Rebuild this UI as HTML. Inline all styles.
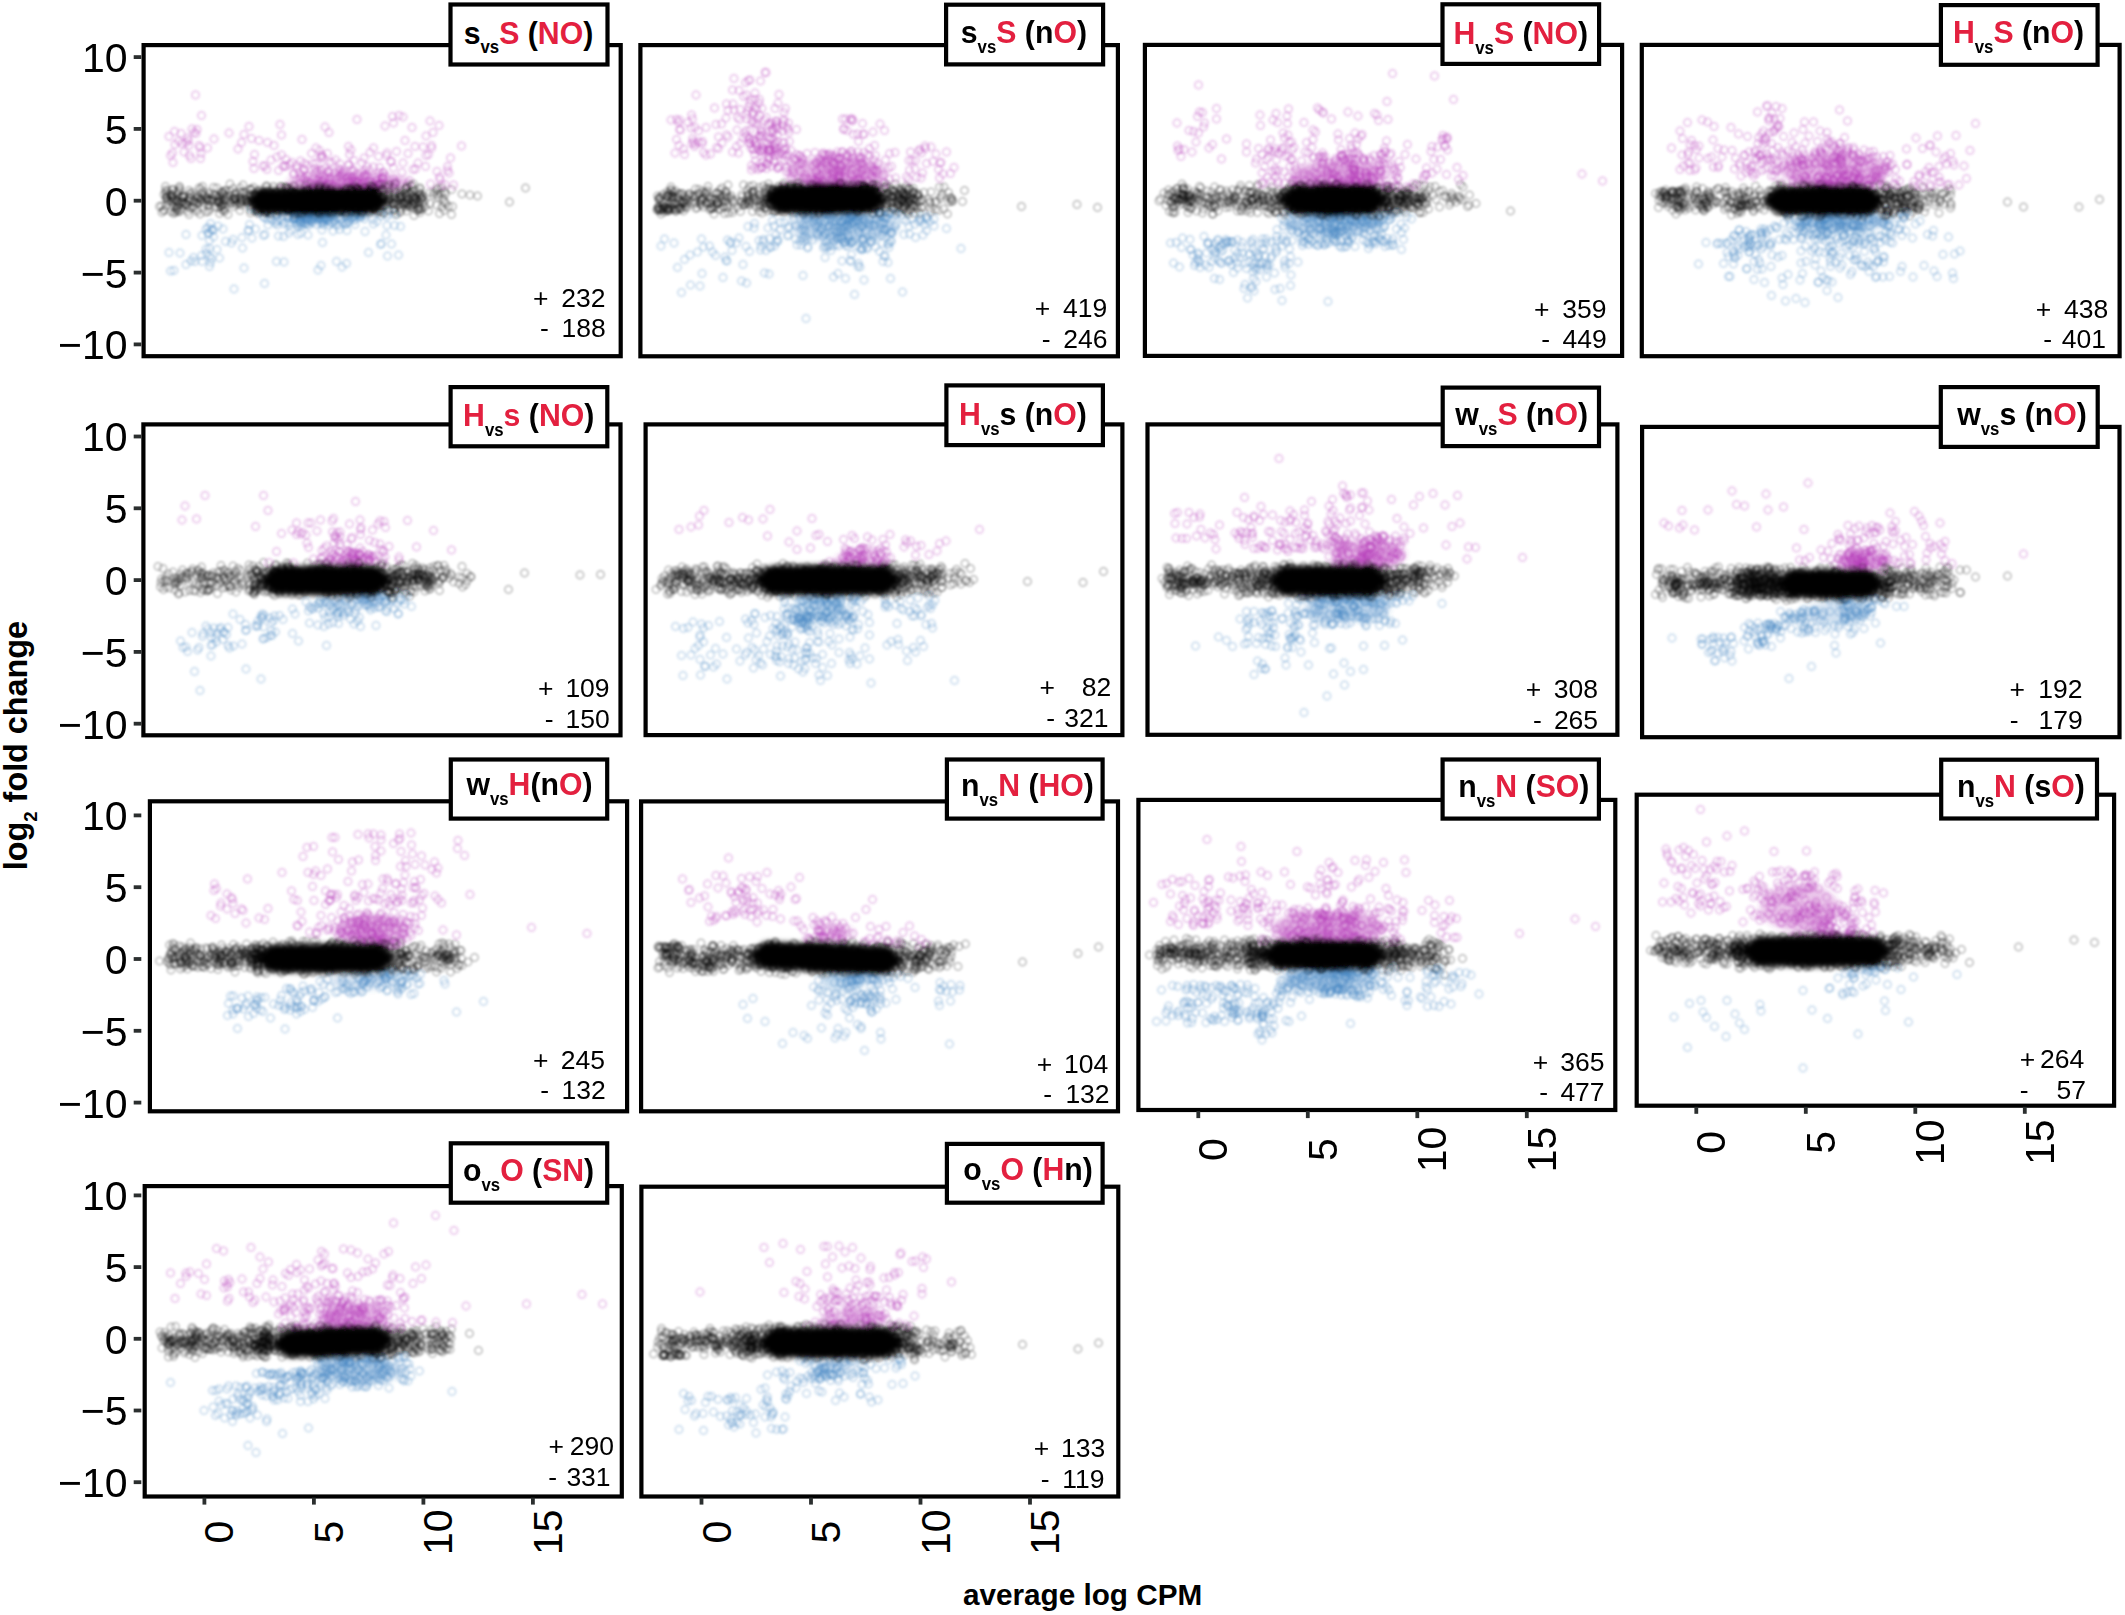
<!DOCTYPE html>
<html><head><meta charset="utf-8"><title>MA plots</title>
<style>
html,body{margin:0;padding:0;background:#fff;}
svg{display:block;}
text{font-family:"Liberation Sans",Arial,Helvetica,sans-serif;}
</style></head><body>
<svg width="2125" height="1615" viewBox="0 0 2125 1615">
<rect width="2125" height="1615" fill="#fff"/>
<defs>
<clipPath id="c13"><rect x="642.3" y="1187.6" width="475.10000000000014" height="308.0"/></clipPath>
<clipPath id="c12"><rect x="145.6" y="1187" width="475.29999999999995" height="308.5999999999999"/></clipPath>
<clipPath id="c11"><rect x="1637.6" y="795.6" width="475.5999999999999" height="309.19999999999993"/></clipPath>
<clipPath id="c10"><rect x="1139.3" y="800.8" width="475.10000000000014" height="308.29999999999995"/></clipPath>
<clipPath id="c9"><rect x="642" y="802.3" width="475.0999999999999" height="308.10000000000014"/></clipPath>
<clipPath id="c8"><rect x="150.8" y="802.2" width="475.40000000000003" height="308.20000000000005"/></clipPath>
<clipPath id="c7"><rect x="1643" y="427.8" width="475.5999999999999" height="308.49999999999994"/></clipPath>
<clipPath id="c6"><rect x="1148.4" y="425.3" width="468.0999999999999" height="308.59999999999997"/></clipPath>
<clipPath id="c5"><rect x="646.5" y="425.3" width="475.0" height="308.90000000000003"/></clipPath>
<clipPath id="c4"><rect x="144.3" y="425.3" width="475.3" height="309.09999999999997"/></clipPath>
<clipPath id="c3"><rect x="1642.7" y="45.8" width="475.9999999999998" height="309.5"/></clipPath>
<clipPath id="c2"><rect x="1145.8" y="45.8" width="475.4000000000001" height="309.2"/></clipPath>
<clipPath id="c1"><rect x="641.3" y="46" width="475.70000000000005" height="309.4"/></clipPath>
<clipPath id="c0"><rect x="144.5" y="46" width="475.29999999999995" height="309.3"/></clipPath>
<marker id="pk" markerUnits="userSpaceOnUse" markerWidth="11.4" markerHeight="11.4" refX="5.7" refY="5.7" overflow="visible"><circle cx="5.7" cy="5.7" r="3.7" fill="none" stroke="#000" stroke-opacity="0.2" stroke-width="2.0"/></marker>
<marker id="pm" markerUnits="userSpaceOnUse" markerWidth="11.4" markerHeight="11.4" refX="5.7" refY="5.7" overflow="visible"><circle cx="5.7" cy="5.7" r="3.7" fill="none" stroke="#b53cb8" stroke-opacity="0.23" stroke-width="2.0"/></marker>
<marker id="pb" markerUnits="userSpaceOnUse" markerWidth="11.4" markerHeight="11.4" refX="5.7" refY="5.7" overflow="visible"><circle cx="5.7" cy="5.7" r="3.7" fill="none" stroke="#4585c4" stroke-opacity="0.23" stroke-width="2.0"/></marker>
<filter id="bl" x="-30%" y="-80%" width="160%" height="260%"><feGaussianBlur stdDeviation="2.6"/></filter>
<filter id="soft" filterUnits="userSpaceOnUse" x="0" y="0" width="2125" height="1615"><feGaussianBlur stdDeviation="0.9"/></filter>
</defs>
<g filter="url(#soft)"><g clip-path="url(#c0)">
<ellipse cx="348.4" cy="181.9" rx="61.2" ry="9.6" fill="#b53cb8" fill-opacity="0.38" filter="url(#bl)"/>
<ellipse cx="314.4" cy="216.5" rx="27.2" ry="6.8" fill="#4585c4" fill-opacity="0.38" filter="url(#bl)"/>
<path d="M169 136.5l1.5 19 2 -2.5 .5 9.5 1.5 -31 .5 13 3.5 -3.5 2.5 -7.5 1 10 2 8.5 2 -9.5 1.5 -4.5 1 2.5 .5 5 .5 10 1.5 3 1 -29.5 2 3.5 1.5 -37.5 .5 38.5 1 -4 2 16 1 2 .5 11 .5 -5 .5 -38 6 32.5 6.5 -9 15 -6 9 16 3.5 -6.5 2.5 -8 5 -8 2.5 12 1.5 23 1 7 .5 -14 4.5 -14 4 25.5 2 0 2 3.5 .5 -27 3.5 17.5 3 -14.5 3 11.5 1.5 13.5 1.5 -46 1 64.5 .5 -34 0 -20 1.5 31.5 1.5 -1 1.5 1 0 -7 2 31 1.5 -26 1.5 24 1 -26 1 23.5 .5 -11.5 .5 -1.5 2.5 -7.5 .5 3 2.5 4.5 0 16 .5 -5.5 .5 -5 0 -17.5 1.5 -21.5 0 36.5 2 -7 0 1 .5 9 0 -15.5 1 24 1 -11.5 .5 -10.5 .5 16 0 9 1 -15 .5 9 .5 4 1 -5 1 4 0 -34 .5 30.5 1 5 0 -25.5 .5 26 1.5 -21 0 15.5 0 -11 1 -9.5 0 -15.5 1 24.5 0 -1.5 .5 9.5 .5 3.5 0 3.5 1.5 -13 0 6 0 -30 .5 34.5 0 -14.5 0 13 .5 -26 0 25 1 -27.5 0 25.5 .5 -24.5 0 14 1 11 0 -23 1.5 20.5 0 10.5 .5 -.5 0 -20.5 0 -41 .5 59 0 2.5 1 1 1 -18 0 21 0 -39 0 31.5 .5 -.5 .5 -1.5 0 -11.5 0 9 0 10 .5 -13 0 -45 .5 39.5 0 -9.5 1.5 21.5 0 -4 0 8 1 -25.5 1 24 .5 6 1.5 -6.5 0 -13.5 .5 -12.5 1 22.5 .5 -3.5 0 9 .5 0 1 -19 .5 15 0 -11.5 1 4.5 0 -13 .5 11 0 -5.5 .5 11.5 1.5 9.5 0 -17 .5 -.5 .5 -1.5 0 5 0 16.5 0 -6 .5 .5 .5 2 2.5 -11 0 4 1 -.5 0 -4.5 .5 -31 0 18 .5 17 0 -16.5 .5 -10.5 .5 25.5 1 -30 0 37.5 .5 -10.5 0 -7.5 0 12.5 0 -2.5 .5 7 .5 3.5 0 -18 .5 19.5 0 -2 .5 -8 0 -4.5 0 10.5 .5 -17 0 -10 .5 22.5 .5 -3 .5 1.5 1.5 1 0 -63 0 54.5 1 8 .5 .5 1 5.5 1 -3 .5 -1.5 .5 -11 0 21 .5 -6.5 0 -24 .5 23 0 -2.5 0 0 .5 6 0 -1 .5 -11 .5 3.5 0 -23 .5 17 0 .5 .5 -5 1 17 .5 -11 .5 -10 0 25 0 -17 1 11 0 6 .5 -9.5 .5 5.5 .5 2.5 0 -.5 0 -19.5 .5 -17.5 .5 30 1.5 0 .5 6.5 0 -3.5 1 -37.5 0 19 .5 20.5 1 -2 .5 2.5 0 .5 .5 -11.5 0 11.5 .5 -7.5 .5 0 .5 4 0 -.5 1 -28 .5 16 0 17 .5 -22 .5 16 .5 0 .5 .5 0 -.5 1.5 -6 0 -.5 0 2 .5 -6 .5 -.5 .5 11 0 8 1 -15.5 0 -50 1.5 29.5 .5 -2.5 1 36 .5 -4 2.5 -23.5 0 0 1.5 -45 1 51.5 0 -45 0 64 .5 -8 0 5.5 .5 -2 1.5 -.5 .5 7 0 -37.5 2.5 -36 3 57 1 -55.5 0 46 2 -22.5 3 43 0 -30 1.5 27 2.5 -53 1 42 2 -23 .5 22.5 2.5 -6 5 -16 2.5 19.5 .5 -30.5 0 19.5 2.5 -1 1.5 -33.5 .5 63 1 -36 0 -2.5 1.5 -13 4 39 2 -46 .5 51.5 .5 2.5 1.5 5.5 3.5 -.5 2.5 -18 0 4 1.5 2.5 1.5 -15 3 27 8 -39" fill="none" stroke="none" marker-start="url(#pm)" marker-mid="url(#pm)" marker-end="url(#pm)"/>
<path d="M169 252.5l1.5 18.5 3.5 -.5 6 -17.5 6 -18.5 0 30 5 -3.5 2.5 -3.5 1.5 4 6.5 -6 .5 -20 0 26 4 -32.5 0 20 .5 4.5 1.5 -20 0 -6 1 5.5 .5 7.5 0 16 0 -8 0 18 1 -43 0 39 .5 -33 .5 29 1 -28 1 6.5 0 -7.5 3.5 20 1 -23.5 1.5 32 3.5 -29 2.5 12.5 6 1.5 1.5 -3.5 1 49.5 8 -51.5 .5 10.5 1.5 20 4 -37.5 1 0 .5 -6 1.5 -16.5 1 30 3.5 -9 1 -18.5 2.5 2 4 -3 .5 7.5 0 18.5 1 -18 0 66 .5 -49 2 -23.5 .5 8.5 .5 5.5 2 -12 0 4 2 3 3.5 3.5 1 -9.5 0 2 0 5.5 0 40 1 -41 0 4.5 1 11 2.5 -23.5 0 8 0 -11 .5 .5 1 1.5 .5 4.5 .5 20.5 .5 25.5 0 -38 1.5 -1.5 2.5 -5 .5 -7.5 0 7 .5 8.5 0 7.5 0 -10.5 0 -11.5 2 19 1.5 -18 1 6 .5 .5 0 .5 0 -.5 .5 -5.5 .5 3.5 .5 1 .5 -6 0 -3 .5 1.5 0 12.5 0 -10.5 .5 -2 0 8.5 .5 6.5 0 -10.5 .5 -5.5 0 25.5 .5 -8 .5 -3 .5 -2.5 0 -2 .5 -5 .5 7 0 -9 .5 4.5 0 6.5 0 0 0 -9 0 19 .5 -17 0 -1.5 0 11.5 1 -9 1 -3 0 9 .5 -4.5 .5 -4.5 .5 2 0 8 1 -.5 0 -8.5 .5 5 0 -1.5 .5 -6 0 -1 .5 3 .5 6.5 0 14 0 -23.5 0 12.5 0 -11.5 .5 13 0 -6 .5 -9 .5 0 0 1 .5 2 .5 6.5 0 -3.5 0 -3 1 -1.5 0 9.5 .5 -9 .5 6.5 0 3.5 .5 -5 1 1 .5 -8.5 0 5.5 0 1 0 -5 0 4 .5 -1 .5 4.5 0 -8.5 .5 2.5 .5 11.5 0 -16 0 7 1 -3.5 .5 58 .5 -56 .5 4.5 .5 -1 1.5 48 0 -47 .5 5 0 -13 .5 3.5 0 -1 0 17 0 -8.5 0 -1.5 .5 22.5 0 -32 0 0 0 4.5 0 -2 1 0 0 1.5 0 10.5 0 -14 0 7 .5 1 0 3 .5 -10 0 8.5 0 -3 .5 0 1 -7.5 0 8.5 .5 -6 1 .5 0 0 0 7.5 1.5 -8 0 8.5 0 4 1.5 -11 0 -5 .5 8 .5 5.5 .5 -10 0 2 0 -2 0 -2 .5 12.5 .5 -14.5 0 4.5 0 18 0 -14.5 .5 -5.5 1 9 0 1.5 2 3.5 0 36.5 .5 -48.5 1 4 1.5 12.5 0 -4 1 -6 1 -7.5 .5 55 .5 -56 0 12 0 -12.5 1.5 11.5 1.5 2.5 .5 -1 0 -7.5 .5 47.5 0 -49 .5 16 0 -11 .5 -3.5 .5 6.5 0 -10 1 9 .5 -9.5 .5 0 0 3.5 1.5 2.5 0 0 1.5 -9.5 1 12 0 -4 1 -8.5 0 8 0 0 0 -3.5 0 12 .5 -9.5 0 4 1 -5 0 -1 2 -3 1 5 .5 1.5 0 -3 .5 4 .5 -1.5 .5 -2.5 .5 -6 2 6.5 .5 2 0 3 .5 12.5 3.5 21 .5 -41.5 4 8.5 .5 4.5 3.5 -2.5 3.5 -12 0 35 .5 -28.5 .5 27.5 4.5 -8.5 1 -9.5 0 -9 .5 39.5 .5 -42 .5 -3.5 3 33.5 3 -18.5 .5 -11 3.5 40.5 2 -28.5" fill="none" stroke="none" marker-start="url(#pb)" marker-mid="url(#pb)" marker-end="url(#pb)"/>
<path d="M159.5 206.5l2 -.5 .5 6.5 1.5 -2 .5 -16 .5 15.5 1 -23.5 0 4 .5 8 0 7 0 -12.5 .5 4.5 .5 -2 0 1.5 .5 -6.5 0 9.5 .5 1.5 2 -7 .5 6.5 .5 10.5 0 -14.5 .5 -2 0 3.5 1 -8.5 0 12 0 -7 .5 -5.5 0 8 .5 16 .5 -6.5 0 -7.5 .5 3.5 0 9 .5 -12.5 1 -7.5 .5 17 0 3 .5 -11.5 0 .5 0 6.5 0 2 .5 -8 0 -6.5 0 11 1 -14.5 0 19.5 .5 -7 .5 -17.5 0 3.5 0 -2 .5 23.5 0 -13.5 1 11 0 -7.5 1 -5 .5 5.5 0 -5 .5 4.5 0 -4 .5 -2 .5 8.5 .5 -7 1 7.5 0 -1.5 1 1.5 0 1 1.5 6 0 -10.5 .5 5 .5 -4.5 0 -11 0 24 1 -16.5 0 10 0 -14.5 0 4.5 .5 -3 1.5 -2.5 1 14.5 1 -5.5 0 -.5 0 6 .5 -11 2 7 .5 6.5 0 2 0 -13.5 1 4.5 0 -5.5 0 2 .5 4.5 .5 -15.5 .5 10.5 .5 15.5 .5 -13 0 -12 1 5 0 6 .5 -1 .5 -12.5 .5 5 .5 11.5 1 -8 0 1.5 1.5 15.5 1 -14.5 0 1 0 2 .5 -.5 1 5.5 0 6 0 -11.5 .5 -5.5 0 10.5 0 -12.5 .5 16.5 .5 -8 2 -1 0 -2 0 3 1.5 -13.5 0 7 1 12.5 .5 -11.5 1.5 .5 .5 -8 0 10.5 1 2.5 0 6.5 0 -5 0 -.5 .5 -5 1 16.5 .5 -17.5 0 6.5 0 0 0 -2 1 -2 0 8.5 .5 -1.5 0 -13.5 0 13.5 .5 -12 0 16.5 .5 -6 0 -12 .5 8.5 .5 -5 .5 9 0 -10.5 .5 16 0 -10 0 7.5 0 4 .5 -20.5 .5 -.5 1 5.5 .5 3.5 1 15 1.5 -14 .5 -16.5 0 7 .5 5 0 6.5 1 1 1 -3.5 0 -1 .5 -10.5 .5 18 .5 -4 .5 -8.5 0 4.5 0 0 .5 -3.5 .5 3.5 0 .5 .5 -6.5 .5 12 0 -3 3 -4 .5 13 0 -18.5 0 11.5 0 -15.5 .5 13.5 0 1.5 .5 2.5 0 -5.5 .5 -1.5 .5 2.5 0 -8 .5 8 .5 -16 .5 7.5 1.5 9 0 -2.5 0 -3 1 -3.5 .5 7 1 2.5 .5 0 1 -7.5 .5 -5 0 16 1 -4.5 0 12 0 -3 0 -13.5 .5 -7 0 0 0 5.5 1.5 7.5 0 -4 1 -11 1 23.5 0 -17 .5 3 0 -2 0 -.5 1 7.5 0 -6 0 9 .5 6 0 -7 .5 6 .5 -18.5 0 9 0 8 .5 -12 0 17 0 -18.5 .5 9 .5 -13.5 0 17.5 0 -3 0 6 1 -17.5 0 11.5 0 -5.5 .5 -.5 0 9.5 0 -11.5 .5 7 0 -.5 .5 -4.5 0 -3.5 0 8 .5 -6 .5 -2.5 0 .5 0 3.5 0 -1.5 .5 4.5 .5 -9.5 0 16 .5 -13 0 -2.5 .5 2 0 8 .5 -3.5 0 14 0 -15 0 2 0 1 .5 9.5 .5 -1.5 .5 3 0 -7.5 0 -19 0 .5 0 5.5 0 18.5 .5 -14.5 0 10 .5 -7.5 0 -4.5 0 11.5 .5 -5.5 0 12 0 -14.5 .5 -6 .5 12 1 -5.5 0 11.5 1 -12 0 1.5 0 15 0 -4.5 0 -16 .5 12.5 .5 -5.5 0 -7 0 4.5 0 -4.5 .5 8.5 1 -.5 0 -15 0 18.5 .5 -10.5 0 8 .5 -3.5 0 2 0 -6 .5 8.5 1 -7.5 0 -3.5 0 14 0 -14 .5 7.5 .5 2.5 .5 6 .5 2.5 0 -.5 0 -4 1 -7.5 1 1 0 -5 .5 -8.5 0 8.5 .5 -1.5 .5 -6.5 .5 13.5 0 7.5 0 -15 1 12.5 0 -2 0 -1.5 1.5 -8 0 14 .5 -20.5 0 13 0 4 .5 -3.5 .5 -14.5 .5 1.5 0 6 0 7 .5 8 0 -9.5 0 -2.5 .5 12 0 1 0 -7 .5 -4.5 0 0 0 -10.5 0 20.5 .5 -3 0 -3.5 0 2.5 .5 -4.5 .5 -1.5 0 12 0 -1.5 .5 -5.5 0 -15 0 8 0 10.5 .5 -4 0 -10 0 3 0 1 .5 0 0 7.5 .5 -12 0 -1.5 0 13.5 0 4 .5 -4.5 0 -4.5 .5 1 0 5.5 0 -6.5 0 8.5 0 -10.5 0 1 1 3 .5 -6 0 -9.5 0 13 .5 -5.5 0 21 0 -7.5 0 -13.5 .5 15.5 0 -16 0 11 0 0 0 0 0 .5 .5 -4.5 .5 -6.5 0 4 1 -3.5 1 1.5 0 2 0 16 .5 -7.5 .5 -6 .5 -2 1 1 .5 -3 0 10 0 -9 0 5.5 .5 -5 .5 16 0 -20 .5 7 0 -3.5 0 10 0 -9 0 1.5 0 -5 .5 2 0 12 0 -6 0 1.5 .5 -12 0 12 0 -2.5 .5 4 0 -10 .5 9 0 6 .5 0 0 -1.5 .5 -8 .5 -16 0 10 .5 .5 0 0 .5 10 0 -15 .5 9 0 5 0 -2 0 -5.5 0 -7.5 .5 9.5 0 2 0 1.5 1 -8 0 5 0 -3.5 0 -.5 .5 14 0 -9 0 .5 0 -6.5 0 8.5 .5 -7.5 0 7.5 0 -.5 .5 -9 0 2.5 0 10 0 -10.5 .5 7.5 0 -6.5 0 3 .5 .5 .5 -3 0 2 .5 2 0 -4 .5 3.5 .5 1.5 0 7.5 0 -22.5 0 7 3.5 2 0 -2 0 5.5 0 3 0 -4 0 1.5 0 8.5 .5 -9 .5 13 .5 -23 .5 10.5 0 11.5 0 -23.5 0 12 .5 14 0 -22 0 -6.5 .5 8.5 .5 -6 0 8 .5 0 0 -1 0 7.5 0 -8 .5 -.5 0 9.5 0 2 0 5 0 -9 0 4 .5 -2.5 0 -8 .5 2.5 0 7 .5 2.5 0 -3 0 -13.5 0 11.5 .5 -6 0 3.5 0 5 .5 .5 0 -4 0 -4.5 .5 5 0 -6.5 .5 1 0 -7 0 8.5 .5 -2 0 2.5 0 -3 0 -8 1 12 0 3 .5 .5 0 -4.5 .5 -3.5 1.5 6 0 0 0 12 0 -11 0 9 0 -11 0 2.5 .5 -6 .5 12 0 -15 0 1.5 .5 7 0 .5 0 -13 .5 16 .5 .5 0 7.5 .5 -13.5 0 -7.5 0 2 .5 0 0 11.5 .5 -9.5 1 4.5 0 -4.5 2 8.5 0 .5 0 -3.5 .5 -5 .5 5 1 -6.5 0 8 0 -6.5 .5 8.5 .5 7 1 -6 0 -5.5 .5 8.5 0 -15 0 3 0 14 .5 -7.5 .5 -5.5 .5 13 0 -10.5 .5 -2 0 2.5 0 -2.5 .5 6 0 -6.5 .5 -6 0 2.5 .5 6 0 -.5 .5 -4.5 0 5 0 -7 0 6 1 .5 0 13 0 -23 .5 8.5 0 14 0 -14.5 .5 -2.5 0 -1 0 -5.5 0 9 .5 7.5 0 2.5 0 -7.5 .5 4 0 -2.5 .5 -3.5 0 -3 0 -8 0 14.5 0 -6.5 .5 7 0 -5.5 .5 5.5 0 -5 1 9 0 -5.5 0 -4 .5 1 0 -3.5 0 -5 .5 15.5 0 -3.5 0 -13 .5 1 0 8 0 8 .5 6.5 0 -20.5 0 12 0 -6.5 .5 -2 0 3.5 0 8 .5 -1.5 0 -14.5 0 8.5 .5 -1 .5 5.5 .5 -2 .5 7 0 -22.5 0 13.5 .5 1 0 8 .5 -20.5 0 9.5 .5 7.5 0 -12 0 -4 .5 4 0 8.5 0 -1 0 11.5 0 -3 .5 -8 0 -12.5 0 11.5 1 -11 .5 1.5 0 13.5 0 -11 0 7 .5 .5 0 5.5 0 -10.5 0 3.5 0 -2 .5 10.5 0 3 .5 -14.5 .5 8 0 -14 .5 22.5 0 -9 0 -3 0 -2 1 13.5 0 -8.5 .5 -3.5 .5 -5.5 .5 -1.5 0 6.5 0 7.5 0 -8.5 0 -11 .5 20.5 0 -5 .5 3.5 0 -2 .5 -9.5 0 4.5 .5 1.5 0 -6 .5 4.5 0 1.5 0 -1.5 .5 4 0 -1.5 0 -1.5 .5 -1.5 0 0 .5 -7.5 0 11 0 -.5 .5 3 1 -12 0 13 0 6 .5 -17 0 5 0 -11 0 1 .5 -4.5 0 6 0 13.5 0 -4 0 -5 .5 5 0 7.5 .5 -13.5 0 -4.5 0 -4.5 .5 17 0 2 0 -12.5 .5 7 0 -7 0 -4.5 0 20 .5 -.5 0 -5 0 -15.5 .5 12 0 -2.5 0 -2.5 0 0 0 5 .5 7 0 2.5 0 -13 .5 3.5 0 7.5 0 -10 0 3.5 .5 -2 0 11.5 0 -5.5 0 -4 1 7.5 .5 -14.5 0 6 .5 3 0 4 0 -10 0 6.5 0 -7.5 0 -1 .5 9 0 9 0 -18.5 0 7.5 0 4.5 .5 -3.5 0 -1 .5 -9.5 0 11 .5 -9.5 .5 -7.5 0 27 .5 -6 0 -9.5 0 13.5 .5 -21.5 0 2.5 .5 10.5 .5 -2.5 0 4 .5 -14.5 .5 24 0 -14.5 .5 7.5 .5 -16 .5 8.5 0 -2.5 0 9.5 .5 7.5 .5 -12 0 -15 1 18 1 -8 0 2.5 .5 2.5 0 4 .5 -17.5 .5 22.5 0 -14.5 0 6 0 -6 .5 -10.5 0 8 0 6.5 0 -1.5 1 1 1.5 -3 1.5 7.5 0 6 .5 -22 0 12 0 3.5 0 1 .5 1 .5 -9 0 -3.5 0 16.5 .5 2.5 .5 -8 0 -19.5 .5 14 0 3 .5 -9 0 22.5 .5 -13.5 .5 4 .5 -.5 .5 -8 .5 3.5 .5 -7 .5 19.5 0 -18.5 .5 4.5 0 12.5 0 -14.5 .5 -.5 0 12 .5 -11.5 0 3 0 4 .5 -13 1 13 0 -6.5 .5 5.5 .5 2.5 1 -12 0 11 .5 -16.5 0 12.5 0 2.5 0 -9 .5 13.5 0 -17.5 0 12.5 .5 -13.5 0 7.5 0 1.5 0 13.5 1 -7 0 -17.5 .5 17 0 2 .5 -13 .5 6.5 .5 -5 .5 13 0 -.5 .5 -12.5 .5 10 0 -19 .5 1.5 0 5 1 9.5 0 3.5 0 -7.5 .5 2 0 -3 .5 -12 0 23.5 .5 -12.5 0 20.5 0 -11 0 -14 0 10.5 .5 1.5 0 -5 0 6 1 -4 0 -1.5 .5 1.5 1 11 0 -12.5 1 11.5 0 -3 .5 -5 0 -9.5 .5 17.5 0 -2 0 -12 0 13.5 1 3.5 0 -23.5 0 5.5 0 -6.5 1 10.5 0 -4.5 0 15.5 0 -12 .5 1.5 0 9.5 .5 -9 .5 -2.5 .5 -.5 0 7 1.5 -2.5 .5 6 3.5 4 1.5 -7.5 0 -11 3.5 2.5 .5 -3 2.5 13 .5 -15 .5 -2 0 6.5 .5 3 1.5 16 1.5 -20 .5 -5.5 .5 19 1 -8.5 1 3 0 9 .5 -18.5 1 2 0 9 3 3.5 3 -17 0 25 1 -8 9.5 -12.5 8 1 7.5 1 32 6 16 -14" fill="none" stroke="none" marker-start="url(#pk)" marker-mid="url(#pk)" marker-end="url(#pk)"/>
<g filter="url(#bl)"><g><ellipse cx="317.2" cy="200.9" rx="70.9" ry="13.4"/><rect x="251.3" y="188.4" width="131.8" height="25.0" rx="12.5"/></g></g>
</g>
<g clip-path="url(#c1)">
<ellipse cx="836.5" cy="172.9" rx="51.0" ry="16.4" fill="#b53cb8" fill-opacity="0.38" filter="url(#bl)"/>
<ellipse cx="845.5" cy="227.9" rx="53.3" ry="14.7" fill="#4585c4" fill-opacity="0.34" filter="url(#bl)"/>
<path d="M671 120l4 33 1.5 -33.5 0 20 2 -17 .5 23 .5 -16 0 -9.5 1 10 3 19 1 5.5 3.5 -32 3 5.5 .5 -13 .5 28.5 .5 -5 0 -19.5 1 22.5 1 5 .5 -19 0 16.5 1 -49 2.5 47 0 -11 3.5 12.5 .5 -2 1 11 2.5 -25 0 27.5 4.5 -1 4 -46 1.5 16.5 .5 23 2 1 0 -11.5 3 -13 .5 19 4 -25 .5 -14 0 31 1.5 -24.5 0 26.5 4.5 -47 0 62 .5 -48 1 6 0 -31.5 2.5 68 .5 -16.5 .5 -12.5 1 35.5 .5 -62.5 .5 29 .5 -10 .5 34 2.5 -5.5 .5 -41.5 1.5 36.5 .5 -50.5 1 12.5 0 41 0 -5.5 0 -16 .5 4.5 1 -8 .5 -4 0 -26.5 1 63 0 -4.5 0 0 .5 -8.5 0 -27 0 39.5 0 -63 1 20 0 48 .5 22 0 -4.5 .5 -44.5 1 19.5 0 -27 0 36 0 -27 0 -10.5 1 37.5 0 -10 .5 28.5 0 -13.5 .5 -61.5 0 15 0 -8.5 .5 61 0 -37.5 0 21 .5 -2.5 .5 4.5 .5 -36.5 .5 9.5 0 5.5 0 25 .5 20 1 -66.5 0 33.5 .5 -37 0 16 .5 19.5 0 15.5 .5 -21.5 0 34 0 5 0 -16.5 0 -70.5 0 56 1 -5.5 0 1 .5 35 0 -59 0 44 0 14.5 .5 -31.5 0 11 0 3 .5 -1 .5 13 0 -11 1.5 -30 0 23 0 -71 1 0 .5 45 0 51 .5 -4.5 0 0 .5 -20.5 1 6.5 0 -24.5 0 11.5 0 22 0 -8.5 0 -27 0 33 .5 -6.5 .5 -10.5 0 19.5 0 -5.5 0 -6.5 .5 3 0 -18.5 1 7 0 12.5 0 15.5 .5 -43.5 .5 26.5 .5 -16.5 0 -4 1 1.5 0 8.5 .5 21 0 -15.5 .5 7 0 -4.5 0 15.5 0 -14 .5 7 0 -47 .5 35 .5 -22.5 .5 4.5 0 -4 0 27 0 -21 0 -3.5 .5 27.5 .5 -16.5 0 6.5 0 27 .5 -65.5 0 26 0 38.5 0 -12.5 .5 12.5 .5 -73 0 59 1 12 1 -13.5 1.5 -21 0 12 .5 -18 0 29 .5 32.5 0 -67 0 31 .5 -38 0 9 .5 26.5 0 12.5 0 29 0 -47 1 -34 .5 48 0 -6.5 .5 21.5 0 -4 .5 -40 .5 27 .5 -25 .5 -6.5 0 37 .5 -27.5 .5 9 1.5 21.5 0 -12.5 .5 27.5 1 -9 1 3.5 .5 -14 .5 1.5 2 -5.5 0 -25 .5 29.5 2 -3 0 31.5 .5 -24 .5 -8 .5 16 .5 -8.5 1 -5 .5 2 .5 3.5 .5 15 1 5.5 .5 -9 .5 3 1.5 -24.5 .5 25.5 2.5 10 0 -5.5 1 1.5 .5 .5 0 -7 1.5 -12.5 1 14.5 .5 6 0 -6.5 0 8.5 .5 -36 .5 31.5 .5 -13.5 .5 11.5 0 -19 0 9.5 0 -10 .5 19 0 -1 .5 7.5 .5 -9.5 0 -1.5 .5 8 0 3 0 -6 0 -7.5 .5 -15.5 1 26.5 .5 -25 0 2 0 22.5 0 -9 .5 5 0 2.5 0 5.5 0 -2.5 .5 -19 .5 -13.5 0 10.5 1 21 0 -11.5 .5 -21 .5 29.5 0 -27 .5 7.5 0 25 1 -33 .5 7.5 .5 12.5 .5 -9 .5 -11 0 21.5 .5 8.5 .5 1.5 0 -27.5 .5 -3.5 .5 -2 .5 26 .5 8.5 0 -21 .5 7.5 0 -4.5 .5 -12 0 29.5 .5 -7 .5 -18.5 0 -6.5 .5 19 0 4 0 -10.5 0 15 .5 -11.5 0 .5 0 -9 1 1 .5 23 0 -15 .5 10.5 0 -24.5 0 26 .5 -28.5 0 26 1 5 0 3.5 .5 -15 0 -23 .5 7 0 12 .5 9 0 3.5 0 -1 .5 -12.5 0 -11 0 16.5 .5 3.5 0 -1 .5 -13.5 0 -6.5 0 26.5 0 -1.5 .5 -8 .5 -9.5 0 6 0 14 .5 -19 0 2 .5 21 0 -.5 0 -1.5 0 -35.5 .5 0 0 -33 .5 64.5 .5 -54 0 42 .5 16.5 0 -3.5 0 -56 .5 58.5 0 -10.5 .5 -14.5 .5 -43 0 51.5 0 2.5 .5 -17 1 -25.5 0 23.5 1 2 1 7.5 0 16.5 1.5 -6.5 0 -54 0 32.5 .5 30 .5 -18 0 -13 0 -32.5 .5 51.5 0 -15.5 0 31 0 -64.5 .5 55.5 0 -18 .5 -38.5 0 42.5 .5 5.5 0 -33.5 .5 46.5 .5 -.5 .5 2 .5 5 .5 2 0 2.5 .5 -19.5 .5 17.5 .5 -4 0 -52 .5 45.5 0 -27.5 0 26 .5 -36.5 0 38.5 .5 -23.5 .5 17.5 .5 -14 0 -2 1 4.5 .5 12 0 -3 0 -7 0 14.5 0 -21 .5 12 0 13 .5 -20 0 -39.5 .5 64.5 0 -53.5 .5 52 0 -20.5 0 3 .5 -35 0 18.5 1 23 2.5 -21 0 26.5 2 -32.5 0 7.5 1 32 0 -13.5 .5 -8.5 .5 11.5 .5 9 .5 -17.5 .5 -37 0 39.5 .5 -1.5 .5 -10 0 18.5 .5 -33 1 10 0 35.5 0 -3 .5 -17.5 .5 1 .5 9 0 7 1 -24 2 -39.5 3.5 51 .5 8.5 0 5 .5 -58 0 52 1 -22.5 3 8 1 11 0 -25.5 2 13 3.5 -14 .5 25.5 11 -1 2 2.5 .5 -19 .5 9.5 1 -18 1.5 8.5 3 8.5 .5 -8.5 1 17 2 -26.5 1.5 -1.5 1 28.5 .5 -25 1 20 2.5 -27 .5 2.5 1 15 4.5 -16.5 2 14.5 3 -7.5 2.5 15.5 1 8.5 .5 -15 1 -.5 2 11.5 3.5 -22 4 21.5 3.5 -6" fill="none" stroke="none" marker-start="url(#pm)" marker-mid="url(#pm)" marker-end="url(#pm)"/>
<path d="M661 246l3.5 -7 9.5 4 3.5 24.5 4 25 3 -33 5.5 -4.5 .5 30 7 -33 2.5 34 1.5 -47 .5 34.5 1.5 -26.5 6 -1 3 6 3 3.5 7.5 22 2 -20.5 1 3.5 1 .5 .5 -21 3 2 0 1 1.5 7.5 4.5 -7.5 2.5 -5 2.5 43 1.5 -16.5 3 -18 .5 36.5 1.5 -56.5 1.5 25 4.5 -23.5 .5 -4.5 4.5 17 1.5 9.5 .5 -3.5 2 -5 .5 -2 1 33.5 1.5 -22.5 2 -22.5 1 46 .5 -35.5 .5 8.5 .5 .5 2 -27 1.5 5.5 .5 20 1.5 -11.5 .5 7.5 1 -2.5 .5 1.5 2 -11 .5 -7.5 4 0 3 13.5 1 -1 0 -7 .5 -1.5 4 -10.5 1 3.5 1.5 19.5 0 -13.5 .5 -13 1 32.5 3 -27.5 0 23.5 1 4 0 -30 1 23 0 -8.5 .5 -17 .5 12.5 0 50.5 .5 -60 .5 25.5 0 -26 .5 12.5 0 10.5 .5 -7.5 0 5.5 1 82.5 0 -93.5 .5 -6.5 .5 -3 .5 23.5 0 9 .5 -1 1 -32 .5 -1 0 3.5 3 22.5 1 -18 .5 -9 0 4.5 0 -1.5 1 8.5 .5 2.5 0 -7 1.5 13 .5 -16.5 .5 6.5 0 3.5 0 8.5 1.5 -22.5 1 18.5 0 -10 1 7.5 1.5 -4 0 12 .5 11.5 1 -27 0 -7.5 0 32.5 .5 -23.5 0 35 0 -24.5 0 1 0 -21 1 29 .5 6 0 -34 .5 .5 .5 31.5 1 -33 .5 19.5 0 -18.5 0 12.5 0 -11.5 .5 10.5 0 20.5 0 -29.5 1 20 .5 -22.5 0 36.5 1.5 -29 .5 -5 0 29.5 0 -21.5 .5 -11 0 15 0 48.5 0 -40.5 .5 4.5 .5 -16 1.5 -4 0 .5 .5 23 0 -12 .5 5.5 1 35.5 0 -35 0 -7 0 -4 .5 -15 0 33.5 0 -10 0 -19 2 15.5 .5 3.5 0 -14.5 0 1 .5 -13 0 21 0 -2 .5 9.5 0 23 0 -49 0 27 0 -18 1.5 5.5 .5 -6 0 6.5 .5 3.5 0 12 .5 -24.5 0 -8 0 32.5 0 -25 .5 61 0 -33 0 -3.5 .5 -22 .5 6 1 4 0 16.5 .5 -35.5 0 14 0 2 0 -15 .5 28.5 0 -23 0 17.5 0 -14 .5 17 0 -19.5 .5 -4.5 .5 46.5 0 -17.5 0 -23.5 .5 9 0 -10 0 -8 .5 14 0 37 0 -45.5 0 -2 .5 40.5 0 -39 .5 7 0 20 0 0 1 -27 0 8 .5 -6 0 3.5 0 20 0 -25.5 1 79 0 -73.5 1 -8 .5 7 0 26 1.5 -26 .5 -4 0 12.5 0 38 .5 -34 0 -16 0 6.5 0 40.5 .5 -32.5 1 36 0 -18.5 .5 -33.5 .5 12 0 -1 .5 24 .5 -37 0 9.5 .5 -4 0 30.5 0 -9.5 0 .5 0 8.5 .5 -33.5 0 11 0 13.5 .5 -.5 .5 41 .5 -35 .5 -25.5 0 3 1.5 8 .5 18.5 0 -1.5 1 -24.5 1.5 3.5 0 -7 .5 4.5 .5 18.5 .5 -2 1 -6.5 0 7.5 .5 -28 .5 12 0 12 .5 -24.5 .5 11 1 2 .5 21 .5 -28 1.5 -3.5 2 8.5 0 27.5 .5 -36.5 0 .5 0 -2.5 .5 -.5 .5 -.5 0 16 1 7.5 0 7.5 .5 -19.5 0 -7.5 .5 45.5 0 -29 1 23 0 -26.5 0 -6.5 .5 7.5 0 -12 .5 38.5 .5 -39.5 .5 2 .5 -3 0 13.5 1 -11 .5 44 0 -18 .5 -1.5 .5 4.5 0 -34 1 -.5 .5 65.5 0 -46 .5 8 0 1.5 .5 -9 .5 0 0 -20 2.5 2.5 .5 -1.5 0 12.5 1 -2.5 .5 -10 5 1 1 77 .5 -73 1 15.5 2 -13.5 3 5.5 .5 7.5 2.5 -15.5 2.5 6 1 13 3 -16 1.5 -2 .5 -1.5 1 3.5 1.5 13.5 1.5 -10 2 5.5 0 -13.5 .5 .5 0 2 3 2 4 4.5 0 -7 12.5 9.5 14.5 20" fill="none" stroke="none" marker-start="url(#pb)" marker-mid="url(#pb)" marker-end="url(#pb)"/>
<path d="M657 210l.5 -2 0 -12 .5 14 .5 -10.5 0 7.5 0 2 .5 -2.5 .5 -9 0 1.5 0 10 0 -10.5 .5 11 0 1.5 1 3 0 -17 0 4 0 8.5 2 -3.5 0 2.5 0 -14 0 7.5 0 7 .5 .5 .5 2.5 1 -5 0 -.5 2 -14.5 0 18.5 0 -14.5 0 12.5 .5 -.5 0 -11.5 0 12 0 2.5 .5 -15 0 8.5 .5 -11 0 2 0 13 .5 1.5 0 .5 0 -2 1 -11 .5 -3.5 .5 12.5 0 -19.5 0 3.5 0 -.5 0 14 .5 -8 0 13 .5 -10 0 1.5 .5 -4 .5 0 .5 12.5 0 -16.5 .5 11 .5 -5.5 .5 10.5 .5 -5 0 -12.5 0 20 .5 0 .5 -1.5 .5 -11.5 .5 -1.5 0 9 .5 3 1 0 0 -15 0 1 .5 12.5 .5 -6 .5 8.5 .5 -1 0 -5 .5 -10 1 9 .5 -8.5 .5 9 0 8 0 -9 .5 -1.5 0 -4 .5 10 .5 -4 .5 1 1 4.5 0 -1.5 0 -6.5 0 -1.5 1 5 1 -7.5 .5 -2 .5 0 3 2 .5 4.5 .5 -4 1 7.5 1 -8 0 6.5 0 -4 0 -9.5 .5 19.5 1 -1 1.5 -13.5 .5 -.5 0 -4 1.5 14.5 .5 -1.5 0 -2 .5 4.5 0 -4.5 .5 -2 .5 -7 0 8 .5 7.5 .5 -9.5 1 -4.5 1 1 0 8.5 1 .5 .5 -10.5 .5 3 0 -5 .5 -4 1.5 11 0 12 1 -10 0 4 0 0 .5 4 0 1.5 .5 -1 .5 -8.5 1 9 1 -3 0 8.5 .5 -6.5 .5 -7.5 .5 -1 1 -6 0 .5 1 8.5 0 .5 0 1.5 .5 -10.5 0 10 .5 5.5 0 -10 1.5 -9 0 4.5 .5 3.5 0 11.5 1.5 -8.5 0 -13 1.5 8.5 0 10 0 .5 .5 -5 .5 11.5 1 -22 0 9.5 .5 -9 0 5 .5 -2.5 .5 9.5 .5 3 .5 -22 .5 12.5 0 15.5 2.5 -17.5 .5 2.5 .5 2.5 .5 12 .5 -3 1 -6.5 0 -2.5 3.5 7 3 4 .5 -9.5 .5 -7 .5 6.5 .5 -4.5 0 8 1 -20 1 19.5 .5 .5 .5 -1.5 .5 -1.5 1 -2 .5 -10 0 6 .5 7.5 0 -9.5 1 1.5 0 9 .5 -3.5 0 1 0 -15.5 .5 13 1.5 -7.5 1 19.5 .5 -26 0 17 0 -6.5 0 -2.5 0 -1.5 .5 5.5 .5 -6.5 1 8.5 1 7.5 .5 -6.5 2 -9.5 .5 9.5 0 -5.5 0 9 0 7.5 0 -24 1 20 .5 -9 0 7 1 -4 .5 -6 0 17.5 1 -8.5 .5 -5.5 0 -13 1 16.5 .5 -9.5 0 10.5 0 4 0 .5 0 -11.5 1 -7.5 .5 10 0 0 0 9 .5 -15 0 11 .5 7 0 -23 .5 9 .5 -13 .5 6 .5 12 0 1.5 0 -15.5 .5 16.5 0 -7 .5 -1.5 0 -6 0 14 1 -6.5 0 -2.5 0 15.5 0 -17.5 .5 7 0 -8 0 14.5 .5 -14 0 -2.5 .5 -.5 0 7 0 1 0 -1 .5 6 0 -12.5 0 8 .5 3 0 4 0 7 .5 -15 .5 .5 0 9.5 0 4 0 -18 0 18 .5 -19 0 5.5 .5 1 0 -1 0 0 .5 -7 .5 6.5 0 -3.5 0 14 0 -12 0 5 1 9.5 0 -5.5 0 -12.5 0 14 .5 -15.5 0 -4 0 8 .5 -4.5 0 10.5 .5 -6.5 0 .5 .5 2 0 .5 0 3 0 -3.5 .5 10 .5 -10.5 0 -6 .5 20.5 1 -20.5 0 18 0 -9 0 4.5 .5 -13 0 14 0 4.5 .5 -23 0 26.5 0 -8.5 0 3.5 .5 -.5 0 -24 0 15 0 -1.5 0 -1.5 .5 5 .5 .5 0 4 0 -10 .5 13.5 0 -12 0 -7.5 .5 3.5 0 13 .5 3.5 0 -13 0 -3.5 .5 7.5 .5 8.5 0 -10.5 1 -3 0 6 0 2.5 .5 2 0 -4.5 .5 -14.5 0 12.5 0 -7.5 .5 -2 0 -1.5 .5 14 0 -4 .5 -2 0 3 .5 7.5 0 -7 0 -5.5 0 7.5 0 -16.5 0 26 .5 -23 0 21 0 -7 .5 -9.5 0 6.5 .5 -10 0 7.5 0 17 1 -11 0 -3 0 -7 0 3.5 .5 3 0 -4 1.5 -7.5 .5 7 0 1.5 0 -4 0 11 .5 -19 0 10 0 12.5 0 -7 0 -11.5 0 21.5 .5 -10.5 .5 -11.5 0 7 .5 8.5 0 -6.5 .5 -9 0 -4 0 9 1.5 -2.5 0 1 0 20.5 0 -5 .5 -11.5 .5 -1.5 0 4 1 1 0 14 .5 -2.5 .5 -5.5 0 10 0 -5 0 -11.5 0 1 .5 -7.5 0 12.5 .5 -11.5 0 2 .5 -2.5 0 1 1 10.5 .5 -11.5 0 20.5 .5 -14 0 -1 0 12.5 .5 -9 .5 -4 1 2 0 8.5 1 0 .5 -15 0 13 .5 -13 0 4.5 0 1.5 0 7 1 -12 0 4.5 0 -.5 .5 -8.5 0 20 0 -24 0 21.5 .5 8 0 -10 0 -12 0 11 0 -6 .5 13.5 .5 -10.5 0 -2.5 0 -6 .5 13.5 .5 -8.5 0 5 0 -9.5 .5 4.5 0 -3.5 0 4.5 0 -5 .5 5.5 0 -5 0 .5 0 6 .5 -2 0 7 .5 -9.5 0 -8 .5 3 0 17 0 -11.5 0 7 1 -.5 0 12 0 -4 0 -8 0 -6 .5 10 0 6.5 .5 -12.5 .5 -3.5 0 8.5 .5 -16 .5 2.5 .5 4.5 0 0 0 1.5 0 4.5 .5 7 0 -7 .5 5 .5 -7.5 0 6 0 -3.5 .5 2 0 -5 .5 -3 0 8 .5 -8 0 1.5 0 6.5 0 -1 .5 -9 0 -2 0 18.5 .5 -16 0 13.5 .5 -2.5 0 -9.5 .5 7 0 2.5 0 0 .5 -2 .5 -6 1 -5.5 0 3 0 15.5 0 -12 0 -5 0 14.5 .5 -10 .5 -6 0 10 .5 5 0 -18 .5 8 0 6 .5 -4.5 .5 -6 0 3.5 0 12 0 -11.5 .5 7.5 .5 -3.5 0 7.5 0 -16 0 -2.5 .5 3 0 8 0 -6.5 0 0 .5 0 .5 -6.5 0 17 .5 1 .5 -3 .5 3 0 -7 0 -8 .5 1.5 0 12.5 0 -15 .5 22 0 -12.5 1 4.5 .5 -6 .5 -7.5 0 11.5 .5 -12 0 5 0 6.5 0 -6 .5 -3.5 .5 1.5 .5 1.5 0 -11.5 0 1 0 17.5 1 4 0 -4 .5 5 0 .5 0 -6.5 0 3.5 .5 -.5 .5 -6.5 .5 6 0 -5.5 .5 -3.5 0 10.5 .5 -7.5 .5 14 0 -15 .5 0 0 -4 1.5 -.5 0 -1.5 .5 14 0 -10 0 .5 0 1.5 .5 6 0 -3 0 -6.5 .5 -7.5 0 16.5 0 -.5 .5 -2 0 -2 0 13 .5 -12.5 0 -1.5 0 7.5 0 -9.5 .5 3.5 0 0 0 4 .5 -8.5 1 11 1 -19 0 9 .5 -2.5 0 12.5 0 .5 0 -6 .5 -8 0 11.5 0 -2 .5 -3.5 0 -1.5 0 11.5 .5 -4.5 0 -5.5 .5 2.5 0 6.5 .5 1.5 0 -10.5 0 -4 .5 8.5 0 -6.5 1 17.5 0 -16 0 -1 .5 14 0 -17 .5 -7.5 0 18 0 7.5 .5 -13.5 0 1.5 0 14 .5 -6.5 0 -10 0 6 .5 -2.5 .5 2.5 0 -4.5 0 1 0 10 .5 -23 0 16.5 0 2 .5 -3 0 -7.5 0 10.5 .5 2 0 -11 0 -4.5 .5 5.5 0 -5.5 .5 -4.5 0 11 0 8 0 -5.5 .5 6 .5 1.5 .5 -20.5 0 .5 0 -1.5 .5 4 0 -2 0 15.5 0 -12.5 .5 8 0 -9.5 .5 0 .5 5 0 15 0 -2 0 -11 .5 1.5 0 -3 1 7.5 0 -13 0 1.5 .5 10.5 0 -4 0 5 .5 -3 0 -3.5 0 9 0 -1.5 .5 1.5 .5 -11 .5 8 .5 -10 .5 7 .5 2.5 .5 8.5 0 -20.5 .5 13.5 0 -8 0 14 .5 -23.5 0 29 0 -29 .5 14.5 0 1 .5 -7.5 0 -2.5 .5 7.5 0 -5.5 0 14.5 .5 .5 0 -19 0 21.5 0 -21 .5 4.5 .5 1 0 5.5 0 -14.5 .5 8 0 8 0 3.5 0 -12.5 .5 .5 0 10.5 0 3 0 -21 1 9 .5 8.5 0 0 0 3 .5 7.5 0 -6 .5 5.5 1 -14 0 2 0 -2 0 5.5 0 1.5 .5 -7.5 0 -6 1.5 10.5 0 -4.5 .5 6 .5 -7.5 0 2.5 .5 -.5 0 -3.5 .5 -8 0 8 .5 12.5 0 -1 .5 5.5 .5 -24 0 -1 0 16.5 .5 4.5 0 -14 0 -9.5 .5 19.5 0 0 1 -10.5 0 3.5 .5 2.5 .5 -12 0 6 1.5 -3 .5 13 0 -7.5 .5 -.5 .5 5.5 0 -4 0 4 1 1.5 0 -6.5 0 -5.5 0 7.5 .5 8.5 0 -14.5 0 16.5 0 -12 0 -5 .5 17.5 1 2 0 -8.5 0 -10.5 .5 -8 1.5 20.5 0 -4 .5 -12.5 0 15 0 -1.5 0 -7.5 0 13.5 .5 -12.5 .5 4 0 13 0 -7 .5 -7 .5 -3 0 -5 1 2 0 11.5 .5 -4 0 -9 0 9 .5 -7 0 -3.5 .5 12 0 -1.5 0 7.5 .5 -12 .5 -2 0 15.5 0 -8 0 8.5 .5 -15.5 0 3.5 .5 -2 0 7 0 -9 0 12.5 .5 1.5 0 -3.5 0 6 .5 -8.5 .5 -4.5 0 9 0 -8 .5 -11.5 0 2.5 .5 22.5 0 -16 .5 4.5 0 3 0 9.5 1 -14.5 .5 16.5 .5 -25.5 0 13 0 -7.5 0 -4 0 12 .5 -3 0 2 0 -12.5 .5 9.5 0 12 1 -.5 0 -8.5 .5 3 0 -7 1 8 .5 1 0 -7 0 -5.5 0 -5.5 0 3.5 .5 1 .5 6 0 7 0 -4 0 -8.5 0 20.5 0 -6.5 2.5 -6.5 .5 -6 0 11.5 .5 3 0 -13 .5 -2.5 .5 4.5 0 -2.5 1 6 .5 11.5 1 -12.5 .5 7 0 0 .5 -8 2 -7 4.5 7 1.5 3.5 0 5.5 0 -6.5 .5 10 .5 -20 4 9.5 0 8.5 1.5 -8 2 8.5 1 -23.5 1 11.5 .5 -2.5 1.5 -1.5 1 14.5 .5 -22 3.5 27 1 -21.5 .5 9.5 1.5 -4 .5 0 .5 3 1 .5 0 -2 10 2 2 -11 57 16 55.5 -2 20.5 3" fill="none" stroke="none" marker-start="url(#pk)" marker-mid="url(#pk)" marker-end="url(#pk)"/>
<g filter="url(#bl)"><g><ellipse cx="825.1" cy="199.1" rx="60.1" ry="15.0"/><rect x="769.2" y="185.0" width="111.8" height="28.1" rx="14.0"/></g></g>
</g>
<g clip-path="url(#c2)">
<ellipse cx="1339.2" cy="175.1" rx="48.8" ry="14.2" fill="#b53cb8" fill-opacity="0.42" filter="url(#bl)"/>
<ellipse cx="1332.4" cy="223.9" rx="48.8" ry="11.9" fill="#4585c4" fill-opacity="0.38" filter="url(#bl)"/>
<path d="M1177 123l.5 23 .5 4.5 1.5 -1.5 1.5 7.5 3 -7 5 -19 3 21.5 1.5 -20.5 2.5 10.5 1.5 -25.5 1 -31.5 0 48 1 -21 3 .5 1 14.5 1 -4 4.5 25 3.5 -3.5 4 -25.5 0 -10.5 5 50.5 5 -20 20 5 0 8 9 11 1 -4 2 -10.5 1.5 -33.5 .5 10.5 1 58 .5 -29 0 18.5 1 9.5 1.5 -16 2 -7 1 18 1 -27.5 0 7 0 -8.5 2 33 0 -41.5 1 11.5 .5 20 1 -51.5 2 48.5 0 -20 0 3 .5 19.5 0 6 .5 -63.5 .5 46.5 1 -37.5 .5 58 .5 -10 0 12.5 0 -29.5 3 -2 .5 -3 1 -15.5 .5 15 .5 24 .5 11 0 -45 1 18.5 1.5 -40.5 .5 7.5 .5 11.5 .5 21 0 21 0 -68 .5 33 1 24.5 1 -7 .5 -17.5 .5 17 0 -9 .5 31.5 .5 -1.5 1 -32.5 .5 18.5 0 19 .5 -4 1 -11.5 1 10 .5 2 .5 4 3.5 -24.5 1.5 25 1 -13 0 -50.5 0 53 1 -23.5 0 34 .5 -5 1 4 0 -42.5 .5 45.5 1 -35 .5 22.5 2 8 1.5 -36 0 30 .5 4 .5 -24 0 -27.5 0 9.5 .5 33.5 .5 -16 1.5 25.5 0 -50.5 .5 56 0 -3.5 0 1.5 .5 -19.5 0 8 1 -66.5 1.5 49.5 0 23.5 .5 -71 .5 69 0 -23 .5 32 .5 -9 .5 8.5 0 -18.5 .5 -5.5 .5 -10.5 0 5 0 -46 .5 67 0 6 0 2 0 -30.5 0 7 .5 -50.5 0 47.5 1.5 -4 1 29.5 .5 -15 .5 15 0 -1.5 .5 -9 .5 -2 0 -2 1 -8.5 0 23.5 2 2 0 -14.5 0 15 .5 -21.5 0 -48.5 0 69.5 .5 -8 0 -8.5 .5 7.5 .5 0 1 -5 .5 -12.5 .5 23.5 0 -10.5 .5 -16.5 .5 13 0 -11 1 24.5 .5 -8.5 .5 -42.5 0 49.5 0 -6.5 .5 -37 0 41.5 0 -2.5 .5 -17 0 22 0 4.5 .5 -3.5 0 3 .5 -4.5 .5 -26.5 0 18 .5 -20 0 -5.5 .5 37.5 .5 -32 0 26.5 0 -26 0 31.5 .5 -3 0 -27.5 1 3 .5 26 .5 3 0 -29 .5 29 0 -34 0 13 .5 -3 1 19.5 .5 -3 1 -19.5 0 -49.5 .5 51.5 0 -5 .5 20.5 0 -25 0 20 .5 -35.5 .5 44.5 0 -1.5 .5 -23 0 26.5 0 -11.5 0 4.5 .5 -15.5 0 23.5 0 -40.5 0 40.5 .5 -10 0 11 0 -38.5 .5 11 1 -6 0 15 .5 9 0 -8 0 -4.5 .5 9.5 0 -4 .5 -1.5 0 5 0 -10 .5 7.5 0 9 0 -47.5 0 20 0 26 .5 8.5 0 -8 0 -9.5 .5 12 0 -22.5 0 21.5 .5 -36.5 .5 37 .5 2.5 0 -31.5 0 28.5 .5 -65 0 70.5 0 -47.5 .5 15.5 0 21.5 1 9.5 0 -29 0 14.5 .5 .5 0 11 1 -46.5 .5 51.5 0 -5.5 0 3 .5 1.5 0 -52 1 24.5 .5 31.5 0 -32 .5 2 .5 1 0 20 .5 -10 .5 2 .5 -.5 0 4 0 -1 .5 17 0 -15 1 10 0 -3 0 -7.5 1 10 0 -2 .5 -2 0 -23 1 25 0 -27.5 .5 32 0 -14 .5 -6 0 -9 .5 26 0 -10 .5 8.5 1 -7 .5 0 0 -6 .5 -2 0 -15 .5 26 0 -68 2.5 1.5 1.5 5.5 0 44 .5 16.5 .5 .5 0 -17.5 .5 -3.5 0 27.5 0 -33.5 0 17.5 .5 -6 0 5.5 0 -1 1 -16 .5 .5 1 8 0 -4.5 1 5.5 .5 -16 0 3.5 1 23 0 11.5 0 -34 .5 36 .5 -47 .5 -39.5 .5 85 0 0 .5 -67 0 45 0 22 2 -31.5 1 -1.5 .5 10.5 .5 3.5 .5 -94 1 107.5 .5 -10 1 -2 0 16 .5 -10 0 11.5 2 -14.5 0 14.5 0 -7.5 .5 -1.5 1 -16 1.5 6 4.5 -13 1.5 32.5 1 -42.5 1.5 43.5 4 -4 2.5 1.5 .5 -26.5 7.5 20 0 -3 2.5 -1.5 0 .5 .5 -7 4.5 -16.5 1 -5 0 26.5 2 -13.5 .5 -83.5 2.5 93 .5 -22 3 12.5 1.5 -20 1 -4 0 3.5 2 7 0 0 1 -7 .5 35.5 .5 -37.5 .5 13 0 -11.5 6 -39 3.5 68 1.5 12 4.5 -4 119 -1.5 20.5 7" fill="none" stroke="none" marker-start="url(#pm)" marker-mid="url(#pm)" marker-end="url(#pm)"/>
<path d="M1170.5 243l3 20 2.5 -20.5 3.5 24.5 2 -19.5 1 -9.5 7.5 1.5 .5 10 .5 0 2 5.5 1.5 10.5 1 -3 2 -4 .5 -5.5 .5 1.5 0 6 1 2 .5 5 4 -31 1.5 28.5 1 -12 1 -9 .5 -1.5 .5 1 .5 24 3 -6 0 -12 2.5 8.5 0 -9.5 0 30 .5 -26.5 0 -8.5 .5 9.5 2 -12.5 .5 -1 .5 21 .5 -12 .5 31 1 -17 .5 -11 0 -5 .5 17 1.5 -20.5 0 7 2 -6 1 -4.5 .5 2 1 20 0 -19.5 0 .5 2 17.5 0 1 .5 -19 1.5 22.5 .5 -23 .5 .5 1 30.5 1 -22.5 .5 8 2 5 .5 -23 0 13.5 0 14.5 2 -10.5 2.5 -10.5 0 -4.5 .5 10.5 1.5 35.5 1 -4 .5 -21 1 5 1 29.5 1.5 -36.5 0 -6.5 .5 -1.5 1.5 -12 0 46.5 1 -1 0 -43.5 1 5 0 23.5 0 -32.5 .5 39 0 -14.5 .5 27 .5 -23 1 -5.5 .5 -10 0 29 .5 -11.5 .5 -2.5 .5 -10 1 -1 0 -2 .5 9.5 1 6 2 -26.5 .5 19.5 0 -24 0 9.5 1.5 .5 1.5 7.5 .5 -17.5 0 3.5 0 20.5 .5 14 .5 -8.5 0 -2.5 0 -1 2.5 0 1.5 -7 .5 -16 0 14 3 17 .5 16.5 .5 -42 .5 5 .5 -16 0 13.5 0 -9.5 .5 -11 3 59 2 12 0 -82 0 21.5 0 6 1.5 -9.5 0 -10.5 1 -4.5 0 39.5 .5 6.5 0 -3 1 -22 .5 -2 1.5 -29 1 52 .5 -14.5 1 36.5 0 -29 0 -44 .5 9.5 0 53 0 -45 .5 -4 .5 14.5 .5 -9.5 .5 -17.5 1 1 0 10 4 37.5 0 -29.5 1 0 2 4.5 1 5 0 -26.5 .5 30 .5 -17 .5 -7.5 0 20 .5 -5 1 7 0 -8 1 -17 1 0 1 -8.5 .5 29.5 0 5.5 .5 -6 0 -20 .5 4.5 0 6 1 -15.5 .5 15 0 -9.5 0 12 .5 10 .5 -29 .5 29 .5 -25.5 0 7 0 11 1.5 10.5 2.5 -29.5 .5 -3.5 0 34 .5 -23 0 -9.5 0 33 0 -26 .5 -6 .5 7 .5 7.5 .5 -11 0 6 0 5.5 .5 7.5 0 -6.5 .5 4 .5 -21 0 30.5 1 -28.5 1 2.5 .5 -3 0 31 0 -19.5 .5 9 .5 -2.5 0 12.5 .5 -22 .5 20 .5 -2.5 0 -15 0 -4 .5 7.5 .5 3.5 .5 69.5 .5 -58.5 .5 -9.5 .5 -15 0 -1 0 -.5 1 6 .5 -10 .5 .5 .5 15.5 0 -10 .5 -2.5 0 13.5 0 -17 .5 21.5 .5 -21.5 0 26 0 -14 .5 -9.5 0 0 0 23 0 -6 0 1.5 0 7.5 .5 -14 0 4 .5 -6.5 0 7.5 0 -8 1 11 0 6 0 -18.5 .5 -11 0 5 .5 16 0 8.5 0 -10.5 .5 -17.5 .5 -2 1 4 0 17.5 .5 13 0 -27.5 0 .5 .5 -7.5 0 7 0 13.5 .5 -5 0 -7 .5 -6.5 0 27.5 .5 6.5 0 -32 0 15.5 1 -4.5 .5 4.5 0 -18 1 0 .5 34 0 -24 .5 -3 .5 7.5 0 -12 .5 -1 0 10.5 .5 11 0 10.5 .5 -35 .5 30.5 0 -12 0 9.5 .5 -14 0 -8.5 .5 23.5 .5 2 0 -16.5 1 8 0 -21.5 .5 6.5 .5 2 .5 17.5 1 -17 0 15.5 0 -22 0 4 .5 -7.5 .5 14.5 .5 -11 .5 7.5 .5 24 .5 -26.5 0 1.5 1 1.5 0 -10 1 18.5 2 0 0 -8 1.5 -4 .5 1 .5 1.5 0 -5.5 1 23.5 .5 -17 0 10 0 -11.5 .5 -8.5 .5 2 .5 19 0 -11 0 5 1 -15 0 .5 0 2 0 -1 .5 27.5 0 -22.5 1 4.5 1 19 0 5.5 0 -27.5 .5 -7 1 16.5 0 14.5 1 -23 1 3 .5 -1.5 .5 -3.5 0 20.5 0 2 .5 -29.5 .5 23.5 0 -14.5 .5 13.5 1 6 0 2.5 .5 -16 .5 -15.5 1 8.5 .5 -2.5 0 18 1 -19.5 .5 2 0 19.5 0 -22 0 12.5 0 -9 2 20 0 -6 .5 -14.5 .5 9 0 -9 1 22 1 -15.5 0 16 0 -15 .5 19.5 0 -30.5 2 22.5 .5 -27.5 1.5 34.5 0 -30 0 4.5 1 -.5 .5 -4 1 2.5 .5 23.5 .5 3.5 .5 -6.5 .5 6.5 2.5 -32.5 .5 16.5 2 -16 2.5 11 .5 8.5 0 17 2 -10 1 -11.5 2.5 -11 4.5 2" fill="none" stroke="none" marker-start="url(#pb)" marker-mid="url(#pb)" marker-end="url(#pb)"/>
<path d="M1159 201l1.5 -2 3.5 -6 2 12.5 2 -5 .5 -5.5 0 -.5 0 -4.5 1 21.5 1 -9 .5 -1 .5 -8.5 .5 9.5 1 -5 0 14 0 1.5 0 -5.5 .5 -16 0 6.5 .5 8.5 .5 -6 .5 12 1 -14.5 0 5.5 0 -5 .5 -.5 0 -9 .5 5 .5 -5.5 .5 13.5 0 -9.5 .5 6.5 .5 .5 .5 5.5 0 -5 1.5 -5.5 .5 5.5 .5 -16 0 14 0 1 .5 -4.5 0 0 .5 -5.5 0 0 0 14.5 .5 -8.5 0 -8 0 8.5 0 -6.5 .5 10.5 0 -4 1 2 1 -6.5 0 5 .5 2.5 .5 3 .5 -12.5 0 7.5 0 9 0 1 .5 -11.5 0 17.5 1 -12.5 0 -4 0 6 0 -5 .5 11.5 0 -10.5 0 -3 .5 7 .5 6 .5 -8.5 .5 -.5 0 2 .5 7 1.5 -7 .5 2 1 -11.5 .5 6.5 1 13 .5 -18 0 3.5 0 -3 1 .5 .5 7 .5 -1.5 .5 -13 .5 9.5 .5 -2 .5 -6 1 16 .5 9 .5 -11 .5 7 2 -6 .5 -6.5 1 -5.5 0 7 .5 7 1 -2.5 .5 -4 .5 7 2 2 0 -15.5 .5 14.5 0 -7.5 .5 15 .5 -18.5 0 18.5 1 -9 0 -6 .5 -12 0 17.5 .5 3 .5 -11.5 0 10.5 .5 -9 .5 1.5 1.5 12 1.5 -14.5 0 -6.5 1 12 .5 -12 1 8 1 5 0 -3 0 -5 2.5 8.5 .5 4 .5 -16.5 1.5 10.5 0 -8 1.5 13.5 0 -11.5 0 6 .5 2 .5 -4.5 1.5 0 .5 -9 .5 10 .5 -3 0 5.5 1 -3 .5 -3.5 0 1.5 1 2 .5 -2 1 -7 0 20.5 .5 -4.5 .5 -15.5 .5 10.5 1 -13 .5 -3 .5 24.5 .5 1 .5 -3.5 .5 -1.5 2 -14.5 0 11 1 -1.5 1 -10 0 20 0 -8.5 0 -6 .5 5 0 .5 1 3 .5 -6.5 0 6 .5 -12 .5 -7 0 7 .5 16.5 .5 -8 0 11.5 0 -20 1 7.5 .5 -8 .5 8 0 0 .5 -7.5 0 12.5 1 -6.5 .5 5.5 2 -9.5 0 1 0 2 .5 7.5 .5 -18.5 0 26 0 -9 .5 -19 0 8 0 6.5 .5 -4 0 7.5 1 3.5 .5 -4.5 1 -7 1 1.5 .5 4.5 0 -4.5 .5 1.5 .5 2 .5 5.5 .5 1 .5 -5 2 11 0 -21.5 0 6 .5 4 .5 5 0 1.5 .5 -9 .5 15.5 .5 -13 0 3 .5 -12.5 .5 3.5 .5 14.5 .5 -22 0 21.5 .5 -5.5 .5 -10.5 1.5 8 .5 -4 0 12 .5 -9 .5 12 0 .5 .5 1 0 -14.5 .5 8 .5 5 .5 -19 0 8 .5 2.5 0 -2.5 1 -10.5 0 15.5 0 -11.5 .5 6 0 -3 .5 -.5 .5 .5 .5 .5 0 2.5 .5 5 .5 -1.5 0 -1.5 .5 -7 0 -1 .5 3 0 -4.5 0 12.5 .5 7 .5 -11 0 10 .5 1.5 0 2.5 0 -23.5 .5 5.5 0 4.5 0 -9.5 0 1 .5 4.5 0 -4.5 0 8.5 0 0 .5 3 .5 -6 .5 3.5 0 -12.5 0 7 .5 -5.5 .5 2.5 0 16.5 .5 -4 0 -14.5 0 9.5 .5 -13 .5 12.5 .5 6.5 0 -7 0 3.5 0 -9.5 0 12 1 -4.5 0 -2 0 -4.5 0 9 .5 3 0 -12 0 1 0 -11.5 0 5 .5 15 .5 -6.5 0 -1 .5 13 .5 -12 0 -9 1 20.5 0 .5 0 -3 0 -.5 0 4 .5 -16 0 14 0 -12.5 .5 -7.5 0 -.5 .5 3.5 .5 8 0 -2.5 0 4 0 -12 0 0 1 11 0 -6.5 .5 7 0 4.5 0 8.5 0 -10.5 .5 1 .5 -18 0 4.5 .5 5 0 10 .5 -12.5 .5 -8.5 .5 9 .5 7 0 0 0 -10 0 -5 0 23 0 5.5 .5 -7.5 0 -1 0 -7.5 .5 0 0 -10 .5 12.5 0 -11 0 20 .5 -3.5 0 -8 .5 1 .5 5.5 0 8.5 0 -26 .5 10.5 .5 3 0 -9 .5 14 .5 -9 .5 -.5 0 -4.5 .5 2.5 0 2 0 5 .5 -1.5 0 13 .5 -5.5 0 -11 0 10.5 0 -1 0 2.5 .5 .5 0 -8 .5 5 .5 -21.5 .5 10.5 0 2.5 1 3 0 -1 .5 -1.5 .5 8.5 0 -9.5 .5 .5 0 10.5 .5 -15 0 16.5 .5 -12 0 -6 0 12.5 .5 -6 .5 -3.5 .5 -3.5 0 -1 0 10.5 .5 13 0 -5 .5 -4.5 0 -3.5 0 -4.5 .5 4 0 -8 0 16 0 -5.5 0 -8.5 0 7.5 .5 2.5 0 2.5 .5 3 0 -2 0 -14.5 0 -8.5 .5 14 0 10 0 -2.5 0 -7 .5 1 0 1 .5 -8 0 9.5 0 -5 0 10 .5 -11.5 0 7.5 .5 11.5 0 -28.5 0 19.5 0 -14 0 6.5 0 6 .5 -16 .5 17 .5 -14 0 8.5 0 2.5 0 13.5 1 -16 0 8 0 -6.5 .5 4.5 0 -13 .5 21.5 0 -14.5 0 -13.5 0 19 .5 -1 0 -20 .5 21 0 2 .5 -9 0 -10 1 7.5 0 15 0 -1.5 .5 -2.5 0 9.5 0 -3.5 1 -25 .5 16 0 -3 .5 10 0 -12 0 -7 0 2 .5 -2.5 0 14.5 0 -.5 .5 -4 0 -2 .5 -6 0 3 0 -4 0 4.5 .5 -6.5 0 3 .5 1 0 9.5 .5 -9 0 4.5 0 11 0 -13.5 0 9 0 -11 0 7 .5 -6 0 5.5 0 -2 .5 -3.5 .5 6 0 -11.5 0 11.5 .5 4.5 0 -1 0 3 0 -14 .5 2 .5 15 .5 -20 .5 9.5 0 -16 .5 -.5 .5 19.5 0 4 0 -6 0 -5 .5 12 0 -12.5 0 -2 0 -1 0 13.5 1 -10.5 0 -7 .5 8 0 11.5 0 -12.5 .5 9 0 -3.5 0 1.5 .5 -1 0 3 0 11 0 -23.5 .5 16 0 -3 0 -9 .5 -2.5 0 -2 .5 6 0 -10.5 0 14 .5 -7.5 0 2.5 0 5.5 .5 -1 0 -7.5 0 8 .5 -1 .5 0 0 5.5 .5 1 0 -6 0 3.5 .5 2 0 -4 0 -4 1 .5 1 11.5 0 -17.5 0 -5.5 .5 4.5 0 19.5 0 -13.5 .5 5.5 0 -5.5 .5 -5 0 3.5 0 .5 0 8 .5 -4 0 -9 0 13.5 0 -4.5 0 -7.5 .5 1 0 8.5 0 5 0 -5.5 1 -3 0 1.5 .5 -10 .5 5.5 .5 .5 0 -6.5 .5 17.5 0 4 .5 -16.5 0 8 0 -13.5 .5 -.5 0 18 0 -15.5 0 11 .5 -3.5 .5 -8 0 -.5 .5 -4 .5 22 .5 -11.5 .5 -10 .5 2 0 26 0 -18.5 0 18 0 -12.5 0 10.5 .5 -20.5 0 0 .5 2 0 12 0 -19.5 .5 22 0 -18 0 8 0 7.5 .5 -10.5 0 11 0 -5.5 0 3 0 -14.5 .5 20.5 0 -19 0 11.5 .5 -8.5 2 -4 1 3 0 4.5 0 -4 0 2.5 .5 -5.5 0 2 0 .5 0 1 .5 7.5 .5 7 0 -11.5 .5 -7 0 8.5 0 7.5 0 -4 0 2 .5 -15 .5 2.5 0 17.5 .5 -8.5 0 7 0 -4.5 0 -3.5 .5 6 0 -22 1 2.5 0 8 1 13.5 0 -.5 .5 -13 0 6.5 0 3.5 0 -6.5 0 8.5 1 -10 0 3.5 0 3.5 0 -13 0 0 0 5 .5 19.5 .5 -18 0 4 .5 1.5 0 3 0 -3.5 0 -12.5 0 6.5 0 13.5 .5 -18 0 10 .5 -7 0 9.5 0 -7.5 .5 0 0 19 .5 -12.5 0 3.5 .5 -15.5 0 -2.5 .5 13 0 -3.5 0 -.5 0 5 .5 -11 0 13 0 -6.5 1 -3.5 0 3.5 0 15 .5 -24.5 0 2.5 0 7 0 2 .5 -12 0 17.5 0 -9 .5 -9.5 0 11 0 11 .5 -13 .5 10 0 9.5 .5 -9 .5 -5.5 .5 15 .5 -19.5 0 .5 0 -1 .5 3 .5 -5.5 0 6.5 .5 9 .5 -15 0 8 .5 -4 .5 8 0 -17.5 0 19 0 -15 0 11 .5 4 0 -14 .5 9 0 10.5 .5 -13 .5 4 0 4.5 0 -7 0 -1 .5 -6.5 0 4.5 0 3.5 .5 -5 0 3 .5 -10 .5 2.5 0 5 0 5 0 6.5 0 -7 0 -16 .5 21.5 0 3 0 -20.5 0 -1 0 17.5 1 -6 0 5.5 0 -8.5 0 10 0 -17.5 0 17 .5 -.5 0 3.5 .5 -14.5 .5 -4 1 6 0 -10 0 8 .5 -1 .5 8.5 0 7 .5 3 0 -13 .5 -1 .5 5.5 .5 -3.5 .5 9 0 -9.5 .5 -7.5 .5 18.5 .5 -7.5 .5 -1.5 0 -11 .5 18.5 0 -10 .5 -8 .5 7.5 0 1.5 0 4.5 0 -4 .5 -1 0 -13.5 0 10 0 -2 .5 7 0 -7 .5 .5 .5 2.5 0 -2 0 3.5 .5 9.5 .5 -14 0 5.5 0 -5 .5 7 .5 4 1 3.5 0 -6 1 -12.5 0 5 0 -1.5 0 7.5 0 2 0 3 .5 -8.5 .5 3.5 0 10 .5 -19.5 .5 7 0 -9.5 0 3.5 .5 .5 0 4 .5 -4 0 9.5 0 -2 0 1.5 .5 -10.5 0 5.5 .5 3.5 .5 -2 0 -10.5 .5 4.5 0 11 1 2 0 -10.5 1 11 .5 -10.5 1 -9.5 .5 21 0 -2 .5 -11.5 0 5.5 1 -4 0 2 .5 4 .5 2 .5 -6.5 0 -14 .5 14 .5 5.5 .5 -.5 0 -4 .5 7 0 -2 0 -1 .5 -5 .5 -3 0 17.5 .5 -16 0 16 0 -27 0 14 .5 -6 1.5 8.5 .5 -4.5 0 0 0 1.5 .5 13.5 .5 -9.5 1 -17.5 .5 9.5 .5 -1 .5 9.5 0 .5 .5 -3.5 .5 -3 1.5 -7 0 18.5 1.5 -22 3 8.5 2 -9 1 13 3.5 7.5 0 -15.5 3 -1 2 5.5 2 1.5 3 7.5 .5 -7.5 .5 4.5 1 -8.5 .5 2.5 1.5 3 2.5 3 2 -5.5 1.5 2.5 .5 -2 .5 -12.5 1.5 15.5 1 -13 4.5 19.5 1.5 -1.5 .5 -10 6.5 8.5 34.5 7.5" fill="none" stroke="none" marker-start="url(#pk)" marker-mid="url(#pk)" marker-end="url(#pk)"/>
<g filter="url(#bl)"><g><ellipse cx="1333.5" cy="200.0" rx="52.2" ry="15.0"/><rect x="1285.0" y="185.9" width="97.0" height="28.1" rx="14.0"/></g></g>
</g>
<g clip-path="url(#c3)">
<ellipse cx="1835.1" cy="170.6" rx="54.4" ry="18.7" fill="#b53cb8" fill-opacity="0.38" filter="url(#bl)"/>
<ellipse cx="1844.1" cy="221.6" rx="45.4" ry="9.6" fill="#4585c4" fill-opacity="0.38" filter="url(#bl)"/>
<path d="M1671.5 148l8.5 -17 0 38.5 2 -14.5 .5 -16.5 1 27.5 4 -43.5 .5 32 0 8.5 .5 -11 1.5 -7.5 0 26 0 -7.5 1.5 -22.5 3 29.5 0 -24.5 1.5 22.5 .5 -18.5 2.5 8.5 0 -12 3 -26 5.5 2 .5 36.5 3.5 -1.5 1.5 -17 .5 27 .5 -40.5 4 41 0 -19 .5 17 3.5 -8.5 2 -7 7 -22.5 1 23 2.5 18.5 1 -11 3 -24 1 29.5 .5 2.5 1 10 3 -21 1 .5 1 17 1.5 -4 0 -32 0 26.5 1.5 -11 1 18.5 1 -4.5 1 .5 .5 6.5 1 3 1 -23.5 1 -2 0 7.5 .5 15.5 1 -14 .5 -47.5 .5 31.5 .5 -6 0 17 1 1.5 1 -.5 .5 7.5 .5 7.5 0 -36.5 1 26 0 -6 .5 -14 0 4.5 .5 -13.5 1.5 38 .5 -29.5 0 -2 .5 5 .5 -36 0 47.5 .5 6 .5 -54.5 .5 62 0 -10 .5 -39 .5 2.5 .5 12 .5 -15 0 41.5 1 1 .5 -17 0 32.5 .5 -63 .5 56.5 0 -19 1 8.5 0 -27 .5 -1.5 .5 45 0 -56.5 1 41 0 11.5 .5 -65 0 22 .5 40.5 1 -7 0 8.5 0 -44 .5 -1.5 0 22.5 1 -20.5 1 -8.5 1 64.5 0 -15 .5 -16 .5 -43.5 0 46.5 1 11 .5 -11 0 -18.5 1 28 3.5 -13.5 2 14 0 -3.5 .5 -1.5 .5 13.5 .5 13.5 .5 -44.5 0 10 .5 15.5 0 19.5 .5 -6.5 0 -24.5 1 -23.5 1.5 13.5 0 30.5 .5 -17 0 14 1.5 -7.5 0 12.5 .5 -16.5 0 20.5 .5 -28 .5 13 1 -10 1.5 2 0 -1 .5 27.5 0 -21.5 .5 -.5 0 -14.5 .5 -20.5 .5 36 0 -5 0 -6.5 .5 27.5 .5 -59.5 0 54 .5 -33 0 42 0 -9 .5 1 .5 1.5 0 2 2.5 -.5 0 -9.5 0 -6.5 .5 -28 2 32 1.5 -10 1 -36 .5 61.5 .5 4 .5 -34 0 -2 0 11.5 0 22.5 .5 -30.5 0 8.5 2 -22 .5 36 0 -.5 0 .5 .5 7 .5 .5 .5 -9.5 .5 -44.5 0 54 0 -34.5 .5 1.5 .5 29 0 -18.5 0 -9.5 .5 31.5 0 -36 .5 30.5 .5 5.5 .5 -15.5 0 -15 .5 32 .5 -23 0 18 0 7 .5 -4.5 .5 -36 .5 16 0 23.5 .5 -37 0 15.5 0 21 0 -8.5 .5 8.5 0 -26.5 0 17.5 0 0 .5 10.5 0 -55.5 0 6.5 .5 47.5 0 -9.5 0 -6.5 .5 -7 0 2.5 .5 -24 0 37.5 0 6.5 1 -42.5 .5 29.5 0 -4.5 0 16.5 .5 -7.5 1 -36 .5 47.5 .5 -31 0 27 .5 -5 0 -35 .5 41.5 0 0 0 -6 .5 -23.5 0 5.5 0 7.5 .5 13 0 3.5 0 -39.5 0 17.5 0 15 0 0 .5 5 0 -28.5 1 -6 .5 25.5 0 -17.5 .5 5 0 -9.5 .5 22 .5 11 0 -26.5 0 15.5 0 -25.5 1 1.5 0 37 0 .5 0 -5.5 .5 -13 0 -60.5 0 33.5 .5 17.5 0 26 0 -39.5 .5 -4 0 16 0 12.5 0 -13.5 .5 -1.5 .5 11 0 13 0 -17 0 15.5 0 -17 .5 -2 .5 -6 .5 16.5 0 9 .5 -4.5 .5 -7.5 0 10.5 0 -2.5 0 -6 .5 -32.5 0 44.5 .5 3.5 0 2.5 0 -6.5 .5 -26 .5 21.5 .5 -26 0 30.5 .5 -5.5 0 -23.5 .5 -31.5 0 28 .5 31.5 0 -6 .5 -27 .5 22.5 1 21 0 -3 1 -2 .5 3.5 0 -5.5 1.5 -19.5 0 -10 0 22.5 .5 -7 0 -13.5 0 -9 0 8 0 23 .5 -28.5 .5 28 0 9 .5 -13.5 .5 0 1 10 0 -12.5 .5 5 0 3.5 0 -12 .5 19 0 -27.5 .5 21.5 .5 -1 0 -11 .5 9.5 0 -24 .5 27 0 -3.5 .5 -15.5 .5 16.5 0 -17 0 23.5 1 -25 1 15 1 13 0 -26.5 .5 -11.5 2 23.5 .5 12.5 .5 -26.5 1 26 .5 -6 0 5.5 0 1.5 .5 -28 .5 -6.5 .5 32.5 0 -4.5 .5 -14.5 .5 14 .5 10.5 .5 -13.5 1 -20 .5 -5 .5 29.5 .5 -13 .5 4 .5 -.5 0 6.5 1 6.5 .5 -7.5 0 -20 0 13 0 5 .5 6 1 -.5 .5 -10 .5 8.5 1.5 -1.5 2.5 -21 0 30 .5 -17 .5 -3.5 1 3.5 0 15.5 .5 -23 .5 4.5 1.5 -4.5 .5 10 1.5 -16.5 .5 10 2 -1.5 1.5 19.5 1.5 1.5 0 -15.5 .5 9 3.5 2.5 7 -32 .5 15.5 0 0 7 17 0 4.5 2 -48 3 38.5 0 -1.5 .5 9.5 3 1.5 0 -37.5 3.5 23 .5 4.5 2.5 -8.5 .5 -22 .5 39 .5 2 0 -41.5 1 27.5 2.5 0 2 -20.5 1.5 -16 1 46 .5 -5 0 -10.5 1.5 15.5 3 -23 2 -2.5 1 7.5 1 21 1.5 -.5 1.5 -31 2.5 8 1 3.5 2 -29.5 3 49.5 5 -19 2.5 12.5 3.5 -28 5.5 -27" fill="none" stroke="none" marker-start="url(#pm)" marker-mid="url(#pm)" marker-end="url(#pm)"/>
<path d="M1698.5 264l7.5 -21.5 11 1.5 1 -1 3.5 .5 2 20 3 -20.5 .5 9.5 .5 -9 1 33 0 -20 1.5 20 .5 -36 3 11 0 12.5 .5 -28.5 0 19 0 -18.5 .5 21 .5 1 1.5 -11 .5 -10 1 18.5 .5 -10 .5 -15.5 .5 19 0 -19 2.5 5 2.5 4.5 0 7.5 1.5 -15.5 .5 37.5 .5 -.5 0 -24 1.5 -2.5 0 5 .5 0 0 5 0 -14 0 -2 .5 16 0 -12 1 4 0 0 .5 -9 .5 -.5 2 11 .5 16 0 18 .5 -44.5 1 19.5 2 -9 0 24 1 -10 0 -14.5 1.5 18 1 -34 0 4.5 0 -1.5 .5 6.5 0 10.5 .5 -16 0 10 0 26 0 -33 1 10.5 1.5 36 0 -53.5 1.5 2.5 .5 2 3 10.5 .5 -14.5 .5 14.5 0 2 .5 20.5 .5 -24.5 0 53.5 .5 -40.5 2.5 -29 1.5 1.5 1 .5 1 29 1.5 -17.5 2.5 38.5 0 -22.5 1 29 1 -61.5 .5 16 .5 -26 .5 88 1 -61 0 -7 1.5 41.5 .5 -58.5 0 3.5 0 16 1 -22 0 .5 1 10.5 3 15 1.5 -23 0 9.5 .5 7 .5 65.5 .5 -77 1.5 -11.5 0 18 1 3 .5 -7.5 0 -2 .5 58.5 .5 -52.5 .5 11 0 -13 0 37.5 0 -12 1 -28.5 0 15.5 0 -3 .5 38.5 0 -47 1 -10 0 14.5 .5 -8.5 .5 -8.5 .5 18 0 -19 0 10.5 0 79 .5 -81.5 0 4.5 0 20.5 0 -32.5 .5 48 1 -33 0 -13.5 0 5.5 1 1.5 0 13 .5 -22 .5 4 .5 -2.5 .5 18.5 1 -20.5 .5 38.5 1 -27.5 0 12 .5 -13.5 1 7 0 5.5 .5 -21 0 34 0 -8.5 0 10 .5 -29.5 0 45.5 .5 -6 .5 -26 .5 -19.5 .5 20.5 1 48 0 -42.5 0 -14 .5 57 0 -59 1 28 .5 -25 0 -6 0 7 .5 8.5 0 -12 0 0 .5 47 .5 -54.5 0 9 .5 10 0 3.5 .5 -8.5 0 -14.5 0 -.5 0 -1.5 .5 63.5 .5 -64 0 12.5 .5 -1.5 0 11 0 17 0 -19.5 0 -13.5 1 -3 0 9 0 -6 1 -1.5 0 62 0 -38.5 0 -27.5 0 -1 .5 21.5 0 -10 .5 66 0 -58 .5 1 .5 -9.5 0 56.5 0 -63 0 3 0 11.5 .5 -7 .5 25 .5 -36 0 32.5 .5 11.5 0 -17 .5 -25.5 0 51 0 -4.5 .5 -48 .5 40 .5 -19 0 47 0 -53.5 .5 23 0 -22 0 16 0 -30 0 37 .5 -36 .5 1.5 0 -3.5 1.5 -1 .5 48.5 0 -46 0 10.5 .5 9.5 0 -17.5 0 -7 .5 9 .5 6.5 0 12 1 58.5 .5 -77 0 -9.5 .5 -1 0 33.5 0 -20 .5 34 0 -34.5 .5 6.5 0 38.5 0 -41.5 0 -2 0 2.5 .5 -12 .5 38.5 .5 -39 .5 17 0 -17 0 26.5 0 24 .5 -40.5 .5 -3.5 .5 0 0 5.5 0 9.5 0 0 1 -1 0 -24 1.5 3 0 26 0 -16.5 0 -11.5 .5 8 0 26.5 .5 -19 1 -5 1 11 0 11 .5 11 .5 -24.5 0 14 .5 29.5 .5 -59 0 16 1 -7.5 0 47.5 1 -24.5 0 -22.5 0 1.5 0 -12.5 .5 -2 0 14 0 16 .5 -30.5 0 30 0 19 0 -43.5 .5 9.5 .5 11.5 .5 22.5 0 -4.5 1 -38.5 .5 8 0 7 0 -18 0 24 .5 21 0 -33.5 1 15 0 -11.5 .5 14.5 0 -29 0 12 .5 5.5 1 -19.5 .5 19.5 0 -4 0 -8.5 0 21 .5 -17.5 0 -10 0 52 .5 -44 0 45 .5 -46.5 0 6.5 1 18 1 7.5 .5 -10.5 .5 2.5 0 23 0 -54 2.5 49.5 0 -29 0 -15 1 53.5 .5 -6.5 0 -45 .5 19 0 -13 0 -15.5 .5 22.5 .5 4 .5 -25.5 .5 27.5 1 -20 0 0 0 4.5 .5 -9 0 52 .5 -24.5 0 7 .5 -.5 1 29 0 -56 0 30.5 1 24.5 .5 -14 1 -1.5 .5 0 .5 -24.5 1 6 1 -20 0 13.5 2 41 .5 -20.5 0 5.5 0 -38.5 0 -1.5 .5 16 0 19.5 0 -39 1 6.5 .5 15.5 .5 -9 1 -14.5 0 -7 1 17 .5 -1.5 1 -.5 0 51.5 .5 -34.5 0 -8.5 .5 -1.5 1.5 3 .5 8 1.5 -21 2.5 -3.5 2.5 10.5 0 .5 1.5 42 .5 -46.5 1 10.5 0 -23 0 54 1.5 -50 0 1.5 .5 -3 .5 2.5 1.5 -5 0 18.5 1 -18.5 5.5 25.5 .5 39 2.5 -53 4.5 -3 4 44.5 3.5 -31 5 1.5 1 -5.5 .5 40.5 3 5.5 6 -22 5.5 -17.5 4 36 1 5.5 1 -24.5 5.5 -3" fill="none" stroke="none" marker-start="url(#pb)" marker-mid="url(#pb)" marker-end="url(#pb)"/>
<path d="M1655.5 193.5l3 14 .5 -7 0 -5 .5 -3 1.5 5 .5 -6 0 3.5 .5 8 1 -7 .5 -4 .5 .5 .5 .5 0 .5 .5 9.5 .5 -4 0 -9 .5 5.5 0 2.5 .5 -2 .5 0 0 .5 0 4 0 2.5 1 3.5 2 -14 0 11 .5 -4.5 1 -2 1 -4.5 0 17.5 0 -18.5 0 7.5 0 -8 0 3.5 1 -2.5 0 .5 .5 12.5 .5 -4.5 .5 -.5 .5 -3.5 .5 17.5 .5 -20 .5 12 0 1 0 -4 .5 -11.5 0 7.5 0 9 0 -15.5 1 8.5 0 5.5 .5 -15.5 0 9 .5 10.5 0 -8 0 3.5 .5 2.5 0 -15.5 .5 -2 0 2 .5 0 0 5.5 .5 -7 0 11 .5 -7 .5 12 .5 -3.5 0 -14.5 1 3 0 11.5 .5 -2 0 5 .5 3 .5 -22 .5 2.5 .5 15 1.5 -8 .5 10.5 .5 -13.5 2.5 3.5 2 8 .5 -11.5 .5 2 0 2.5 1 11 .5 -10 .5 -7.5 0 -1 0 12 0 -12.5 0 -4 .5 15.5 2 -3 0 -.5 1 6 2 1 0 2 .5 -19.5 .5 10.5 0 -2 0 12 .5 -5 .5 7 0 -12 0 11 0 -3.5 .5 -7.5 1 7.5 0 -4 .5 -7 0 7.5 .5 -4 0 4 1 -8.5 0 11 0 2 .5 0 0 -16 .5 5 1 1 0 -4.5 .5 4.5 0 -3 3 5 .5 4.5 0 -2.5 1.5 -10.5 .5 10 1 1 1 .5 0 -13.5 1 -.5 4 14.5 1.5 -11 .5 17.5 1 -2.5 0 -7 0 -12.5 0 3.5 .5 2 .5 4.5 1.5 1 .5 9.5 0 -15.5 0 14 2 -5 .5 1 0 -1.5 .5 14 0 -23.5 1.5 4 .5 8 .5 5.5 1 -.5 1.5 -6 .5 11 0 -9.5 .5 -11 0 17.5 .5 -4.5 0 -9.5 .5 9 .5 -11 0 1.5 0 15.5 0 -4 1.5 -7.5 0 5 0 2 0 -14 .5 19.5 0 -2.5 .5 -4.5 .5 -5 0 4 0 -8.5 .5 8.5 .5 2.5 .5 -19 1 13.5 0 -10 .5 6.5 .5 7 0 -1 0 -3.5 1 -2 .5 7 0 -1.5 1 2.5 .5 -14.5 .5 -.5 .5 4 0 8.5 .5 .5 1.5 2.5 .5 -5 .5 3 1 6.5 0 -1.5 .5 -13.5 1 -1.5 .5 6 0 -15 .5 21.5 0 -5 .5 -1.5 2.5 4.5 .5 -9.5 0 -5.5 .5 17.5 1.5 -14 .5 2.5 1 5 1 8.5 .5 -9 1.5 4 1.5 -4 .5 -2.5 .5 3.5 .5 -10.5 .5 14 0 -15 .5 9 0 3 1 -4 0 4 .5 -11.5 .5 5.5 0 2 0 -2 0 10 0 -14 .5 5 0 -6 .5 12.5 .5 -9 0 2.5 .5 .5 .5 6 .5 -9.5 0 5 0 3.5 .5 7.5 0 -10.5 .5 -1 0 -14 0 19 0 -2 .5 -.5 0 -4.5 .5 1 0 5.5 1 -13.5 0 22 .5 -13 0 6 .5 -20 0 10.5 0 5 1 3 0 -15 0 12 0 -2.5 .5 -11.5 0 24.5 0 -10 .5 -11 0 4 0 -.5 .5 9 .5 -5.5 0 -12 0 21 0 -3.5 .5 -9.5 0 8 0 -8.5 0 1 0 1.5 .5 8.5 0 4 .5 3 0 -11.5 0 -4.5 .5 13 1 4.5 .5 1.5 0 -7 0 -.5 .5 -10 .5 10 .5 0 .5 10 .5 -16.5 0 -11.5 0 3 0 1 0 18 .5 -11 0 11 0 3.5 0 -9.5 .5 .5 0 -3 0 -.5 .5 -1 0 3 0 -4.5 .5 1.5 0 -9 .5 12 0 1 0 3 0 -4 .5 2.5 .5 1 .5 -5.5 .5 -3.5 0 2 .5 -8 0 15 .5 4 0 -16.5 .5 1 0 6 0 2.5 0 6.5 0 .5 .5 -2.5 .5 -11 .5 -3 .5 4 .5 7.5 0 -19 0 4.5 0 0 .5 17 0 -1 0 -14 0 4 .5 13 0 -4 0 -.5 .5 4 .5 -1.5 0 -11.5 0 4 .5 -7.5 0 10 0 -5.5 0 14 .5 -5.5 0 -3.5 .5 2.5 0 -1 0 -4 .5 -8 0 12.5 .5 -10.5 0 -2 0 12 .5 12.5 0 -22 .5 1.5 0 -11.5 0 21.5 1 -.5 0 -3 1 -2 .5 -2.5 0 -12.5 0 15 0 4 0 11.5 0 -17.5 .5 -12.5 .5 8.5 0 11.5 1 -9.5 0 2.5 .5 6 0 -5 0 -2 0 8 .5 -18 0 2 0 18 0 1.5 .5 -7 1 -9 .5 20.5 0 -13 0 4 0 -.5 .5 -13 0 13.5 0 -16.5 0 11 .5 -4.5 .5 5.5 .5 5 0 -20 0 9.5 0 -6.5 .5 16.5 .5 1.5 0 -7 0 1 .5 -3 0 4.5 1 -5 0 10.5 0 -7 0 -5 0 5.5 0 -1.5 .5 -2 0 -7 .5 14 1 -4.5 0 16 0 -26.5 .5 .5 .5 19.5 0 -7.5 0 7.5 0 -7 .5 -1 0 -5.5 0 13.5 .5 -12 .5 2 0 -5 .5 7 0 -11.5 0 7 .5 -4.5 0 24.5 .5 -13.5 .5 -4 0 -8.5 0 6 .5 18.5 0 -31 .5 11 0 8.5 0 -15.5 .5 19 .5 -16 0 22 0 -24 0 14.5 .5 -5 0 12.5 0 -8.5 0 -.5 0 -1 .5 1 0 -9 0 9 0 -14 0 5.5 0 14.5 .5 -9.5 0 -10.5 0 7.5 0 -2 .5 2 0 6 .5 2.5 0 4.5 1 -1.5 .5 -4 .5 -1 0 -1 .5 -7 0 -5 .5 15.5 0 -9 .5 -2.5 .5 9.5 0 -6.5 0 5 0 5 1 -5.5 .5 2 .5 -6.5 .5 -2 0 1 0 1.5 0 8 .5 3.5 1.5 -10 0 -.5 .5 4 0 0 0 -11 0 5.5 .5 8 0 -6 .5 11.5 0 -10.5 0 -4 .5 13 .5 -16 .5 17.5 .5 -8.5 0 -9.5 .5 16 0 -4 .5 -9.5 0 18.5 .5 -19 0 10 0 -2.5 0 -5.5 0 7.5 .5 -8.5 1 4.5 0 -13.5 0 12 0 6 0 -5.5 .5 1.5 0 -6.5 0 13.5 .5 2.5 0 -1 .5 -11.5 0 2.5 .5 1 .5 1.5 0 -14.5 0 20.5 0 -6 1 -9.5 .5 2.5 0 20 0 -5 .5 -4.5 0 -14 .5 16.5 .5 -2 0 -6.5 .5 -4 0 12.5 0 -6 .5 -1 0 -8 .5 18.5 .5 -24 0 4.5 .5 2 .5 15 0 -9 .5 -8 .5 18.5 0 -20 0 8.5 .5 4.5 0 5 0 -13.5 0 3 0 -3 1 20 0 -15.5 .5 9.5 0 -5 0 -15.5 0 20.5 .5 -23.5 0 26.5 .5 0 0 -7 .5 -5 0 1.5 0 -15.5 .5 16 0 4 0 -19.5 .5 2 .5 5.5 0 -7 .5 16.5 0 8.5 0 -2 .5 -20 0 7.5 0 -3 .5 4.5 0 6 0 2 0 -13 .5 -5.5 1 17 0 10.5 .5 -28 0 16 .5 -8 0 5 .5 4 0 -5 0 2.5 0 1.5 .5 -16.5 0 5.5 0 4 0 7.5 .5 5.5 0 -16.5 0 2.5 .5 15 0 -2.5 .5 -5 0 -6.5 0 12 0 -1 0 -13 0 4 .5 -2.5 0 9 .5 -11 0 .5 .5 -7.5 .5 13 0 -7.5 0 13.5 .5 7.5 0 -20.5 0 9 0 8 0 6 1 -14.5 0 -4.5 .5 1.5 0 -6 0 9.5 .5 -5.5 0 5 .5 3.5 0 -4 0 1 .5 -9.5 0 16 0 -8.5 .5 -4.5 0 -2 0 13.5 .5 -13.5 0 17 .5 -11 0 1.5 0 11 .5 -20.5 0 13.5 .5 0 .5 -10.5 0 4 0 -.5 0 7.5 0 1.5 1 -12 0 10 0 1 .5 2 .5 1.5 0 -.5 0 2 1 -8 0 3.5 .5 -20.5 .5 17.5 1 -.5 0 -9.5 0 8 0 -5 .5 2 0 10 0 -13.5 0 -.5 .5 4.5 0 2 0 -7.5 .5 15 0 -15 1 8.5 .5 1.5 .5 .5 0 -9.5 .5 6 .5 4.5 0 -8 .5 -5.5 0 1 .5 15.5 0 -9 .5 12 0 -27 0 22.5 .5 2.5 1 -10 .5 15.5 0 -15 0 9 0 -15.5 .5 6 0 0 1.5 5 .5 11.5 0 -10 .5 -11 0 -7 0 7 0 -6.5 .5 17 0 10 .5 -5 0 -3.5 0 -21 .5 12.5 0 16 .5 -3 0 -14 .5 -9.5 0 12 0 15 0 -24.5 .5 21.5 0 -19.5 .5 4.5 .5 13 0 -15 0 2 0 -2.5 .5 15 .5 -15 0 1 0 -1 .5 12 0 -6.5 0 1.5 0 1 .5 -3.5 .5 -7.5 1 20 .5 1.5 .5 -21.5 0 6 0 16 .5 -3.5 0 -12 .5 .5 0 4.5 .5 .5 0 6 1 -10 .5 -7 0 -4.5 0 15.5 1 2.5 .5 -2.5 0 -5.5 1 9.5 0 -15.5 .5 5 0 .5 0 -4.5 .5 6 0 -4 0 19.5 .5 -5 0 -15.5 .5 14 .5 -5 0 -4 0 -2 0 3.5 .5 7 0 -16 .5 -.5 0 17 .5 -2.5 1 0 0 3 .5 -3.5 0 -3.5 .5 -7.5 0 -4.5 0 17.5 0 2 0 -12 1 5 .5 -5.5 .5 -.5 .5 .5 .5 -7.5 0 2.5 0 13.5 1.5 -17 0 28 0 -20.5 .5 8.5 .5 -1 .5 -9.5 0 12.5 0 1 0 -6 .5 11 .5 -21.5 1 17.5 .5 -6.5 0 .5 .5 -9.5 0 5 0 -3.5 1 13 0 .5 0 -13.5 0 4.5 1.5 -3.5 .5 15 .5 -2 .5 -9.5 0 10 0 -2 .5 3 0 -5.5 .5 1 2 -10.5 1.5 -7 0 12 1 3 .5 9.5 1 -18 .5 13 .5 -5 3 -4.5 .5 -4.5 1.5 .5 2 .5 .5 3.5 1 7.5 .5 -3 0 -10 3.5 21 .5 -10.5 .5 -3 .5 1.5 1.5 -7 1 0 .5 10 2 -12 2 6 1.5 -9.5 1.5 14.5 0 -8 0 13 .5 -3 0 -14.5 56.5 11.5 16 5 55.5 0 20.5 -7.5" fill="none" stroke="none" marker-start="url(#pk)" marker-mid="url(#pk)" marker-end="url(#pk)"/>
<g filter="url(#bl)"><g><ellipse cx="1823.7" cy="200.6" rx="59.0" ry="14.6"/><rect x="1768.9" y="187.0" width="109.7" height="27.3" rx="13.7"/></g></g>
</g>
<g clip-path="url(#c4)">
<ellipse cx="354.2" cy="558.1" rx="15.9" ry="7.9" fill="#b53cb8" fill-opacity="0.29" filter="url(#bl)"/>
<ellipse cx="356.5" cy="600.6" rx="34.0" ry="7.4" fill="#4585c4" fill-opacity="0.25" filter="url(#bl)"/>
<path d="M182 520l3 -14 11.5 13 8.5 -23.5 50.5 31 8 -31 4.5 15 1 52 7.5 -11 5 -18 10.5 -3.5 1.5 33 3 -28.5 0 -11.5 1.5 8.5 3 2.5 1.5 -1.5 3.5 2.5 1 8 1 -20 .5 24.5 2.5 -24.5 2.5 36 3.5 -28 3 33 .5 -44 .5 38 0 .5 1 -8 1.5 6.5 1 -8.5 2 -2.5 .5 17 2 0 0 -2.5 1 -3.5 0 2.5 1.5 .5 0 -8.5 .5 3 0 -33.5 .5 43 0 -32 .5 31.5 .5 -45 .5 24.5 0 11 .5 -17.5 1 -1 0 14.5 0 10.5 .5 -22 .5 18 .5 -24 1.5 8 .5 18 0 -7 .5 .5 .5 -20 0 4.5 0 8 .5 18.5 1.5 -2 .5 2.5 1 2 0 -5 1.5 -.5 1 -6 1 -3.5 0 8.5 0 -14.5 0 18.5 2 -11.5 0 1 .5 -28.5 2 40.5 0 -10.5 0 -15 .5 -1.5 0 16 .5 -1.5 0 4 1 2 .5 -5 0 11 .5 -3.5 0 4 0 -3 .5 -2 0 -5 .5 -53 1.5 60 1 -1.5 .5 7.5 0 -14.5 .5 8.5 .5 -7 0 1 .5 -1 0 -34.5 0 28 .5 -18.5 0 5 .5 -7 0 40 1.5 -8 0 -8 3.5 6 2.5 -2.5 0 -.5 0 3.5 .5 2 0 0 .5 -19.5 0 19.5 1 -4 1.5 1.5 .5 -27.5 .5 26 1 3.5 .5 -17 .5 13.5 .5 5.5 2.5 -37.5 2 -3 0 23 .5 5.5 2.5 1 0 9.5 .5 3.5 0 -11.5 .5 -30.5 1 35.5 .5 -29.5 3.5 19 10 10.5 0 3 8.5 -39.5 9 26.5 17 -16.5 18 19.5" fill="none" stroke="none" marker-start="url(#pm)" marker-mid="url(#pm)" marker-end="url(#pm)"/>
<path d="M180.5 641l2.5 6.5 3 -.5 1.5 4.5 4.5 -19 2.5 39 3 -21.5 1.5 -2.5 1 43 2.5 -54 .5 -3 3 -7.5 2 3 3 3.5 0 23.5 0 -10.5 .5 -8 1 7 1.5 -16.5 1.5 10 1 4 .5 -8.5 2.5 -4.5 1.5 -1.5 2 12 .5 -7.5 .5 .5 2.5 2 1.5 11 0 -18 1.5 20.5 3.5 -34 .5 32 6.5 -26.5 2 24.5 3.5 -13.5 0 -6 .5 44.5 .5 -39 8.5 -4 2.5 -1 0 1.5 .5 -5.5 3 58 0 -63 .5 2 1 -4 0 4 .5 21 .5 -12 .5 11.5 0 -23 3 22 3 -19.5 .5 17.5 1 -4.5 0 -8.5 .5 13 1.5 -15 1 -4.5 1 16 4 -16.5 3.5 4 9.5 -10.5 0 24.5 2.5 -19.5 3.5 27 7.5 -39 2.5 9 1 12 0 -16 2 1.5 1.5 .5 2 -3 3 2 0 17 1 -21.5 .5 0 .5 -3 2.5 3.5 1 9.5 .5 13 .5 -24.5 .5 15.5 1.5 -14.5 0 42.5 1.5 -43.5 .5 15 0 7 1 -12 .5 -6.5 3 4.5 0 12.5 0 -14 3.5 -7 0 5 .5 7.5 .5 -2 .5 5 0 -3.5 .5 -9 0 19 2 -19.5 .5 8 2.5 3.5 .5 -2.5 1.5 -12 .5 -2 .5 12.5 1 -17.5 .5 15 1 3 1 -16.5 .5 23.5 1.5 -14.5 2 19.5 1 -10.5 .5 -3.5 2 -3.5 0 -7 0 21.5 .5 -26 1.5 22.5 .5 -20.5 .5 29.5 0 -28.5 .5 0 2.5 2.5 .5 -5.5 1 5 0 -9.5 .5 14.5 0 -10.5 .5 3.5 .5 -3.5 .5 10.5 2 0 0 -11.5 0 7.5 1 -3.5 0 10 .5 -10 0 12.5 3 -9.5 1 7.5 0 -11.5 1 -4.5 .5 33.5 1 -33.5 0 4.5 0 6.5 1.5 -4.5 .5 8.5 0 0 1 -11.5 2 -.5 0 -3.5 1.5 3.5 1.5 2.5 .5 4.5 0 9 0 -9 1.5 -1.5 0 11 .5 -3.5 4.5 -8 .5 -.5 1.5 9 3 -4.5 0 -12 1 22 .5 -.5 1.5 -13 1 -1 3.5 4.5 0 -4 2 -4.5 5 11" fill="none" stroke="none" marker-start="url(#pb)" marker-mid="url(#pb)" marker-end="url(#pb)"/>
<path d="M158 566.5l2.5 20.5 .5 -4.5 .5 -3.5 1.5 -10.5 .5 21 .5 -8 1.5 -1.5 .5 -3 0 10 1 -6 1.5 -7 1 14 3.5 -16 1.5 9.5 0 -3.5 .5 12 0 -5.5 .5 -3.5 0 2.5 1.5 -5.5 .5 4 .5 .5 0 -3 .5 14.5 .5 -1 1 -7.5 .5 -7 .5 -4.5 1.5 3 0 -7 2.5 6.5 0 15.5 1 -18.5 .5 4 0 1.5 1 -5.5 1.5 9.5 .5 -9 0 16.5 2 -19 1 .5 0 -3 .5 13 .5 8.5 2 .5 .5 -7 .5 -9.5 1 -3.5 1 -1 .5 15.5 1 -3 .5 10 .5 -19 0 3.5 0 -3 .5 -7 .5 11 .5 -5.5 0 5.5 0 11.5 1 -6 .5 6.5 0 -8.5 0 -6.5 2 1 1 14.5 .5 .5 .5 -15 .5 13.5 .5 .5 0 -15 .5 8 .5 6 1 -12 0 6.5 1 -8 0 6.5 0 4.5 .5 -10 .5 -3.5 3.5 4.5 0 8 1 8 .5 -15 0 -6.5 1.5 7 .5 4.5 .5 -2.5 0 -9.5 .5 -6 2 9.5 0 13 .5 -18 0 8.5 1 -.5 .5 -7 .5 16 .5 -6.5 1.5 -7 0 11.5 .5 -12.5 1.5 13.5 0 -9.5 .5 10 0 0 0 -9.5 1 13 1.5 -14.5 .5 -9.5 1.5 10 0 5 .5 -2 .5 -8 .5 21 .5 -19 1.5 -4.5 0 15.5 .5 -6 .5 9.5 1.5 -17 1 13.5 1 -2 0 3 4.5 -11 .5 3.5 .5 -1.5 .5 15 .5 -26 .5 20.5 0 -16.5 .5 20 0 1 .5 -15.5 .5 9.5 .5 -8.5 1 -1.5 .5 19 0 -27 1 27 0 -1.5 0 -12.5 0 7 .5 8.5 0 -3 0 -6 .5 -1 0 5 0 -12 0 10 .5 -17.5 0 20 0 -6.5 0 -2.5 .5 -11.5 0 14.5 .5 -12.5 0 1.5 0 -2 .5 20 .5 -19.5 .5 7 0 8.5 0 -11.5 .5 13 0 -17.5 .5 -4.5 .5 18 .5 .5 0 -8 .5 10.5 0 -11.5 .5 7 0 -5.5 0 8 .5 -5.5 0 -1.5 .5 12 1 -18 0 8 0 4 0 2 .5 -2 0 -1.5 0 -20.5 0 11.5 1 5.5 .5 3 0 9.5 .5 -18 .5 -2.5 .5 1 .5 17.5 .5 -4.5 .5 -14 0 20 .5 -8 .5 2 0 -2.5 0 4.5 0 -8 0 8.5 0 -1.5 0 -16 1.5 16.5 0 -18 1 17.5 1 7 0 -15 .5 10.5 .5 -18 0 5 .5 13 0 -17 .5 .5 0 10 0 13 0 -16 0 9 0 -16 .5 11 .5 -3.5 0 -.5 0 -6 0 -9 .5 24 0 -23 .5 7 0 5 0 -6.5 .5 2 0 11.5 0 -7 1 13 .5 -13 0 12 1 4 0 -2.5 .5 -9.5 .5 -6 0 4.5 1.5 -13 0 2 .5 5.5 0 9 0 -14 0 6.5 .5 -4.5 0 2.5 0 16 .5 -8 .5 1 0 1 0 -13 .5 6 1 .5 0 16 .5 -20.5 0 10.5 .5 -20.5 0 12 0 14 .5 -4.5 0 -12.5 .5 -4.5 .5 -1 .5 0 0 18 0 -21 .5 14 .5 -9 .5 1.5 0 4.5 .5 10 1 -6 .5 -4.5 0 20.5 .5 -9.5 0 0 0 7 0 -18 0 13.5 0 -17.5 .5 15.5 0 -12 .5 16.5 0 -12.5 0 -5 .5 1 0 1.5 0 4.5 1 -1.5 .5 5 0 2 0 -15 .5 15.5 0 4.5 .5 -18.5 .5 3.5 .5 -3 0 9 .5 -.5 .5 4 0 3 0 7.5 1 -4.5 0 -16.5 0 1 0 11.5 0 1 0 -9.5 0 4 .5 -1 0 -5.5 0 9.5 0 4 .5 -12 .5 18 0 -13 .5 3.5 0 -6.5 0 3 0 2.5 .5 -7 0 3.5 0 -3 .5 -4 0 -2.5 1 13 0 -1.5 0 -8 0 1.5 1 3 0 -1.5 .5 14.5 0 -17 0 15 1 -5 .5 3.5 .5 -15 0 2 .5 -.5 0 -1 0 -11.5 1 9.5 0 13.5 .5 -3.5 .5 -1 1 -3 1 -7 0 13 .5 -15.5 0 17 .5 1 .5 -16 0 5.5 0 -4.5 1 5.5 0 -.5 .5 -2.5 1 9 0 -8.5 .5 4 1 -3 0 -11.5 .5 15.5 .5 2.5 0 1.5 0 -4.5 0 -2.5 .5 -6.5 0 2 .5 6.5 .5 -11.5 0 17.5 .5 -21 .5 23 1 -18.5 0 18 .5 -15.5 .5 3 0 1 0 -.5 .5 -7.5 .5 9 .5 -2 .5 2.5 1 4.5 .5 -4 0 -8.5 0 9.5 0 3 .5 -4 0 16.5 0 -4.5 0 4.5 0 -15 0 -15 .5 22 0 5.5 0 -6 .5 -1 .5 -14.5 0 10.5 1 -13.5 0 11 0 -8.5 .5 9 .5 13.5 .5 -20.5 0 9 .5 11.5 0 -7 0 -9 0 9 .5 1.5 0 9.5 0 -10 .5 -1 .5 -5 .5 5.5 .5 -6.5 0 -2 0 8.5 .5 -10 .5 6 1 -1 .5 3 .5 -6 0 11.5 .5 -3 .5 3 0 -16.5 0 6 .5 19 0 -16.5 0 -3.5 0 16.5 0 -13 1.5 .5 0 -14 .5 23 0 -12 0 4.5 0 3 .5 4 0 -13.5 1 15.5 0 -7 0 -7.5 1 0 .5 2.5 .5 .5 0 -6.5 .5 13 0 -15 .5 9.5 0 -8.5 0 10.5 0 -2.5 0 -1.5 .5 4 0 -8.5 1 13 0 -9 .5 0 0 -2 .5 15 0 -13 1 0 0 -12.5 .5 4.5 0 5 0 0 .5 -12.5 0 35 0 -20.5 .5 16 0 -6 .5 -18 0 -.5 .5 27 0 -19 0 -10.5 .5 8.5 0 18 .5 -25 0 15 .5 -10.5 .5 13.5 .5 -16.5 0 13.5 0 1.5 1 -6.5 0 5 .5 -10 0 13 .5 -6 0 -3.5 0 1.5 0 1 0 -9.5 .5 4.5 .5 15 .5 -16 .5 22 0 -17 0 13 0 2.5 .5 -26.5 .5 18.5 0 -11 0 -5.5 0 4 .5 -3 0 -6.5 0 18.5 .5 -19 .5 18 0 -4 1 -4.5 .5 5 0 7 .5 4.5 0 -11 .5 7.5 0 -9 1.5 10.5 0 -2.5 0 -13 0 -3 0 15.5 .5 -16.5 0 14 0 -4.5 .5 4.5 0 3.5 0 -1 .5 -17.5 .5 22 .5 -10 1 -3 .5 18.5 .5 -14.5 0 5.5 0 1.5 .5 -7 0 -11.5 .5 5.5 0 9 1 -7 0 -2.5 0 6.5 1 9 0 -14 0 10.5 .5 -8 0 20 0 -5.5 .5 1.5 0 -16.5 0 13.5 0 -13.5 0 -2.5 .5 -3.5 .5 -2 .5 6.5 0 .5 .5 13 .5 2.5 0 -12 .5 1.5 .5 -11 1.5 11.5 0 -14 .5 12 0 -1.5 .5 -.5 .5 5.5 .5 -1 .5 3 0 0 0 1 .5 -13 .5 16.5 0 0 0 -11.5 .5 11 0 -13.5 0 -9 0 6.5 .5 -9 0 15 0 -1 .5 -11.5 0 13 .5 -5.5 .5 7.5 .5 -6.5 0 5.5 0 7.5 .5 -12 0 -2.5 .5 14.5 0 -10 0 5.5 .5 .5 .5 -15 0 17.5 .5 -4 .5 9 0 -7.5 0 -3.5 0 6 0 -19.5 1 26 0 -7 .5 -.5 0 -12.5 0 18.5 0 -12 .5 1 .5 12.5 0 -7 .5 5 0 2 .5 1 0 -16 1 9.5 0 -8 .5 13.5 0 -6.5 0 -8 0 19.5 .5 -13.5 0 -11.5 0 1.5 0 12.5 .5 -10 .5 .5 0 -7.5 0 12 0 16 .5 -22 0 6 0 -1.5 0 13.5 1 -4 0 -11 0 2.5 .5 9 0 -14 .5 -6.5 0 22 .5 -3.5 0 -13 .5 14.5 0 -15.5 .5 -5.5 0 12 .5 -8 .5 1 0 3.5 0 11.5 .5 -7.5 0 3.5 .5 -2.5 0 -15.5 .5 15.5 .5 -9.5 0 -.5 .5 11 .5 -2.5 0 -16 0 22.5 .5 3 .5 -17 0 9.5 0 -10 .5 9 0 -5.5 .5 -1 .5 -9.5 .5 21 0 -9.5 .5 -5.5 .5 15 .5 6.5 0 -2 0 -9.5 1 .5 0 -9.5 .5 5.5 0 4 .5 -1 .5 -9 0 11 .5 -11.5 .5 6.5 .5 0 0 -1 0 19.5 1 -5 .5 -.5 0 -10.5 .5 1 .5 -6 .5 -12 0 11 .5 11.5 0 -12.5 .5 7.5 0 -2 0 3 0 -3 .5 13 0 -22.5 0 -2 .5 9 1 -2.5 .5 -8.5 0 21.5 0 -11.5 1.5 .5 0 2 0 0 .5 -9.5 .5 1.5 0 8.5 0 1.5 0 -5.5 0 0 0 5 0 -6 .5 2.5 .5 4 0 -5.5 .5 10 1 -12.5 0 14.5 1 -11 .5 -1 0 -.5 0 8 0 -11.5 0 -2.5 .5 8.5 1 5.5 .5 -4 .5 -8.5 0 21.5 1 -5 0 -9 0 7.5 0 -5 1 3 0 -7.5 .5 2.5 0 9 .5 -5.5 0 -5 .5 5 0 5.5 .5 3 0 -18 0 12.5 .5 -6 .5 6 0 -3 0 -13 .5 8.5 0 12 1 -9 0 6 0 -9 .5 2 1 -8 .5 9.5 .5 -13.5 1.5 10.5 .5 -2 2 -9 0 -.5 .5 15.5 .5 2.5 .5 7 .5 -9.5 1 -10.5 1.5 7 0 .5 1 -.5 .5 -12 1 6 1 -2 .5 4.5 2.5 4 1.5 -4.5 1 2 2 6.5 5.5 1.5 0 -6.5 3 1 0 -11.5 .5 20.5 3 -2.5 1.5 -11 .5 7 3 -4 .5 .5 37.5 12.5 16 -16.5 55.5 2 20.5 -.5" fill="none" stroke="none" marker-start="url(#pk)" marker-mid="url(#pk)" marker-end="url(#pk)"/>
<g filter="url(#bl)"><g><ellipse cx="325.9" cy="580.3" rx="64.6" ry="15.4"/><rect x="265.7" y="565.9" width="120.2" height="28.9" rx="14.4"/></g></g>
</g>
<g clip-path="url(#c5)">
<ellipse cx="859.5" cy="559.2" rx="25.0" ry="6.8" fill="#b53cb8" fill-opacity="0.25" filter="url(#bl)"/>
<ellipse cx="819.8" cy="609.7" rx="28.4" ry="11.9" fill="#4585c4" fill-opacity="0.29" filter="url(#bl)"/>
<path d="M679 529.5l12 -2.5 7.5 -2 1 -9 4.5 -5.5 25 12 13.5 -5 6 2.5 14.5 -1 4.5 17 2.5 -26.5 19 32.5 8 -11 0 18.5 13.5 -1.5 1.5 -29.5 4 17 3 -1 4 30.5 4.5 -23.5 2 20 5 1.5 8 -6 .5 9 .5 -26.5 0 19 .5 3.5 1 -13.5 0 14 .5 -9.5 1 -3 0 6 1.5 .5 0 4 1 0 0 -9 1 .5 0 4 .5 1.5 1 -6.5 .5 -15.5 1.5 18.5 .5 -1 .5 -14.5 1 27 .5 0 0 -3 1 -2 1 .5 1 -3 0 -8 1 -1 .5 7.5 .5 -6 0 -2 .5 9.5 0 5 .5 -3.5 0 5.5 .5 -5.5 0 -4.5 .5 -7.5 1 9.5 0 -6 0 -2 .5 6.5 1 8 1.5 -15 .5 -11.5 4.5 24.5 0 -21.5 .5 10 1 3 1 2 0 9.5 0 -8 2 4 0 2.5 .5 -4 .5 -8 3 2 0 -4.5 .5 5 0 12.5 .5 -1.5 1 -1 .5 -.5 0 -23.5 .5 11 .5 11 1.5 -1 0 -15.5 1 7 .5 5.5 3 -23 .5 23 13.5 -10.5 1.5 -7 1.5 3 3.5 -2 5 14 1 -8.5 4.5 -1 8 9 8 -3.5 2.5 -7.5 6.5 -2.5 33.5 -11.5" fill="none" stroke="none" marker-start="url(#pm)" marker-mid="url(#pm)" marker-end="url(#pm)"/>
<path d="M675.5 626.5l6 29 1.5 20 .5 -47 4.5 -1 3 27.5 2 -33 2 26.5 3.5 -3 1.5 -10.5 0 2 0 22.5 .5 15.5 1 -51 2 4 0 14 1 24 1 .5 3 -41 2 29.5 3 12 2 -18.5 1 15.5 3 -42.5 3.5 32.5 3.5 -16.5 .5 41.5 9.5 -30 3.5 12 5 -6 .5 -36 1 33.5 1.5 -29.5 .5 15 3 -17.5 .5 27 1.5 20.5 .5 -43.5 .5 25.5 0 -36.5 1 .5 .5 45.5 .5 -26.5 2 23 2 7 2 2 1 -16 1.5 -31.5 2 24 2.5 -5.5 1 18.5 0 -39 2.5 13 2 27.5 1 -32.5 .5 37 0 -3.5 0 -25.5 0 -2 0 21.5 .5 -34.5 0 29.5 1.5 -10 1 26 1 14 0 -48 0 -2 .5 30.5 1.5 -61 0 39.5 0 11 .5 -12.5 1 -10 0 -14.5 .5 -7 0 29.5 .5 -33 1 17 1 3 0 16 0 -20.5 .5 21 0 -2.5 0 -18.5 0 33 .5 -39 .5 55.5 .5 -19.5 0 14.5 3 -39 0 7.5 .5 22.5 .5 -41 .5 11.5 0 45 .5 -47.5 .5 3 0 37.5 .5 -61 0 45 1 -23 0 -9.5 .5 .5 .5 40 .5 -29 .5 -3 .5 51 0 -51 0 4.5 .5 -4.5 0 1 1 -18 0 18.5 .5 -22.5 .5 31 0 -11 0 12.5 .5 31.5 0 -37.5 .5 -16 .5 11.5 0 3.5 .5 -21.5 0 71 0 -70.5 0 19.5 1 -5 0 12 .5 -31.5 0 27 .5 45 0 -8.5 1 -35 0 34 0 -6 .5 -34.5 0 9 0 25 0 -4 .5 -31.5 0 30.5 0 -26.5 0 -15.5 0 10 0 -16 .5 30.5 0 -12.5 0 -2 .5 3 0 7.5 1 -2 .5 7.5 0 -21.5 0 43 0 -10.5 .5 -33.5 0 -13 .5 20.5 0 .5 0 -5 .5 -15 1 29.5 .5 -27.5 .5 59 .5 -52 0 -9 .5 2.5 .5 19 0 -19 .5 14.5 0 -9 .5 58.5 1 -5 .5 -42 .5 -18.5 0 43.5 0 -10.5 0 -25.5 .5 11 0 18 1 40.5 0 -33 .5 -40.5 .5 14 0 -19 .5 9 0 75 .5 -59 1 -.5 .5 46.5 0 -13 .5 -37 0 -8 .5 -9 0 16.5 1 -19.5 0 25.5 1 -23 0 13.5 .5 -14.5 0 13 0 -14 .5 4 .5 15 0 -12.5 0 8.5 .5 -11 0 73.5 0 -63.5 1 -7.5 .5 15 0 22 .5 -23.5 .5 15.5 .5 -11 .5 -6 .5 47 0 -54.5 0 -9 .5 45 0 -46 .5 7 1 15 0 3.5 2 -21 .5 -5 .5 9 0 -6 0 10.5 .5 -9.5 .5 -5 0 23.5 0 -11 1 14.5 .5 28 0 -37 0 23.5 0 -29 0 -3 .5 -8.5 1 3.5 0 -4 .5 2.5 .5 9 .5 13.5 3.5 -8.5 0 1.5 .5 1.5 0 -22 0 30.5 .5 -10.5 2 -2 0 3 0 3.5 .5 40 .5 -7.5 .5 -32 0 16.5 0 26.5 1 -45.5 0 37.5 1 -26 0 29.5 0 -55 .5 -3.5 0 17.5 .5 -19 .5 31 0 -13 0 -19.5 .5 18.5 0 -19.5 1.5 10.5 0 -10.5 0 5 1.5 62.5 .5 -35 1 -4.5 1.5 31.5 .5 -54 2.5 9.5 .5 -13 1.5 49.5 3 -33.5 1.5 8 0 36.5 0 -24 1.5 48 14 -76 0 -8 .5 5 1 .5 .5 40.5 1.5 -38 2.5 34.5 4.5 -36.5 1.5 18.5 1 16 .5 5 1.5 -43 1 7 2.5 1.5 3 41 1 9.5 2 -49 .5 -11.5 2 16 1.5 31.5 1 -31.5 0 -8.5 1 44.5 1.5 -42.5 1 -11.5 2.5 42.5 .5 -24.5 .5 -1.5 2 32 2.5 -22 1.5 -17.5 1.5 -11 .5 9 1 3.5 1 15 1 -19 0 23.5 2.5 -27.5 19.5 80" fill="none" stroke="none" marker-start="url(#pb)" marker-mid="url(#pb)" marker-end="url(#pb)"/>
<path d="M656 589.5l5 -5 0 1.5 1 -7.5 .5 3.5 1.5 -1 .5 -5 1.5 7 1.5 -3 0 14 1 -11.5 0 -12.5 1 21 0 -7 .5 7 0 2.5 0 -14.5 1 -5.5 1 3 1 12 0 -3.5 1 4 0 .5 .5 -18.5 0 4.5 .5 -1 0 11.5 .5 -3.5 0 -5.5 .5 5.5 1 -8.5 0 -3.5 0 9.5 1 -7.5 .5 3.5 0 -.5 1 -.5 1 6.5 1 10 0 -17.5 .5 -7 .5 11 .5 -4 0 -2.5 0 13.5 0 -7.5 .5 6.5 0 -9.5 1.5 .5 .5 -4.5 1 21.5 0 -23 .5 3.5 0 1.5 0 3.5 .5 2.5 .5 1 0 .5 .5 -1.5 .5 2 0 -10 0 7.5 0 -5 1 12.5 0 -10.5 .5 2 0 3 .5 -7 .5 15 .5 -5 0 -3.5 3 -7.5 0 -1.5 0 22.5 0 -13 .5 -12.5 .5 16 0 4.5 .5 -19.5 .5 16 .5 3.5 0 -11 0 3 0 9 1.5 -11.5 .5 5.5 .5 2.5 .5 3.5 1 -1.5 .5 5 .5 -27 .5 12.5 .5 2 1 -14.5 0 20 0 -16 1.5 1.5 1 3 0 9.5 0 -13.5 .5 7.5 .5 3 0 8 .5 -12.5 .5 -4 0 18 .5 -5 1 3 0 -11.5 .5 -1 1 3 .5 1.5 0 3 1 -5 .5 1.5 .5 1 .5 -1.5 0 -1.5 .5 -4 0 1.5 1 2 .5 -12 .5 6.5 0 6 .5 -13 0 9.5 .5 12 0 -6 0 -11.5 0 19 .5 -9 .5 2.5 .5 -2.5 0 3.5 .5 -9.5 0 15.5 0 -15.5 .5 -1.5 0 17.5 1 -2.5 0 1.5 .5 -22 .5 16 .5 -6 0 5.5 0 -1.5 .5 -7 0 8 .5 -15 1 22.5 .5 -4 0 -10.5 .5 -6 .5 14 .5 -2 0 11 1 -2.5 1 -16.5 .5 6.5 0 1 0 14 .5 -1 0 -14.5 .5 .5 0 7 0 -8.5 1 5 .5 9.5 .5 -18 0 5 0 -7 .5 12.5 .5 -4 0 1 1.5 -8 0 8.5 .5 -.5 0 4.5 0 -1 .5 4 .5 -11 .5 -2 .5 2.5 0 10.5 .5 -10.5 .5 11 .5 -1 0 -8 .5 1.5 0 -9.5 0 5 .5 4.5 .5 -9.5 .5 19.5 .5 -8 .5 5.5 .5 -12.5 0 6 1 -1 0 1.5 0 -10 .5 9.5 .5 2.5 0 -5 .5 -3 .5 -4.5 .5 -.5 1 10 0 3 0 5.5 .5 -8.5 .5 -1.5 .5 -1 0 8.5 .5 -8 .5 -8 0 1 .5 5 .5 7 0 -7.5 .5 11 .5 -1 0 -13.5 .5 12 0 0 0 -19.5 0 17 1 3 0 -12 .5 9 0 -5.5 .5 1.5 0 -1.5 .5 10.5 .5 -17.5 .5 -1 1 -1.5 0 1.5 0 -7 .5 27.5 0 -12 0 -1.5 0 1.5 .5 4 0 -8 0 -4 .5 19.5 .5 -3.5 .5 -14.5 .5 9.5 0 -.5 0 -1 .5 -7 .5 -1.5 .5 8.5 0 14 1.5 -13.5 0 1 1 1.5 0 -7 0 14.5 0 -17 .5 -2 0 15.5 0 -20 .5 2 .5 17.5 0 -6 0 7 .5 -16.5 0 -1 1 5.5 0 11.5 .5 -4 0 -3.5 0 16.5 0 -18 .5 5 .5 6 0 -13.5 0 2 .5 15.5 .5 -20 0 8 0 4 2 6 0 -9.5 0 -1.5 .5 -8.5 0 14.5 0 -5.5 0 2.5 .5 1 0 -12.5 1 3.5 0 -6 .5 16 0 -8.5 .5 8 .5 4 0 1.5 0 -14.5 0 -3.5 0 17.5 0 -1 .5 -8 0 -4 0 3.5 0 -2.5 0 -6.5 .5 2.5 0 -.5 0 3.5 .5 13 .5 1 0 -11.5 0 5 0 2 0 -14 0 12.5 1 -18.5 .5 15.5 0 .5 .5 -6 0 7 .5 -6 0 -7 .5 4 0 21.5 .5 -22 0 6 0 -1.5 0 -2.5 .5 15.5 0 -13 .5 8 0 -7 .5 3 .5 -12.5 0 2 .5 17 0 -26 .5 22.5 .5 -9 .5 17.5 0 -7.5 0 -18 .5 9 .5 1.5 0 2 .5 1 0 -10 .5 -6 .5 14.5 0 -1 0 -4 0 14 .5 -3.5 0 -18.5 0 14.5 0 -16.5 0 19 .5 -1 0 0 0 3.5 .5 -6 0 8.5 .5 -8.5 0 -5.5 0 18 0 -12.5 1 7.5 0 -12.5 0 2.5 0 0 .5 11 0 -2.5 .5 2 0 -4 0 7 0 -5.5 .5 -4 0 7 0 -6.5 .5 .5 0 3 .5 -3.5 0 -4 .5 4 0 -17.5 0 16.5 .5 0 0 7 .5 -22 0 27.5 0 -19 .5 -4 0 17 .5 -13.5 1 -1 .5 9.5 0 -8 .5 5 1.5 5 0 -17.5 0 12.5 .5 -7 0 3.5 .5 -1 0 4 0 0 .5 0 0 2 0 -7.5 .5 8.5 0 -8 0 5 0 2.5 .5 -15.5 0 9 .5 4.5 0 12.5 0 -19 0 15 0 -2.5 .5 -5.5 .5 -11.5 .5 20 0 2 1 -8 .5 -1.5 0 1.5 1 4 0 1 0 -17.5 .5 13.5 0 -7 0 -8.5 .5 1 0 10 0 6 .5 -.5 0 -19.5 0 19 0 -14 0 17.5 .5 -10 0 1.5 0 7.5 .5 -5.5 0 -5 .5 -6 0 13 .5 -16 0 17 0 -7 .5 6.5 0 11 .5 -7.5 0 -8.5 0 4 .5 2 0 -6.5 0 -2.5 .5 2.5 .5 7 .5 -1.5 1 5 1 -15 0 7.5 .5 -6.5 0 -7.5 .5 9.5 0 -1 0 12 .5 -10 .5 -1 .5 -3.5 0 5.5 0 -8 0 -3 0 5 0 1 .5 19 0 -16.5 .5 1 0 -8.5 .5 1.5 1 11 0 -2.5 0 11.5 .5 -21.5 0 23.5 1 -24.5 0 18 .5 0 0 -7 0 -7 .5 12.5 0 -12.5 .5 -4.5 0 8 0 -1 .5 16 .5 -2.5 0 -3 .5 -.5 .5 -17 0 6 0 -3.5 0 -4.5 .5 20.5 0 -14 .5 3.5 0 3 0 13.5 .5 -9 0 -1.5 0 -18.5 .5 14 0 16.5 0 -21 .5 22 0 -23 0 15 .5 7 0 -16 0 -12.5 .5 12 0 12 .5 -10.5 0 -6.5 .5 2.5 1.5 5.5 0 -.5 0 10.5 0 3 .5 -15.5 0 2 .5 3.5 .5 4.5 .5 -6 0 -14.5 .5 -.5 .5 20 0 -4 .5 7 0 -18 0 13 .5 3.5 .5 -23.5 .5 19 0 0 0 -6.5 .5 3 .5 13.5 .5 -5 0 -15 0 -7.5 .5 14.5 0 -6.5 .5 11 .5 -11 0 9.5 1.5 -2 0 4.5 1 3.5 .5 -17 .5 -1 0 8.5 1 -4 .5 -5 0 1 0 -7 .5 4.5 .5 13.5 .5 5 0 -6 .5 2.5 0 -9 0 14 0 1.5 .5 -8.5 1 -3 0 -5 .5 7.5 0 -3 0 -13.5 0 12 .5 -8.5 0 10.5 0 -6 0 -6.5 1 15 0 1.5 .5 -14.5 .5 26.5 0 -6 0 -6.5 .5 6.5 0 -16 .5 12 .5 -9.5 .5 3.5 .5 -5.5 .5 -5 0 14.5 0 -20 .5 17 1 2.5 0 -9.5 0 5 1 -3 .5 .5 0 12 0 -11.5 0 -6.5 .5 1.5 .5 -7.5 0 5 .5 -4.5 0 10 .5 2.5 0 -7 0 10 .5 2 0 3 .5 .5 .5 -1 0 4.5 0 -4.5 0 0 0 7.5 .5 -9 0 -8 .5 4 0 -2 0 -2.5 .5 1 .5 .5 0 -7.5 0 18 0 3 .5 -9.5 0 -5.5 0 4.5 0 -5 0 11.5 0 -5 .5 7.5 .5 -17.5 0 9 .5 11.5 0 .5 .5 -15 1 .5 0 -6 0 5 .5 12 0 -21.5 .5 28.5 0 -15.5 .5 -10 0 15.5 0 -5.5 .5 -1 0 5.5 1 -6 .5 11.5 .5 -10 0 -9.5 .5 7 1 13 0 -10.5 0 -5.5 0 1.5 .5 10.5 0 -17 .5 12.5 .5 3 1 -7 0 4.5 .5 4 0 -19 0 20.5 1 -19 0 5 0 0 0 -.5 .5 9 0 -5 .5 16 .5 -9.5 0 1 .5 2 0 -1 .5 -10.5 0 9.5 0 -11.5 0 16 .5 -4 .5 -5.5 0 -6.5 0 5.5 .5 -1.5 0 11.5 0 -2 0 -7 .5 -2.5 0 1.5 .5 -3.5 0 15 0 -20 .5 18.5 0 1.5 1 -13 0 -3.5 .5 10.5 1 -1.5 0 -7.5 0 -2.5 0 -2.5 .5 -3 0 1 .5 7.5 0 -1.5 .5 -7.5 .5 24.5 0 2 .5 -29 0 5 .5 2 .5 4.5 0 13 0 -5 0 -16 .5 18 0 9 .5 -12 .5 -4 0 -9 0 -.5 .5 -1.5 0 23.5 .5 -15.5 1 1 .5 -5.5 .5 16 .5 -8 0 0 0 4 0 -15.5 .5 1 .5 3.5 0 16.5 0 -13.5 0 10 1 2.5 0 -24 .5 20.5 0 -12 0 -6 0 16.5 .5 1 0 -1 1 -9 .5 6.5 0 -.5 0 13 0 -29 0 9.5 0 18.5 0 -14 .5 12 .5 -21 0 13 0 -7.5 0 10 .5 5 0 7 0 -11 0 -7 .5 7 0 -7 0 -2 .5 4 0 -6 .5 13.5 .5 .5 .5 -12 .5 -2.5 .5 14 0 -13.5 1 8.5 0 7 0 4 .5 -25.5 0 9.5 .5 -1 .5 -6.5 0 2 0 18.5 .5 -10 0 1 0 5.5 0 -8.5 1 -12.5 0 7.5 0 5.5 .5 2 0 -8.5 .5 4 0 -7.5 0 8 .5 -6.5 0 9 .5 -6.5 0 14 .5 -3 .5 8 0 -13 0 2 .5 -7 1 4.5 .5 4.5 0 .5 0 -6.5 .5 -2 0 11.5 1.5 4 0 -2 1 -20 0 6.5 0 5.5 0 -16.5 1 24.5 .5 -11.5 .5 -5 .5 .5 0 -8.5 .5 17.5 .5 -12 .5 13.5 1 -13 .5 0 0 6.5 0 -11 0 23.5 0 -15.5 .5 -1.5 .5 2.5 .5 7 1 -18.5 .5 10 0 6 0 5 .5 -9 0 .5 0 .5 .5 6 0 7.5 .5 -13.5 0 -8 1.5 9.5 .5 -.5 .5 9 0 3 .5 2.5 1 -19.5 .5 6.5 .5 0 .5 1.5 0 2 0 2 0 -4.5 .5 -11 .5 10 0 13.5 .5 -19.5 1 9 1 -5.5 0 .5 0 -.5 .5 -8 0 21 .5 -20.5 0 1.5 .5 1.5 .5 9.5 0 -6 .5 4.5 0 12.5 0 -18.5 0 7 0 -6 1 -2.5 0 6.5 0 5.5 2.5 7.5 0 -18.5 0 -1 .5 5 .5 -4.5 .5 -4 1.5 .5 1 6 0 -9.5 .5 21 0 -5.5 0 -8.5 .5 14 0 -19 0 12.5 .5 -2 5.5 -1 2 -4.5 .5 11.5 3 -1.5 1 -11 0 5.5 2 -8.5 1.5 11.5 1.5 -8.5 1.5 11.5 .5 -10 3.5 -10.5 1 17.5 0 -.5 3.5 2 1 -14 3 11 54 2 55.5 1 20.5 -11" fill="none" stroke="none" marker-start="url(#pk)" marker-mid="url(#pk)" marker-end="url(#pk)"/>
<g filter="url(#bl)"><g><ellipse cx="827.7" cy="580.1" rx="72.6" ry="15.4"/><rect x="760.2" y="565.7" width="135.0" height="28.9" rx="14.4"/></g></g>
</g>
<g clip-path="url(#c6)">
<ellipse cx="1368.4" cy="554.1" rx="37.4" ry="14.2" fill="#b53cb8" fill-opacity="0.38" filter="url(#bl)"/>
<ellipse cx="1346.9" cy="609.1" rx="43.1" ry="12.5" fill="#4585c4" fill-opacity="0.34" filter="url(#bl)"/>
<path d="M1174.5 513.5l.5 10 1 14.5 1.5 -25.5 4.5 26 4.5 0 .5 -14.5 2 -11.5 5 5 2.5 18.5 3 -19 .5 -3 1 15.5 4 8.5 5.5 -5 3 1.5 1.5 5 1 9.5 3.5 -24 15.5 8 2 -20.5 1 22.5 1 3.5 1.5 -7 2 1.5 1 -15.5 1 23 0 -43 .5 47 1.5 -12 2 -13 2.5 8 .5 6.5 1 3.5 0 -4.5 1.5 -15.5 0 -1.5 0 32.5 4 0 1.5 -28 1 25 .5 -39 2 39.5 .5 -31.5 1 33 1.5 .5 2.5 -16.5 2.5 .5 1.5 -17 0 25.5 5 9.5 1.5 -91.5 0 86.5 1 0 .5 -24.5 0 23 1 -12 2.5 2 1 15 0 -26.5 0 22 2.5 5 .5 2.5 1.5 -30.5 .5 18.5 0 -28.5 1 8.5 2.5 -5 .5 33 1.5 -14 .5 -11 1 25.5 2 -16 1 10.5 .5 6 2 -3.5 .5 3.5 1.5 -20.5 0 -18 0 5.5 1 21 1 -1 1 -11 0 6 .5 -7.5 2.5 17 1 -38.5 1.5 34 1.5 12 1 -3 .5 -3.5 1 6.5 5 -.5 1 -3 1 5 1.5 -18 1 1 .5 13 1 -23.5 .5 13.5 .5 21.5 0 -32.5 0 -18 2 8 0 28 .5 3 .5 -10 .5 12.5 0 -48 .5 32 0 -21 1 57.5 0 -26.5 .5 22.5 .5 -34.5 0 7.5 .5 6.5 0 -6.5 0 -15.5 .5 31 0 -14 .5 25 1 -3 0 -36 0 29 .5 11.5 .5 -25.5 .5 20 0 -13.5 0 -5.5 1 -22.5 .5 33 .5 -7 .5 9.5 .5 10.5 0 -14 .5 -64 0 81 0 -11.5 .5 10 0 -18.5 .5 20 0 -4.5 0 -69 .5 51.5 .5 -3 .5 -2 .5 -2 .5 -14.5 0 -29 .5 1.5 0 50 .5 -48.5 .5 36.5 .5 10 .5 9.5 .5 1 .5 10 0 -54.5 1 11 0 -13 0 -13 .5 64 0 -12.5 2.5 13.5 .5 -12.5 0 12 .5 8 .5 -34 .5 29 .5 -26.5 .5 26.5 .5 -1.5 1 6 1.5 -51.5 0 34.5 .5 13.5 .5 -5 .5 -2.5 0 -17.5 0 20 .5 -65.5 0 71 0 -56.5 .5 42.5 0 12 .5 -10.5 0 -44 0 47 0 -2 .5 5 .5 -64.5 0 50 0 13 0 -13 0 16 .5 -10 .5 17 .5 -42 0 34.5 0 -17.5 .5 0 0 13.5 .5 12 0 -3.5 0 -9 .5 5 .5 -3.5 .5 -54.5 0 64.5 0 -10 .5 1 1 -1.5 0 -15 0 -30 .5 54 0 -32 0 14 .5 8 .5 -7 0 19 0 -26.5 .5 8 .5 -.5 0 6.5 0 -6 .5 9 1 -14.5 1 9 0 3 1 -18 .5 30.5 .5 -25 0 14.5 .5 -3.5 0 15 0 -8.5 .5 -21 0 1.5 0 -3 0 7 0 12.5 1 5 .5 2 0 -24.5 1.5 14.5 0 11 .5 -9 0 -14.5 1 20.5 0 -16 0 1 .5 -10 1 -.5 1 32.5 0 -31 0 -.5 .5 9 0 1.5 0 16.5 0 -8.5 1 1.5 3.5 -15 0 21.5 0 -5 1 -18.5 1 17 .5 -57 0 51 1.5 14 0 -17 .5 4.5 0 3 .5 4.5 0 -6.5 1.5 -12 0 -5 1.5 -17.5 0 25 .5 10 0 .5 3 3.5 0 -16 0 4.5 1 9.5 2.5 -17.5 0 -11 0 14 6 -7.5 3.5 -28.5 6 -8.5 4 31.5 9.5 -34.5 12 11.5 1 40 6 -18.5 5.5 -31 2.5 27.5 7 36 1.5 -12 7 .5 47 10" fill="none" stroke="none" marker-start="url(#pm)" marker-mid="url(#pm)" marker-end="url(#pm)"/>
<path d="M1195.5 646l23 -9 8 3.5 6 6 7.5 -27.5 4.5 25 1.5 -14.5 .5 -18 .5 9 .5 7 0 15.5 1 -6.5 .5 -17.5 0 4.5 5 51 0 -52 0 -11 2.5 32 1 17.5 1 -23.5 1.5 -16.5 1.5 47.5 .5 -56 0 12 .5 39.5 .5 -25.5 1 -25 1 55.5 .5 0 0 -24.5 0 -29 1.5 22 0 -9.5 .5 -15.5 1 20.5 1 5 0 -22 0 8 1.5 9 .5 -22 0 35 .5 -35 1 12 .5 4.5 .5 -11 1 18.5 .5 11.5 6.5 -27.5 .5 -.5 2.5 39.5 1 7 1.5 -17 .5 -35 0 34 .5 -43.5 .5 31 1 4 .5 -15.5 0 15 1.5 1 .5 -2 0 10.5 1.5 -22 .5 11.5 0 -10 .5 -13.5 .5 -2.5 0 5 0 19 1 -30 1 11.5 0 9 .5 -9.5 1 9 .5 14 0 -39.5 1 41 .5 11.5 1.5 -56.5 .5 4 .5 14 .5 99 .5 -98.5 2 -.5 1.5 -16 .5 67.5 0 -71.5 2 6 0 15.5 1.5 -16.5 0 2.5 .5 32 .5 -8 1.5 17.5 0 -24.5 .5 7 0 -16 1 -15.5 0 20.5 2 3.5 0 -15 .5 3 .5 -9 0 13.5 .5 -13.5 1 8.5 0 -2.5 .5 -6 1 -.5 .5 3 0 0 1 5.5 0 -8 .5 13.5 .5 12.5 .5 -1 0 3 1 -5 1 -20 0 96.5 1.5 -98 1 50.5 0 -34 1.5 -15 0 -4.5 .5 7 0 46 0 -23 .5 -29 0 27.5 .5 -31 .5 31.5 .5 50 0 -50 .5 -23.5 0 -3.5 1 1.5 0 3.5 0 12 .5 -18.5 .5 6.5 .5 12 .5 -12 0 -.5 .5 -2.5 0 13 1 -3 0 9.5 0 -4 .5 -.5 1 -5 1 14.5 0 -28 .5 1 .5 17.5 0 -3 .5 4 0 -11.5 .5 7.5 .5 4.5 .5 -16 0 63.5 .5 -67 0 89 0 -70 0 -19.5 .5 9.5 .5 12 .5 7.5 0 -25.5 .5 .5 1 -2 2.5 25.5 0 -23.5 .5 72 0 -69 0 -3.5 1 17 0 -4 0 -14 1.5 0 1 10 0 -1.5 0 -1 0 1 .5 -10 .5 15.5 .5 -11 1 -6 .5 .5 0 21.5 .5 -6.5 .5 -15.5 0 14.5 .5 -14 .5 9 .5 12 0 -20.5 1 0 2 21.5 1 28.5 0 -27.5 0 51 .5 -71 0 23.5 .5 -24.5 0 16.5 0 -12.5 .5 -.5 .5 17 0 -15.5 .5 23.5 0 -1 .5 -7 .5 -23 1.5 7 .5 -1.5 .5 -4.5 .5 0 1.5 -4.5 .5 4 0 6.5 .5 17 .5 -16.5 .5 7 .5 -10 0 4 .5 2.5 .5 12.5 1.5 -22 1 6.5 1 16 1 6.5 0 -15 1 -7.5 0 -4 0 -5 1.5 9.5 1 8.5 1 -11.5 0 14.5 .5 30.5 .5 -24 0 -1.5 0 -19.5 0 -7.5 2 11.5 0 -3 3 22 1 -2.5 0 -18 1 -7 3.5 27.5 .5 -21.5 .5 -5.5 0 7 2.5 -6.5 1 -3.5 2.5 46.5 .5 -39.5 4 -3.5 2 4 3.5 -5 29.5 7.5" fill="none" stroke="none" marker-start="url(#pb)" marker-mid="url(#pb)" marker-end="url(#pb)"/>
<path d="M1162 578.5l2.5 3.5 2.5 3 0 -17.5 0 20 .5 -9.5 .5 0 0 8 .5 -14.5 0 14 .5 -12 0 -4.5 0 15.5 0 -16 .5 26 0 -16.5 1 -5.5 0 6 .5 12 .5 -13.5 0 0 .5 .5 0 8.5 0 -5.5 1 -5.5 1 12 0 -2 .5 -6 1 11.5 .5 -16 0 -2 .5 13.5 0 -1.5 .5 -8 0 14 0 -14.5 0 7.5 1 -3.5 1 1.5 0 5.5 0 -10.5 .5 -6.5 0 12.5 .5 -5 0 -2 .5 10.5 0 3 0 -16 0 19.5 .5 -8 0 8.5 .5 -8.5 .5 3.5 .5 -11 0 11.5 0 -6.5 .5 .5 0 -3 0 4 .5 -10.5 0 6 1 5.5 0 -13 0 12.5 0 9 .5 -22 0 14 1 -8 0 6.5 .5 7.5 0 -1 1 -11.5 0 3 0 -15.5 1 29.5 0 -24 1 -2 .5 13 .5 2 .5 -15.5 1 -.5 0 12 .5 .5 .5 1 0 -2.5 0 2 0 8 0 -8 .5 -1.5 0 3.5 0 0 0 .5 1 1 .5 -7 0 4 .5 -10.5 0 9 1 -3 0 .5 .5 4.5 .5 -1 0 12.5 .5 -15.5 1 5.5 0 5 1 -8 0 -8.5 .5 19 .5 -8.5 0 -1.5 0 -.5 .5 0 0 7 .5 -4 .5 -4.5 0 -2.5 .5 4 0 4 1 6.5 .5 -11.5 0 3 0 1.5 0 -10.5 1 10 1.5 -2.5 .5 2 .5 7 .5 -21.5 2 7.5 .5 2 0 -3 .5 -10.5 1.5 17.5 0 -12.5 .5 15 1 -3 0 -9.5 .5 2.5 0 3 0 4.5 1 -13 0 10.5 2 7 .5 -15.5 0 9.5 1 -10.5 0 12.5 1 -9.5 .5 .5 0 -.5 0 5 .5 1 0 6 .5 -.5 .5 -1.5 .5 -13.5 1 11 .5 13 0 -11 .5 -6.5 .5 5.5 0 6.5 .5 -12.5 0 -1 1.5 -4.5 1 -2 0 11.5 1 .5 1.5 -8.5 .5 12 0 -7 .5 -.5 0 4 0 1 .5 8 .5 -13 .5 10.5 .5 -2 1 -12.5 .5 1.5 .5 -.5 1 17.5 0 -13.5 1.5 -3.5 0 21.5 .5 -21.5 0 -1 0 7.5 .5 -5.5 0 3.5 .5 16.5 0 -11.5 .5 -10 0 10 0 2.5 .5 7 0 -23 1 13 .5 4.5 0 0 1 -14 0 -.5 .5 11 0 -9.5 1 9 .5 -4 0 12.5 0 -15.5 0 -4.5 1 4 0 17 .5 -4 0 -15 0 4.5 1.5 14.5 .5 -24 .5 15.5 0 -12.5 .5 20 .5 -12.5 .5 -6 0 3 0 -6.5 0 -2.5 0 20.5 .5 2 .5 -7 .5 4 0 -10 2 -9.5 .5 -2 0 15 .5 2 0 .5 .5 -7 0 15 0 1.5 0 -6.5 1.5 7.5 0 -16 0 1.5 .5 7 0 -11.5 0 11 0 0 0 -.5 .5 3 .5 -14 .5 7.5 0 3.5 0 -10.5 0 8.5 1 -13 0 13.5 0 -7.5 1 11 0 -9 .5 5.5 0 -4.5 .5 -2 0 -10.5 .5 24.5 .5 -17 0 9.5 0 -9.5 0 11.5 .5 -13 0 -5.5 0 26.5 .5 -22.5 .5 3 .5 -3 0 9.5 .5 -5 .5 13.5 .5 -9.5 0 5.5 0 -1 .5 -9 0 -1 0 5.5 0 6 .5 0 0 7 .5 4.5 .5 -21.5 .5 8.5 0 -2 0 -4 .5 -4 .5 .5 0 -3 0 6 1 -1.5 .5 17.5 0 -2 .5 -6.5 0 6.5 0 -9 .5 11 .5 -13.5 0 -8.5 0 2.5 0 15 1 -9.5 0 8 .5 -21 0 19 0 8.5 0 -5 .5 -10 .5 5.5 .5 -14.5 .5 6 0 17 0 -1.5 0 -18 .5 5.5 0 3 0 -14.5 .5 3 0 12.5 .5 2.5 0 -8.5 0 4.5 .5 14 0 -14.5 .5 12 0 -23 .5 8 0 -1 1 -2 .5 -4.5 1 17.5 0 -8.5 0 6 0 -8 0 -7.5 .5 12.5 0 -9 0 6.5 0 10.5 .5 -3 0 -6.5 0 -16.5 .5 10.5 0 11 .5 -9.5 .5 11.5 0 -23 .5 10 0 11 0 6 1 -23.5 0 21 .5 -7 0 12 0 -6 .5 -20 0 12 .5 2 0 -11.5 .5 14.5 0 -6.5 0 -9.5 0 16 .5 2.5 0 -20.5 0 8.5 1 -8.5 0 20 0 -23.5 0 27.5 0 -12.5 0 14 0 -13 1 -3.5 .5 14 0 -12 0 3 0 -13.5 .5 -.5 .5 19.5 0 -13 0 7 1.5 .5 .5 .5 0 4.5 0 -12.5 .5 6 0 4.5 0 8.5 .5 .5 0 -7.5 0 -14.5 .5 -2.5 0 15.5 .5 -8.5 .5 -1 0 -1.5 .5 10 .5 -.5 0 1 0 13 0 -18.5 0 -4.5 1 -1.5 .5 4.5 .5 1.5 0 -9 0 6 .5 2 .5 0 0 5 0 -5.5 0 .5 0 8.5 .5 -10 0 21 0 -20.5 .5 19.5 0 -14 0 1.5 .5 -5.5 .5 -3.5 0 -6 0 4.5 0 9 .5 -16 .5 13.5 .5 4 0 13 0 -18.5 .5 10.5 0 -3.5 0 4 .5 1.5 0 -21.5 .5 4.5 0 5 .5 18 0 -8.5 0 -11 0 7.5 .5 -13.5 .5 -.5 0 16.5 0 -8 1 3 .5 13 0 -11 0 -14.5 0 12 0 2.5 0 -1.5 0 -5.5 .5 -5 0 20.5 0 -16.5 .5 14.5 0 2.5 0 -15 0 19.5 0 -24 .5 0 .5 9 0 -3.5 0 2.5 0 5 .5 -2 0 0 1 3 .5 -15 .5 -7.5 0 9.5 0 7 0 1 .5 -15 .5 7.5 .5 7.5 0 10 0 -10.5 .5 1 0 -10.5 0 5.5 0 9.5 0 -3.5 .5 .5 0 12 .5 -13 0 -7 .5 -4 0 16 0 -9 0 -6 .5 8 0 -15.5 0 28 0 -6 0 -5.5 .5 -12 .5 14 0 -1.5 0 -17 .5 20 0 -10 .5 -8.5 0 15.5 .5 6.5 0 -17.5 0 8 .5 4.5 0 -12.5 0 11 .5 3 .5 -7 .5 14.5 0 -8 0 -6.5 .5 -.5 0 -7 0 20.5 1 -10.5 .5 2 0 -8 0 16 .5 .5 0 -13 .5 2 .5 -15 0 13 .5 -2.5 0 10 .5 -7 0 10 0 -6.5 .5 7 .5 -5 0 -5.5 0 -12.5 .5 23 0 -8.5 1 -10.5 0 11 1 -4 0 5.5 0 -4 .5 6 0 -4.5 .5 -8 .5 -2.5 0 18 0 -1 0 -14.5 .5 10.5 0 -5 .5 -1 .5 16 0 -8.5 0 9 .5 1.5 0 -18 .5 20 0 -18.5 .5 9.5 0 -8.5 0 7.5 1 -13 .5 10.5 .5 -7 .5 -3.5 0 1.5 0 19 .5 -11 0 3 .5 -8.5 0 -1 .5 17.5 0 -31 0 14 .5 4 1.5 -15 0 28 1 -11 0 -8.5 0 10 0 -13.5 .5 14.5 .5 -11 .5 -.5 0 -6 .5 11.5 0 9.5 0 -1.5 .5 -24.5 0 23 .5 .5 0 -.5 .5 -10.5 0 -1.5 .5 3 1 -2.5 .5 16 .5 -4 0 3 0 -3.5 .5 -17 0 22 .5 -5 0 -.5 .5 9.5 0 -20.5 0 10 0 -4.5 .5 14 0 -26 0 6 .5 4 0 14 .5 -5.5 .5 -21.5 0 2.5 .5 18 .5 -9 0 -6.5 .5 15 0 -12.5 0 2.5 .5 -12 0 3.5 0 19.5 .5 3.5 0 -11.5 0 5 0 -6.5 1 7 0 8.5 0 -19.5 .5 8 .5 11.5 0 -28.5 0 2.5 0 11.5 .5 6 0 .5 0 -6 0 -1 1 7 0 -9 0 7 1 13 .5 -15.5 0 -1 .5 -6.5 0 9.5 0 12 .5 -17.5 0 10.5 .5 5 0 -11 .5 -5.5 0 6.5 0 2 .5 -8.5 0 17 1 3 .5 -5 0 -5.5 .5 -12 0 15.5 0 -13 .5 -3 .5 8.5 .5 -11 1 2.5 .5 .5 0 8 0 7.5 .5 -16 0 -1.5 0 16 .5 -6 0 -9 0 21.5 0 -22.5 0 4.5 0 16.5 0 -12.5 .5 11.5 .5 -27.5 0 19.5 .5 9 0 -3.5 .5 -18 0 26 0 -9.5 0 -12.5 0 0 .5 -6 0 -2.5 0 18 .5 -2.5 0 7 0 -5.5 1 -3 0 3.5 0 -10 1 22 0 -12 0 -2 0 -3.5 0 19 .5 -17 0 -3 0 -7 0 22.5 .5 -4.5 0 -21 .5 .5 .5 5 1 15 0 5 1 -13.5 0 -7 0 -3.5 .5 4.5 .5 8 0 4 0 -10.5 .5 12 0 -7 0 5.5 1 -5 0 6.5 0 5.5 0 -7 .5 -7 .5 6 .5 .5 0 5.5 0 -11 .5 -3 0 13.5 0 -6 .5 -13 .5 3 0 5.5 0 13 1.5 -14.5 0 10.5 .5 -15 0 -3.5 .5 -1 0 -2 0 19.5 0 -7.5 0 1 .5 6 0 -12 .5 9 0 7 0 -12.5 .5 8 0 -7.5 0 -.5 0 .5 0 6.5 .5 -16 0 18.5 .5 .5 .5 3 .5 -1 1 -1.5 0 7.5 .5 -25 0 12.5 0 -6 .5 -2 0 17.5 0 -5.5 0 -5 .5 13 0 -12.5 0 -9 .5 3.5 0 12.5 0 3 .5 -15 .5 -3 .5 9 .5 -4 0 3 .5 1.5 0 -9.5 .5 1 .5 -.5 0 15 .5 -3 0 -18 0 20.5 .5 3.5 1 -14 0 -4.5 0 16.5 .5 -10.5 0 1.5 0 0 .5 -8 .5 -1 0 3 .5 11 0 -8 .5 9 .5 -3.5 0 -10 .5 4.5 0 -11 .5 26 0 -18 .5 16 0 -3.5 0 -4.5 0 -9 .5 10 .5 -17.5 0 19 .5 -10.5 0 4 .5 -1.5 .5 10.5 0 -15.5 0 9.5 .5 -9.5 .5 -4.5 0 9.5 .5 -4 .5 6.5 1 -2 0 .5 .5 -11 .5 12.5 0 -.5 .5 8.5 .5 -10.5 .5 7.5 .5 -12.5 .5 10 .5 -1 .5 -12 1 5.5 0 7 .5 -11 .5 4 .5 16.5 .5 -10.5 0 4 0 -5.5 0 -6.5 0 -5.5 0 1.5 1 -2.5 0 5 0 5 .5 -2.5 0 3 0 -.5 .5 15 .5 -23 0 5 0 -6 1.5 14 0 -11 .5 8 0 3.5 0 -17.5 .5 21 0 -14.5 0 5 0 12 .5 -14.5 0 0 0 12 .5 -5 .5 8 0 -13.5 0 -2.5 1 .5 0 -2.5 0 11 .5 -12 0 1 0 -5.5 1.5 6.5 .5 1 .5 18.5 0 -9 0 1.5 1 8.5 .5 -14 0 -2 1 6 1 -11.5 .5 19 .5 -11.5 0 -9 1 -1.5 .5 -3 0 7 .5 12 1 -12 2 4 .5 9.5 1 -8.5 0 -7 2 -2.5 1.5 7.5 .5 6 2 -7 1 10 0 3 1 -17 2.5 1.5 .5 2 1 2.5 .5 6 .5 -14 1 8.5 .5 -4.5 .5 1 4.5 2.5" fill="none" stroke="none" marker-start="url(#pk)" marker-mid="url(#pk)" marker-end="url(#pk)"/>
<g filter="url(#bl)"><g><ellipse cx="1328.7" cy="580.8" rx="59.0" ry="15.4"/><rect x="1273.9" y="566.3" width="109.7" height="28.9" rx="14.4"/></g></g>
</g>
<g clip-path="url(#c7)">
<ellipse cx="1864.6" cy="560.0" rx="25.0" ry="10.2" fill="#b53cb8" fill-opacity="0.34" filter="url(#bl)"/>
<ellipse cx="1832.8" cy="613.8" rx="34.0" ry="10.8" fill="#4585c4" fill-opacity="0.25" filter="url(#bl)"/>
<path d="M1664 523l4.5 3 11 2 2.5 -17.5 1 14.5 11.5 5 13.5 -20 24 -19 4.5 13.5 8 1.5 12 21 9.5 -33 2 16 15.5 -3 13 41 3 12 4.5 -30.5 1 31 3 -77.5 1.5 74.5 11.5 -7.5 2.5 7.5 4.5 -6.5 3 8 1 -15.5 3 20.5 3 -29.5 0 24 0 11.5 .5 -11.5 .5 -3.5 0 -15.5 .5 -1.5 1.5 25 0 -9 0 -13.5 1.5 26 0 4 .5 -10.5 1 1.5 1.5 1 .5 -1 1.5 -6.5 0 14.5 0 -7 .5 -37 0 45.5 .5 -17 0 -.5 .5 -1 0 3 0 9.5 .5 -20 0 12.5 1 -23.5 0 17.5 0 -11.5 0 20 .5 1 .5 -18.5 1 26 0 -18 0 11.5 .5 2.5 0 .5 0 2.5 1 -9.5 0 1.5 .5 -3 .5 -28 .5 41 0 -10.5 0 -6.5 .5 16 0 -20 .5 16.5 .5 -16.5 0 6.5 0 -14.5 0 20.5 .5 -2 0 9 .5 -11 0 3.5 .5 5.5 0 3 0 -29 .5 20 0 8 0 -42 .5 26 1 10.5 0 -.5 .5 -4 .5 7 0 3.5 0 -7.5 .5 5 .5 -3 0 7 0 -6.5 0 -6.5 .5 6.5 0 -3 0 4 .5 -10.5 0 13.5 0 -5.5 0 -.5 .5 7.5 0 -31 1 12 .5 12 .5 -11 0 2.5 0 -22 0 22 .5 14.5 .5 -40 1 39.5 1.5 -33.5 0 22.5 0 -4.5 0 15 0 -8.5 .5 -8 1 0 .5 11.5 0 -10.5 .5 -26 .5 29 1 -5 .5 -6 0 -10.5 .5 38 .5 -7.5 1 .5 0 -31.5 0 -5 .5 33 .5 -13 1 -20 .5 34 1.5 -31.5 0 28.5 1.5 8.5 0 -5 .5 0 1 -7.5 0 5 .5 1.5 0 -14.5 .5 24.5 1.5 -9 .5 -5.5 0 -15 0 12.5 2.5 5.5 1.5 -46.5 2 13.5 0 4.5 1 13 .5 -11 .5 27.5 1.5 -29.5 0 -9.5 1.5 41.5 2.5 0 1 -23 4 16 0 -9.5 1.5 -9 3.5 17 .5 9 1 -.5 1.5 -18.5 2 -33 4.5 4.5 2.5 5 2 4.5 2 11 .5 23.5 1 -7 3 -9.5 .5 4.5 3.5 -1.5 6 -23.5 .5 21.5 1 9.5 1.5 -6 2 -6.5 0 19 7 3 71.5 -9.5" fill="none" stroke="none" marker-start="url(#pm)" marker-mid="url(#pm)" marker-end="url(#pm)"/>
<path d="M1672 638l29 1 1 5 0 .5 1 -5.5 5.5 13.5 1.5 -13 1 12 1 -1.5 1 -6 0 -7 .5 1.5 1 22.5 1 -.5 2.5 -23 0 15.5 2 -10.5 2.5 6.5 .5 2.5 .5 -13.5 1 20 .5 -10 .5 -5 4.5 12.5 1 -4 0 -14 .5 -.5 .5 24 1.5 -17.5 10.5 -2.5 .5 -13.5 2.5 9 1 -1 .5 13.5 .5 -18 0 -7.5 2 2 3 7 1 -4.5 .5 9 2 5 0 2.5 .5 -21.5 0 20 0 -13 1.5 15.5 1 -18 1 8.5 .5 5 .5 -5 0 6.5 1 -.5 .5 -1 1.5 4 .5 -17 .5 -3 0 -.5 1 10.5 0 -1.5 1.5 -4 0 -5.5 .5 0 .5 2.5 .5 -1.5 1 21.5 .5 -20.5 0 2 2.5 -4.5 1.5 5.5 0 0 .5 -1 0 3.5 1 -6 1.5 0 1.5 -14 0 26.5 .5 -6.5 2 -5.5 1 -9 1.5 8.5 0 -7.5 1 -1.5 2.5 2.5 0 59.5 .5 -65.5 .5 2 1 13.5 .5 -9.5 1.5 -2 1 1 1 -3.5 0 5 2.5 12.5 1.5 -15 1.5 6 0 -11 .5 8 1 -1.5 0 -5 0 19.5 .5 -20.5 .5 5 .5 -8 .5 17 .5 2.5 1 3 0 -9.5 2.5 6 0 -17 .5 20 0 -2 2.5 -6 .5 43 2 -55 1 1 0 -2 .5 .5 0 17 0 -12.5 .5 17 5 -12 2 -5.5 1 -2.5 .5 9.5 1 8.5 2 -3 2.5 -29 .5 2.5 0 10.5 4.5 14 0 20 .5 -11.5 1 19 2 -54 .5 28.5 .5 -15.5 0 13 .5 -21.5 2 -6.5 0 1 .5 4.5 1 8 .5 9.5 .5 -14 0 -6 0 17 .5 -4.5 .5 5.5 0 1.5 .5 -19.5 .5 14.5 0 -16 .5 2 0 17.5 .5 -12.5 .5 -7 0 5.5 .5 22.5 0 -19.5 1 -.5 .5 9.5 0 -3.5 0 9.5 1 -23.5 0 35.5 .5 -30 .5 13 1.5 -2 0 17.5 .5 -23.5 1 20 .5 -28.5 .5 11 .5 8 0 -19.5 .5 12 0 -1 .5 -3 1 8 0 -13.5 2 -6.5 0 24.5 1 -19.5 0 15 1 -9 .5 5 .5 5 .5 -18.5 .5 30 0 -15.5 .5 -4 .5 -13 0 8 .5 10 2 -4.5 .5 .5 0 -11.5 .5 3 .5 6.5 1 8 1.5 -3.5 0 -5 0 -.5 0 .5 1.5 -10 2 2 0 0 .5 23.5 3.5 -22.5 1.5 42.5 3 -40.5 1.5 1.5 11.5 2.5 7.5 0" fill="none" stroke="none" marker-start="url(#pb)" marker-mid="url(#pb)" marker-end="url(#pb)"/>
<path d="M1655.5 594.5l1 -20 1.5 -4.5 .5 -1.5 .5 21.5 2.5 4.5 0 -25.5 .5 14 0 -4 .5 18.5 .5 -13.5 .5 -3 0 -1 .5 0 0 6.5 2.5 -8.5 1 -2 1.5 11.5 0 -1.5 .5 -5.5 1 -11 1 14 0 5 0 -13.5 .5 2.5 0 14 0 -15 0 3.5 .5 9 0 4.5 .5 -14 .5 13.5 0 -23.5 .5 23 .5 -8.5 0 8 0 -6 .5 1.5 0 -2.5 0 -5 0 2 .5 2.5 .5 1.5 0 -2 .5 0 .5 -6 0 6.5 0 -6.5 0 4 .5 10.5 0 -5.5 .5 -3.5 .5 13 .5 -13 0 8 0 -10 0 1.5 1.5 6 0 -10 .5 5 .5 3 0 -15.5 0 7.5 1 1 0 15 0 -.5 .5 2.5 .5 -6 0 1 .5 2 1 -14.5 1 18.5 1 -19 .5 8.5 0 -20 0 18 1 13 0 -13.5 .5 -13.5 .5 4.5 1 14 1 1 .5 -6 .5 0 1 -1.5 .5 3.5 0 -14 1.5 11 0 -11 .5 10.5 .5 -9.5 0 11 0 1.5 .5 -11.5 1.5 15 1 -7 .5 0 0 -6 .5 2 0 6 .5 12 .5 -12 1 5 0 -.5 0 -12.5 .5 5 .5 1 0 -6 .5 10 0 -5.5 .5 .5 0 -2 .5 -8.5 .5 7 0 -3 0 10.5 0 -1.5 .5 .5 1 .5 .5 -2 0 -1.5 .5 -7 0 8.5 0 -2.5 .5 9.5 1 -.5 0 6 0 -14 1.5 2.5 0 -13.5 .5 17 0 -15.5 .5 4.5 .5 6.5 .5 1 0 2 0 8 .5 -13 0 6.5 1 6 0 -22.5 .5 16 .5 -4 0 -15.5 .5 16.5 0 -3 .5 2.5 .5 -7 .5 11 1 -21 0 21.5 1.5 -4.5 0 -3 0 -8 0 9.5 .5 -2 .5 4.5 .5 4.5 .5 -3 1 3.5 1 -11.5 0 -3.5 0 4.5 1 0 0 5.5 .5 -10 0 4 1.5 5 .5 -7.5 1 17.5 .5 -6.5 0 -7 .5 1.5 .5 -9 0 20.5 .5 -12.5 .5 -12.5 0 25.5 0 -7.5 1 0 0 -9.5 .5 14.5 .5 -5.5 .5 1.5 0 4.5 1.5 -15 0 18.5 .5 -2.5 0 -11 .5 5 0 -8 0 12 0 4.5 .5 -11.5 0 -4.5 0 -5.5 0 7 0 7 .5 -17.5 0 20.5 .5 -19 0 7.5 0 8 0 -7 0 3 .5 12.5 0 -12.5 1 -16 0 27.5 0 -14.5 0 14.5 0 -11.5 .5 8 0 -2 0 -7.5 0 -4 0 1 .5 .5 0 -2 .5 -4.5 0 17.5 0 -9 .5 -5 0 3 0 3.5 0 -9.5 .5 5.5 0 -1 0 8.5 0 4.5 .5 -6 0 4.5 .5 0 0 -13.5 .5 16.5 0 -9 0 -5 0 -.5 .5 14 .5 -3 0 -4.5 0 -1 0 1.5 0 4.5 0 -2.5 .5 1.5 .5 -16.5 0 22.5 .5 -9.5 0 13.5 0 -13 .5 -17.5 0 17 .5 -12.5 .5 20 0 -20 0 26 0 -22.5 .5 14 0 4 .5 -7.5 0 -13.5 0 19.5 0 -20 0 22 .5 1 0 -15 0 3 0 -12.5 0 14.5 0 -7 .5 12.5 0 -14.5 0 13.5 0 1 0 -16 0 9 0 12 0 -13 0 -2.5 .5 1.5 0 -1 0 -6.5 0 2 0 -3 .5 8.5 0 12 .5 -16 0 5 0 6.5 0 -21 0 8 0 13.5 0 -7.5 0 10 0 -8 .5 -14.5 0 4 0 9.5 0 4 0 0 .5 -2 .5 6.5 0 -13.5 0 -3.5 0 17.5 0 3.5 .5 -19 0 1.5 0 -5.5 0 9 .5 -5 0 8 0 9.5 0 -11.5 .5 8 0 -10.5 .5 2 0 -1.5 0 -5 .5 6.5 0 4.5 0 4.5 0 -19 0 16.5 .5 -4 0 -2.5 0 2.5 0 -14.5 0 8.5 .5 12.5 0 -2.5 0 -7 0 7 0 -14.5 0 1.5 0 -1 .5 10.5 0 -15.5 0 14.5 .5 4 0 -.5 0 -3 0 -2 .5 -8.5 0 7 0 6.5 0 -19.5 0 26 .5 -7.5 0 3 0 -2.5 0 6 0 -4.5 0 -19 0 13 0 1.5 0 .5 .5 -8.5 0 12 0 -11.5 0 1.5 .5 -8.5 .5 3.5 0 14 0 -5.5 0 -6 0 14 .5 -2 0 5.5 0 -10 0 1.5 .5 -3 0 -.5 0 5.5 .5 9.5 0 -6.5 0 -11.5 0 17 0 -7.5 0 .5 0 -14 .5 20.5 0 -13.5 0 -8 .5 0 0 9 0 5.5 .5 4.5 0 -23.5 0 11 0 -9.5 0 17 0 -.5 .5 -8 .5 -4 0 15 0 -2 0 -7.5 0 7 .5 7.5 0 -.5 0 -6.5 0 -4.5 0 -.5 .5 9 0 -10.5 0 13 0 -4.5 0 -12 .5 14.5 0 -20.5 0 4 .5 2.5 0 1 0 0 0 0 .5 0 0 3 0 -2 .5 9 0 -9.5 0 -3 0 12.5 .5 -4 0 7 0 -4 .5 -18.5 0 21 0 5 0 -29 0 13.5 .5 -3.5 0 15 0 -20 0 24 0 -.5 .5 -8.5 0 -18.5 0 13.5 0 -1.5 .5 10.5 0 -7.5 0 -13.5 0 13 .5 5.5 0 2 0 -.5 0 -22.5 0 10 .5 -9.5 0 17.5 0 8.5 0 -15.5 0 7 0 -11 0 -.5 0 1.5 .5 8.5 0 -2 .5 -.5 0 2.5 .5 -6 0 15.5 0 -11 .5 1.5 0 -12 0 12 0 -2.5 .5 -7 .5 3.5 0 9 0 -7 0 -5.5 0 16 0 -4.5 .5 -9 0 14 0 -3.5 .5 6.5 0 3 .5 -14.5 0 -3 0 14.5 0 -9.5 0 -10 0 22.5 0 -27 .5 15 0 -.5 0 9 0 -2.5 0 -13.5 0 10 0 -3.5 .5 2 0 7.5 0 -10.5 0 6 0 -10 .5 -10 0 13.5 0 -1 0 -3 .5 11 0 -7 0 17 0 -21 0 4 0 -10.5 0 18.5 0 -19.5 0 22 0 -14 1 15 0 -13 0 10 0 .5 0 -10 .5 5 0 -4.5 0 -2 0 -6 .5 20 0 -7 0 .5 .5 -11.5 0 2 0 7.5 0 3 0 -1 0 4.5 .5 -9.5 .5 6 .5 6 0 -25 0 22 0 -10 1 -6.5 .5 10 0 5.5 0 -9 .5 9.5 0 -10.5 0 10.5 0 -8.5 0 -8.5 0 20 .5 -11.5 .5 -1.5 0 -2 0 7 .5 11 0 -19.5 0 9.5 0 -1.5 .5 -11 0 11 0 -.5 .5 2.5 0 -6 .5 5 0 -18.5 0 29.5 0 -17.5 0 3 0 1 0 2.5 .5 8 0 -7 0 5 0 -8.5 0 2 .5 -4.5 0 -4 0 15.5 .5 7.5 0 -29.5 .5 14 0 8.5 1 -15.5 0 6.5 .5 12.5 0 -12.5 0 7 .5 1.5 .5 -.5 0 .5 .5 0 0 -16 0 -1.5 .5 2.5 0 -10.5 0 24 .5 -11.5 0 3 0 -10.5 0 7 0 -.5 0 8.5 0 12 1 -16 0 -11.5 0 17.5 0 -4.5 .5 -1.5 0 7 0 -15 0 14 0 4.5 .5 -14 0 14 .5 -5.5 0 0 0 -7 0 1 .5 .5 0 -7 0 8 0 8 0 -1 .5 5 0 -17.5 0 13.5 .5 -15 0 21.5 0 -12 0 -10.5 .5 13 0 -12.5 0 5.5 0 4.5 .5 -3 0 5.5 0 -15 0 10.5 .5 -11.5 .5 19.5 .5 -16 0 7 0 9.5 .5 -9.5 0 11.5 0 -2 .5 -12 0 .5 .5 0 0 -8.5 0 .5 .5 3.5 0 8 0 -5.5 0 2 .5 6.5 0 -5 0 -1.5 0 -3 1 0 0 -5 .5 -1 0 7.5 0 -4.5 1 -3.5 .5 -4.5 .5 10 0 -2.5 .5 5.5 .5 3.5 0 -3 .5 1 0 6.5 0 -10 .5 -8 0 15.5 1 4.5 0 -10.5 .5 14 .5 5 .5 -19 0 17.5 .5 -3.5 0 -9 .5 -6 .5 -1.5 0 16 0 -11 0 -6.5 0 7 .5 -7.5 0 6.5 0 -8 0 16 0 -10 .5 13 .5 -15 0 9 1 -6.5 .5 -3.5 .5 1.5 .5 -2 .5 18 0 -9 0 8.5 .5 -8 0 2.5 0 -1 .5 2.5 0 -3.5 .5 -5.5 0 3 .5 4.5 0 -15.5 .5 -1.5 0 18.5 .5 -19.5 .5 7 0 11.5 .5 -13 0 6.5 0 15 .5 -5.5 0 -16 .5 1 0 11.5 .5 -8.5 0 1 1 -13.5 0 2.5 .5 14.5 .5 -9.5 0 18.5 0 -3 .5 -12 0 10 .5 2 0 8 .5 -3 0 -20 .5 2 .5 16.5 0 -17 .5 20.5 1 -20 0 14 .5 -10.5 .5 11 0 -8.5 .5 3.5 .5 -7.5 .5 4.5 .5 13 0 -20 .5 6.5 .5 10.5 0 -24 0 18.5 .5 -13.5 0 5.5 0 -13.5 0 22.5 .5 -3.5 0 -8.5 .5 2 0 2.5 0 .5 .5 0 0 4.5 .5 0 2.5 -3.5 0 1.5 0 -13.5 0 25.5 0 -15 .5 -10 0 16 0 2 0 -1 .5 -16.5 .5 21 .5 -1 0 -1 0 1.5 0 -11 .5 -1.5 0 15.5 0 -25 1.5 13 0 -5.5 1 21.5 0 -12.5 0 -9 0 -1 1 3.5 .5 1.5 0 13.5 .5 -9 .5 -7 0 2.5 0 8.5 .5 4.5 0 -16.5 0 20.5 0 -24 .5 7.5 0 7 .5 -11.5 .5 5.5 .5 15 .5 -16.5 0 -8.5 .5 7.5 0 5.5 0 3.5 .5 -8.5 .5 8.5 .5 -5.5 .5 4.5 1 -8.5 .5 -3 .5 6.5 .5 -.5 0 5.5 .5 1 0 -3 0 6 0 -8.5 0 9.5 .5 -15 0 4 .5 -.5 .5 -6.5 0 9.5 .5 -9.5 0 -7 .5 14 0 5.5 .5 6.5 0 -11.5 .5 1 1 -1 0 7 .5 -2.5 0 -18 0 5.5 .5 -2 0 9 1 8 1 -14 .5 12.5 0 9 .5 -1.5 0 -3.5 .5 0 0 -5 .5 -7 0 2 1 7.5 .5 -3 .5 -12 .5 .5 0 -9 0 31 1 -10 0 -15.5 .5 16 0 6 .5 -13.5 .5 -6.5 0 4 .5 2.5 0 2.5 .5 2.5 0 -5.5 .5 6.5 0 2.5 0 -13 .5 4.5 .5 -6 .5 10 .5 -6.5 0 2 1 -1 0 17 .5 -19.5 .5 6 0 1.5 0 -6.5 .5 9.5 .5 -4 0 -4 .5 2 0 8.5 .5 -15 0 17 0 -7.5 0 3.5 .5 3.5 0 -11 0 8.5 .5 -4 0 -8 0 11.5 .5 -10.5 0 -1 .5 20.5 .5 -8 .5 -13.5 0 6.5 .5 -9.5 1 11.5 0 -8 0 4 .5 8 .5 4 1 -5 .5 3 0 -6.5 .5 5 0 -9.5 .5 -3 .5 -3.5 0 11.5 .5 12.5 0 -17.5 0 10 0 5.5 .5 -12.5 0 1 .5 14 0 -13 .5 8 .5 -11.5 0 2.5 0 13 .5 -6.5 0 -22 0 12 0 6.5 0 -11.5 .5 3 0 10 0 -3.5 .5 2 .5 -12 0 13 .5 6 0 -2 0 -25 0 20.5 0 6.5 1 -12 .5 .5 0 0 0 -13.5 .5 8.5 0 -7.5 .5 16.5 0 11.5 .5 -6 0 -5 0 -14.5 0 15.5 0 1 .5 -7 0 12.5 0 -12.5 .5 10 0 -19 .5 15.5 0 -10 0 2.5 .5 0 0 -11 0 11.5 0 1 0 5.5 1 -1.5 .5 -15.5 0 16.5 0 -8 0 -3.5 1 10 0 -11 .5 11 1 -15.5 0 21.5 0 -14 0 1 1.5 14.5 0 -8.5 .5 -7 .5 -2 .5 -.5 0 3.5 1 .5 1 15 0 -18.5 0 4 .5 5 1.5 -2 0 11 0 -15 0 -2 0 -9 .5 21 0 4 1 -3.5 0 -9.5 0 -2 .5 11 .5 5 .5 -8.5 1 -8 0 -2 .5 -3 1 12.5 1 -9 0 8.5 .5 -5.5 0 -2 .5 17 0 -15 .5 -7.5 1 3 0 -6 .5 2.5 1 17.5 .5 -8 0 4.5 0 -4.5 .5 4 0 -9 .5 12.5 1 -11.5 0 10 0 -3.5 1 2.5 2.5 -9.5 1 12.5 0 -4 .5 -10.5 0 14 .5 -10 .5 9.5 .5 -7.5 0 11.5 1 -18.5 .5 9 .5 -1 1 7.5 0 -4.5 1 -8.5 0 19.5 .5 -7 0 -20 0 18 1 -13.5 .5 17.5 1 -8 0 -5.5 .5 8.5 1 -9 0 18.5 0 -11 0 5 .5 -13 .5 3 .5 -6 0 8.5 1.5 -1 1 14 0 -13 0 -5 0 8.5 .5 11.5 2 -14 .5 -4.5 0 9 .5 -12 1 0 1.5 1.5 0 -9 1 25.5 1 -18.5 .5 4.5 1 14 .5 -7 .5 -14.5 .5 17.5 0 -8.5 1 13 .5 -18.5 0 6.5 .5 5 0 -5 0 -13 .5 18 .5 -14 .5 -4.5 2 10 1.5 6 0 5 2 -8.5 6 -10 0 22.5 .5 0 6 -22.5 9 7 32 -1" fill="none" stroke="none" marker-start="url(#pk)" marker-mid="url(#pk)" marker-end="url(#pk)"/>
<g filter="url(#bl)"><g><ellipse cx="1830.5" cy="583.8" rx="52.2" ry="14.8"/><rect x="1782.0" y="569.9" width="97.0" height="27.7" rx="13.8"/></g></g>
</g>
<g clip-path="url(#c8)">
<ellipse cx="372.6" cy="930.0" rx="36.3" ry="15.3" fill="#b53cb8" fill-opacity="0.38" filter="url(#bl)"/>
<ellipse cx="363.5" cy="981.6" rx="34.0" ry="7.9" fill="#4585c4" fill-opacity="0.25" filter="url(#bl)"/>
<path d="M211 915.5l3 -25 .5 -6.5 1 34.5 1 -30 4 17.5 .5 -3 6 -9 0 15 4 -11.5 1.5 1.5 .5 4.5 2 10 6.5 -4.5 1.5 1.5 3 12.5 1.5 -44 11.5 39 5.5 1.5 3.5 -11 14 -36 9.5 18.5 2.5 8.5 3 26 .5 -25 .5 25.5 3 -14 1 9.5 1 -65 4 -9 1 25 1.5 59.5 3 -45.5 1 -40 0 28 .5 26 1.5 -29.5 .5 61.5 1 1 1.5 -6 2.5 -52 0 40 .5 10 4 -21 0 -13.5 1.5 39 .5 -61 1.5 60.5 0 -2.5 0 -26 .5 -.5 1 -6 0 5.5 .5 -5.5 .5 23 .5 -80 .5 14.5 1.5 42.5 .5 33 .5 -90 0 93.5 1.5 -33.5 1 -3 .5 26.5 .5 -61.5 0 75.5 1.5 -5.5 1 10.5 0 -7.5 0 -20.5 .5 20.5 1.5 -7.5 .5 8.5 .5 -28 0 13 1 -1 0 4 1.5 14 1.5 -4.5 0 -49.5 0 49.5 1.5 -15 0 -7.5 1.5 35.5 0 -22.5 .5 14 0 -64.5 0 52.5 .5 11 .5 -72.5 .5 67.5 .5 -6.5 .5 15.5 .5 -42 0 37 .5 -38.5 1 35 0 -29.5 .5 33.5 0 -12.5 0 3.5 0 12 .5 -22 0 7 1 -87.5 0 63 .5 -37.5 .5 54 .5 10.5 0 -4.5 0 2.5 .5 19 .5 -2 .5 -7 0 -3.5 .5 15.5 0 -15.5 0 3 0 8.5 1 -56 0 50.5 .5 3 .5 2.5 .5 -48 0 33 0 0 .5 -1.5 .5 -7.5 0 4 0 -2 1 9.5 .5 .5 .5 12 0 -28 0 1.5 .5 28.5 .5 -108.5 0 105.5 0 -55.5 .5 17 0 14.5 .5 -77.5 .5 89.5 0 14.5 .5 -17 .5 5 .5 2.5 0 -.5 1 2.5 0 0 .5 -.5 0 -7.5 .5 12.5 0 -40.5 .5 39.5 0 -104 .5 86.5 1 -74 .5 52.5 0 -43.5 0 5 .5 81 0 -8.5 .5 4.5 .5 -13 0 4 0 12 .5 -22 .5 25.5 0 -22.5 .5 14.5 0 6.5 0 -42.5 .5 33.5 0 -9.5 .5 8.5 .5 12 0 -30 .5 25 .5 -46.5 0 49 0 -91 0 -11 0 -5 .5 78 0 26 0 -3 0 9.5 1 -3 0 -13.5 0 -2 0 -38.5 .5 32 0 -41.5 .5 61.5 .5 -2.5 1 6 0 -40.5 0 35.5 .5 -21.5 .5 10.5 .5 14 0 -21.5 .5 -42 0 59 1 -56.5 .5 64 0 -43 .5 21.5 0 9.5 1 -11 0 -16.5 0 22 1 15 0 2 0 -50 .5 51.5 1.5 -47.5 0 23 .5 -78 .5 69 .5 8.5 0 2.5 0 18.5 .5 2.5 0 -8 0 -6.5 .5 -46.5 .5 44.5 0 16 0 -60 .5 59 .5 -40.5 .5 -1 1 -61.5 .5 82.5 .5 -24 0 -64.5 .5 104.5 0 -100 .5 103.5 0 -75.5 .5 -15 0 68 .5 -30.5 .5 11.5 0 39.5 0 -45 1 19.5 0 18.5 .5 -50.5 0 46.5 0 5 .5 -6.5 1 -52.5 .5 -14.5 .5 6 .5 55.5 .5 1 0 15 2.5 -14.5 .5 9 .5 -16 .5 19 0 -102.5 .5 70 0 -58 1 9 .5 33.5 1 15.5 0 -2.5 .5 -19 .5 46.5 0 -63.5 0 53 0 6 .5 -35.5 .5 -.5 2.5 43 1 -30.5 1 -20.5 1 16 0 -39.5 0 59.5 1 -7.5 1.5 -14.5 1 -28.5 7 4.5 2.5 -7.5 .5 34 1.5 -23 1.5 26.5 0 -31.5 3.5 35 1.5 27 13.5 5 1 -86.5 .5 -8 6.5 15 5.5 39 61.5 33 55.5 6" fill="none" stroke="none" marker-start="url(#pm)" marker-mid="url(#pm)" marker-end="url(#pm)"/>
<path d="M227.5 1015.5l1 -12 2 -7.5 2.5 14 0 4 .5 -18 3.5 12 0 1 .5 -.5 0 20 4.5 -30.5 1.5 11 2 -3.5 1 -2 1.5 -7.5 .5 20.5 5 -3 .5 -8.5 1 -.5 1 .5 .5 3.5 0 -8.5 .5 -3 .5 3.5 3 9.5 .5 -12.5 2 14 2 -14 5.5 20.5 3 -14 5 1.5 2 -5.5 1 -4.5 1.5 10 1.5 4 .5 19.5 .5 -21 1 -19.5 3.5 .5 0 21 .5 -21 .5 17 0 -3.5 .5 -10.5 2.5 1 0 14 2.5 1.5 0 5.5 0 -14.5 1 2.5 0 4.5 2 -10.5 1 15.5 .5 -18.5 0 13.5 .5 0 1.5 -20.5 1.5 5 0 18.5 6 -20 1 2.5 0 -3 1 18.5 1.5 -7.5 0 1 0 -.5 4 1 1 -9 1 -11 2 17.5 1.5 -14.5 1 13 .5 -1 2.5 -17 2 -8.5 .5 16 5.5 5.5 2 25.5 .5 -26.5 4.5 -3 0 -10.5 .5 4 1.5 7 2 -2 .5 -2.5 1 7 0 -20 2.5 22 2.5 -1.5 1.5 0 1.5 -6.5 1.5 -8.5 1 -6 1 18.5 0 -10 1.5 12.5 1.5 -9 0 8.5 .5 -21 .5 13 0 -2.5 1 -.5 1 1 1.5 -2 .5 7.5 1 -9.5 1 -1 0 6.5 2 -4 1.5 -6 .5 1 3.5 9.5 2.5 -2.5 .5 7 1 -13.5 1.5 12 0 -16.5 1 4 0 3.5 .5 -3 .5 -2 .5 2.5 .5 4 .5 -3 0 2 0 .5 1 12.5 .5 -1 1 -19 1.5 2.5 .5 1 1.5 6.5 .5 -12 0 13.5 1.5 -9.5 1.5 4 .5 -4 1 16.5 .5 2.5 .5 2 .5 -7 1.5 -10 .5 12.5 .5 -5 0 -2.5 1 0 .5 -.5 0 6 2 -14 .5 1.5 1.5 10 1 -1 0 -13 1.5 5 1 -.5 1 19 2 -18 0 -2 1 19 3 -15.5 1 6 2 -.5 .5 -9 23.5 6 1 3.5 11.5 28 27 -10.5" fill="none" stroke="none" marker-start="url(#pb)" marker-mid="url(#pb)" marker-end="url(#pb)"/>
<path d="M159.5 961l7.5 .5 1.5 -3.5 .5 1 0 4 .5 -18 .5 9 .5 11 .5 5 0 -15 .5 -1 0 -2 1 6.5 0 -10.5 .5 9 0 -13.5 .5 20 .5 -18.5 1 19 0 -7.5 0 -7.5 0 1 .5 13.5 0 -5.5 2.5 -2.5 1 -9.5 0 13.5 .5 -4 0 2 .5 -4.5 0 10 .5 6 .5 -6.5 0 1 .5 -2 1 -14.5 .5 5 0 1.5 0 13.5 .5 -16.5 .5 12 .5 -5.5 .5 8.5 .5 -16.5 0 .5 0 7 .5 5.5 0 -1 0 -1.5 0 -2.5 1 -5.5 .5 13 0 -5 0 -6 0 15.5 1.5 -7 .5 1 0 -15.5 0 6.5 1 6.5 0 -9.5 0 6.5 0 -14.5 .5 11 .5 -4 .5 15.5 .5 -.5 .5 -3.5 0 5 .5 -10 .5 -6 .5 1 .5 -3 0 17.5 1.5 -17 0 -1.5 .5 6 1 14 0 -6 0 -3 1.5 -3.5 .5 0 0 1 .5 6.5 .5 -13.5 0 7 .5 2.5 .5 8 1 0 .5 -4.5 1 5.5 0 -10.5 0 4 1.5 -13 0 15.5 1 -5 0 6 .5 -6.5 0 -9 1 7.5 1 7.5 1.5 4.5 0 -9 .5 -4 0 -1.5 .5 -5.5 .5 -1.5 .5 1 1 9 0 -7 .5 1.5 0 10 .5 -7 1 2.5 .5 -2.5 0 -1.5 0 5 .5 5.5 .5 1.5 .5 4.5 .5 -8.5 .5 3.5 0 1 .5 -12.5 0 -1.5 .5 11 0 -7 0 5 0 2 0 -3 .5 -5 0 3 .5 -1.5 .5 -11 0 10.5 .5 4 .5 -11 0 7 .5 7 1 .5 .5 0 .5 -11 0 3 .5 -3 1.5 -.5 0 14 .5 -13 .5 -1 0 16 1 -19 0 7.5 .5 3 .5 5.5 .5 -11.5 0 4 .5 4.5 0 -7.5 .5 10 0 -1 0 -.5 0 4.5 0 -12 0 7.5 .5 .5 0 -3 1 -8 .5 -7.5 .5 14 0 8 .5 -4 .5 -13 0 22.5 .5 -10 0 -13 .5 0 1 17 .5 -19 0 4.5 .5 2.5 1 7.5 0 -.5 .5 -3 .5 7.5 .5 -10 0 -1.5 1 -4 .5 5.5 0 -6 0 4 1 -.5 .5 9.5 0 -5 0 2.5 1 -8 0 15.5 0 -13.5 .5 3.5 0 -5 .5 3.5 0 -2.5 .5 .5 .5 -3.5 0 -6.5 .5 5.5 1 4.5 .5 3.5 1.5 -3 0 12.5 .5 1.5 .5 -6 0 -13.5 0 8.5 0 -6.5 0 8.5 0 1.5 .5 -2.5 .5 -1.5 0 8.5 0 -6.5 .5 -10.5 0 12.5 0 2.5 0 -15.5 .5 11.5 0 -8 0 11.5 0 -8 .5 4.5 0 5.5 .5 -12 .5 10 0 -8 0 -.5 .5 -1 0 5.5 0 -7 0 -7 .5 14.5 0 -10.5 0 6 .5 -7 .5 1 0 9.5 0 6 0 -7 0 -12 0 26 0 -17 .5 12.5 0 -4 .5 4.5 0 -3.5 0 -2.5 0 -3.5 0 7.5 0 -12 0 -5.5 .5 25 0 -2 0 -17 .5 4.5 0 -9 0 14.5 0 6.5 0 -16 0 -4 .5 19 0 -7.5 .5 -8 0 0 0 4 1 -1.5 0 7.5 0 -18.5 .5 4 0 8 .5 1.5 0 -7.5 0 0 0 5 0 -6 0 6 .5 -7 .5 5 0 3.5 .5 -8.5 0 9 .5 11.5 0 -26.5 .5 18.5 0 10 0 -6.5 0 -8 .5 -2.5 0 8 0 -9 0 9.5 1.5 -6.5 0 16.5 .5 -14.5 0 -13 .5 12.5 0 -6.5 0 -4 .5 14.5 0 -16.5 .5 5.5 0 4 .5 6.5 .5 1.5 0 0 0 -1.5 .5 2.5 0 -10 .5 4.5 .5 8.5 0 -2.5 .5 -15 1.5 18.5 .5 1 0 -15.5 0 -1.5 0 -10.5 .5 14.5 .5 5 1 -7.5 0 7 0 -1.5 0 -2 0 5 .5 .5 .5 3.5 .5 -7 0 -10 1.5 4 0 4 .5 0 0 -4.5 1 0 0 -6.5 0 14.5 1 10 0 -23 .5 7.5 .5 9.5 0 -7.5 0 15.5 .5 -14 .5 -14.5 .5 9.5 .5 3 0 4.5 1 1 0 -1.5 .5 -5 0 14.5 0 .5 .5 -4.5 0 -10 0 -4.5 0 15.5 .5 2 0 -12.5 .5 3 0 4 .5 1.5 0 -8.5 0 6 .5 -9 0 7 0 -15.5 .5 5.5 0 11.5 0 .5 0 -3 .5 -2.5 .5 6.5 0 -15 0 20 0 -.5 .5 -27 .5 15 0 8 .5 1 0 -12.5 0 1 .5 2 0 4.5 0 -1 0 10.5 0 -18.5 .5 3 .5 -13.5 0 3 .5 23 0 -23.5 .5 19 0 4.5 0 -5.5 .5 -6 0 -3.5 .5 16 0 -8.5 .5 3.5 1 -3 0 3 .5 -17 0 9.5 0 5 .5 -7.5 .5 1 .5 -.5 0 3.5 .5 6 0 -9.5 .5 1 .5 .5 0 .5 0 2 0 8.5 0 -20 .5 17 0 2.5 .5 -9 0 -5.5 .5 .5 0 10 .5 8 0 1.5 0 -16.5 0 -8.5 0 17.5 0 -13.5 .5 10.5 .5 -10.5 .5 14.5 .5 -23 0 16 .5 16.5 1 -29 0 3.5 0 25.5 .5 -18.5 0 14 0 -5.5 .5 -14 1 -9 .5 14 0 9 0 8.5 .5 -13 0 -3 .5 4 .5 -6.5 0 1.5 1 2 0 6.5 1 -11.5 .5 15 .5 -8 .5 -3 0 6 1 -21.5 0 31.5 1 -12 0 2 0 -4 .5 3 0 -15 .5 8.5 .5 2 0 4.5 .5 -6 0 -.5 0 -1.5 0 -12.5 .5 11 1 2.5 0 13 .5 -6.5 0 2 .5 -6.5 0 -9.5 .5 7.5 0 1 1 8.5 .5 4.5 .5 -8 .5 1.5 0 -7.5 0 -3 1 8.5 0 -1 .5 -10.5 0 25 0 -18 0 8.5 0 4 1 -10 0 -.5 0 8 .5 -1.5 0 -14 0 10.5 0 -8 .5 -3 0 .5 1 5.5 0 1.5 0 9.5 0 -2.5 0 -15.5 .5 11.5 0 2.5 0 -6 1 1 0 -8.5 0 17.5 .5 -20.5 0 17 .5 -2.5 0 -2 .5 -12.5 0 25.5 0 -25.5 .5 10.5 0 8 .5 1 .5 -20.5 0 22 .5 -23.5 .5 16.5 .5 -17 0 22 0 -13 .5 5.5 0 -1.5 0 2.5 0 3.5 .5 -20.5 0 20.5 0 4 0 -13.5 .5 17 0 -20.5 0 13 0 -.5 .5 -9 0 7 .5 -12 .5 8.5 0 7 0 -10.5 .5 -8.5 0 7.5 .5 12 0 .5 .5 5 0 -4.5 .5 -12.5 .5 -8.5 .5 16.5 0 -9.5 .5 -6.5 0 9.5 .5 -12 0 13 .5 .5 0 6 .5 -3 0 -6.5 0 -4 1 11 0 -11.5 .5 17.5 0 -20.5 0 15 1 1 .5 -8 0 4.5 .5 -3 0 2.5 .5 17 0 -19 0 6 0 -13.5 .5 9 0 -8 0 -2.5 .5 9 0 -4.5 0 -3 .5 15.5 0 1 .5 -19.5 0 21 .5 -10 1 3 0 7.5 .5 -1.5 0 -12 1 7 0 -12 .5 14 0 -5 .5 7.5 .5 5 0 -11 1 6.5 .5 -17.5 0 18.5 0 -9 .5 1.5 0 7.5 0 -10.5 0 5.5 .5 -5.5 .5 17 0 -22.5 0 -1 0 15.5 0 -11 .5 5.5 0 -16.5 0 23.5 .5 9.5 0 -21 0 7 0 -4 .5 14 .5 -19.5 0 12.5 0 -7 0 4.5 .5 -15 0 16 0 -9 0 -1.5 0 -5.5 1 16.5 0 -4 .5 5.5 0 -6 0 8.5 0 -6.5 0 12.5 .5 -14 0 -5.5 0 -8 .5 10 0 5.5 0 -2.5 .5 2 0 -3.5 0 9.5 .5 -8 1.5 1.5 0 6 0 -11 1 -.5 0 -.5 0 -6 0 4.5 0 14.5 1 -5 0 -3 .5 12.5 0 -28 0 5 .5 25 0 -6 .5 3.5 0 -16 0 5 0 4.5 .5 -11 0 6.5 .5 -5 0 3.5 .5 6 .5 6.5 0 -11 0 9.5 0 -8 0 -4.5 .5 -7.5 0 7.5 0 6 0 11 .5 -14.5 0 7 0 -7 0 4 .5 2 0 -1.5 .5 -5 .5 9 0 -12 0 3 .5 2 0 -12 0 14 .5 -2.5 1 3 0 -21 0 11 1 -3.5 .5 9 0 6.5 0 -8.5 .5 -10.5 0 4 0 2.5 .5 8 0 -12 .5 6.5 .5 -1.5 0 -5 .5 -1 0 4.5 .5 3 0 11 0 -7 1 -3 1 -5.5 .5 0 0 -3 .5 20 .5 2 0 -18 .5 9.5 0 -1.5 .5 -8.5 0 11 .5 4.5 0 -14.5 .5 20.5 0 -6 0 -15.5 .5 6 .5 -13 0 6 0 5 0 13 .5 -1 0 -13 .5 12 .5 -10.5 0 -7 .5 9 0 -7 .5 -3.5 0 6 0 -9 .5 15 0 8.5 0 -16 .5 9.5 0 -7 0 11.5 0 -2.5 0 -7.5 .5 -10.5 .5 12.5 0 9 .5 -13.5 0 4.5 .5 -1.5 1 3 0 -5 .5 8 0 -3.5 .5 -5.5 0 11.5 .5 -16.5 .5 22 0 -9.5 0 -3 1 10.5 .5 -3 0 -10 .5 -3 0 17.5 .5 2 .5 -10 0 5.5 0 -25 2 15 0 -9 0 5 .5 0 0 11.5 .5 2.5 .5 -11 1.5 8 .5 -.5 0 -2.5 .5 -7 0 1 .5 -8.5 0 13.5 0 7.5 .5 -24 .5 26 0 -3 0 -14.5 0 2 0 5 .5 -4 1 0 0 14 .5 1 0 -11 .5 9.5 0 -11 1 3 .5 -1 0 -4 .5 -4 .5 -1 0 13 .5 -11.5 0 5.5 1 13 .5 -14.5 0 1 .5 -.5 .5 -1.5 0 9 1.5 -7 1 -8 1 20.5 .5 -3 0 -19.5 0 22 1 1.5 1.5 -23.5 .5 8.5 1 11.5 .5 -1.5 0 2 1 -11 0 9 .5 -4.5 1 -12 1 -3 .5 10 1.5 2.5 .5 -.5 1.5 0 0 4 .5 7 .5 -17.5 1 6.5 .5 8 1 2.5 2 -15 .5 13 1 -8.5 0 -4.5 .5 3 1.5 -5 .5 8.5 .5 7 .5 -9 1 14.5 .5 -23 0 7.5 .5 -2 .5 13.5 .5 -12.5 .5 -11.5 .5 8 .5 2 .5 2 1 12 .5 -25 0 8 0 11 .5 -9.5 .5 5.5 0 0 0 -2 1 -9 0 -3 .5 10.5 0 10 .5 -4 .5 -3.5 0 -2.5 .5 1.5 1 4 .5 -1.5 0 4.5 0 -7.5 0 -1 0 5.5 1.5 -4.5 0 -11.5 1 21 0 -5 0 -.5 0 -2 .5 14.5 .5 -24.5 1 10 1.5 -4.5 .5 1.5 0 -3.5 .5 6.5 .5 3.5 0 -17 1 14 0 -6 1 16.5 1.5 -3.5 .5 0 1 -14.5 1 0 .5 8 .5 7 6 -3.5 6.5 -4.5" fill="none" stroke="none" marker-start="url(#pk)" marker-mid="url(#pk)" marker-end="url(#pk)"/>
<g filter="url(#bl)"><g><ellipse cx="324.9" cy="958.5" rx="68.0" ry="14.8"/><rect x="261.6" y="944.6" width="126.6" height="27.7" rx="13.8"/></g></g>
</g>
<g clip-path="url(#c9)">
<ellipse cx="836.3" cy="932.8" rx="18.1" ry="7.9" fill="#b53cb8" fill-opacity="0.25" filter="url(#bl)"/>
<ellipse cx="843.1" cy="982.2" rx="22.7" ry="9.6" fill="#4585c4" fill-opacity="0.29" filter="url(#bl)"/>
<path d="M682.5 879l6 11.5 1 -1 1.5 13 8.5 -4.5 5 -2 3 -12 .5 23 1.5 14.5 2 -5.5 2 4.5 2.5 -45 0 43 .5 -2 1.5 -28.5 5 -12 2.5 39.5 .5 -32.5 .5 33 2 -58 2.5 33.5 .5 1.5 .5 19 1 2.5 1.5 -17.5 0 13.5 1.5 -8 0 10 2 -19.5 .5 -1.5 3 -13 0 9 1.5 .5 0 23 .5 -10 0 -1.5 1 9 .5 6 1 -25.5 0 1.5 1 7 .5 3.5 2 -24 1 33 .5 6.5 2 -19 0 6 .5 5.5 2.5 -27.5 1 40.5 .5 -19 0 10.5 0 -37 1.5 34.5 3 -22.5 1.5 21.5 3 5.5 .5 -43 3 21.5 2.5 22.5 .5 -7 2 -14.5 3.5 -4.5 1 6 0 3 1 19.5 .5 -25 10 -7 3 34 1 -21.5 1.5 -1 1 22.5 2 -43.5 1.5 48.5 2.5 3.5 3.5 8.5 2 .5 .5 .5 .5 2 3 -23.5 1 7.5 2 12 1 -16 .5 4 .5 4.5 0 2.5 1 -1 1 5.5 0 -13 0 14 1 -7.5 0 2 2 4.5 .5 0 0 5.5 1 -3.5 .5 -.5 0 -17.5 1 1.5 0 9.5 1 -8.5 3 13.5 2 -19.5 0 24 .5 -8 1 -2.5 .5 -3 1.5 7.5 .5 3 .5 -6 0 -8.5 2.5 10 1 -6.5 1.5 13 .5 -.5 0 -8 .5 4.5 0 6 .5 -18.5 2.5 4.5 7.5 5.5 2.5 -16 8.5 24.5 2 -32.5 .5 32 3 -3 1 -12 2 18 0 -45 4.5 38.5 1.5 -1.5 .5 -7 7 -3 1.5 13.5 .5 1 .5 2 7.5 .5 1 -2.5 3.5 3 2.5 -11.5 6.5 -6.5 5 10 5.5 10 1.5 -6.5 5 4" fill="none" stroke="none" marker-start="url(#pm)" marker-mid="url(#pm)" marker-end="url(#pm)"/>
<path d="M743 1004.5l4.5 14 5.5 -20 12 23 17.5 22 10.5 -11 11 3 3.5 3 4 -33 2 -18.5 4.5 2.5 .5 -9 .5 10.5 0 9 2.5 28 1 -37 2.5 22 1.5 -37 .5 32 0 -8.5 .5 -7 0 22.5 3.5 -12.5 2.5 -29.5 0 0 1 24 0 -14.5 .5 55.5 .5 -44.5 .5 1.5 1 5.5 0 34 1 -6 .5 -54 1.5 8 .5 -4.5 1 5 .5 16.5 1 -8.5 1 45 1 -27.5 1 24 0 -49.5 .5 -8 .5 7 .5 28.5 1 -21.5 .5 -9.5 .5 -6 0 44.5 .5 -31 .5 13.5 0 1.5 0 -1.5 .5 -19 0 -6.5 0 6 1.5 .5 0 17.5 0 -8 0 -12 .5 28.5 0 -34 2 28.5 0 2 0 -6.5 1 -17.5 0 -1.5 .5 1 0 1.5 .5 10 .5 33.5 .5 -52 1 7 0 -8.5 0 12 0 -3 0 -8 1 8 0 -6 .5 29.5 .5 25 0 -26.5 0 24.5 0 -31.5 .5 -.5 .5 8.5 0 -32 .5 2 .5 25.5 1 -1 .5 53 1 -54.5 0 -26.5 0 5 .5 29 0 .5 0 -27.5 1 17.5 0 -14 .5 -2 .5 -6 1 26 0 -18.5 .5 -7 .5 23.5 .5 13.5 0 -6.5 .5 -16 .5 -8 0 28 0 -10.5 0 15.5 .5 0 0 -34 .5 -6 1 27.5 0 -20 0 10 1 2.5 0 -12.5 1 -6 .5 23 .5 12.5 1 -27.5 0 -2 0 -5 1 9.5 .5 15 1 -22 0 19 .5 -5.5 0 13.5 0 28.5 .5 -32.5 0 39 1 -58.5 4 -9 0 31.5 2 -24.5 1.5 4 0 -5.5 3 12 .5 -11.5 3 22 4.5 -23 7.5 2 7 9 23.5 13.5 1 4.5 0 -16 .5 -7 1 8 2.5 -4.5 3 5.5 3 52.5 1 -43 .5 -16.5 1.5 7.5 7 -2 .5 -4.5" fill="none" stroke="none" marker-start="url(#pb)" marker-mid="url(#pb)" marker-end="url(#pb)"/>
<path d="M658 947l0 21 1 -22 0 2 .5 13.5 0 5.5 .5 -19 1 -1 2 9 0 -9.5 0 6 1 9 .5 4 0 -10.5 .5 -7.5 .5 9 0 -10 0 2 .5 4.5 .5 -6 0 7 0 2 0 -2.5 .5 0 0 1 0 -6 0 7.5 1 12 .5 -20.5 0 2.5 .5 10 0 -7.5 .5 20 .5 -24.5 0 5.5 1 -6.5 1 14 0 3 0 -17 .5 14 0 -4.5 .5 5.5 0 -17.5 .5 13 .5 1 0 -.5 .5 -10 0 -4.5 0 2.5 .5 14 0 .5 0 -5.5 1 -6.5 1 4.5 0 -6.5 0 8.5 .5 -7.5 0 20.5 0 -9 0 -13 1 .5 0 1 .5 9.5 0 5 .5 -13 .5 10.5 0 -10 0 16.5 .5 -12 .5 1 .5 -9.5 1 18.5 .5 -8 0 12.5 .5 -5.5 1 -1 .5 -12 1 10.5 1 -9.5 1 6.5 0 7.5 1 -3.5 0 6 0 -7.5 0 -4.5 .5 4 0 1.5 0 -11.5 1 3 .5 2.5 0 9 0 -14 .5 7 0 -3.5 .5 2 0 2.5 .5 6.5 0 3.5 0 -6 0 .5 .5 -9.5 .5 10 .5 -13.5 1 14.5 .5 7.5 0 -13 0 4.5 .5 -.5 0 -5 1 10.5 2 -4.5 0 4.5 2 -25 0 28 0 -14 1 7 .5 -6 0 13 .5 -4 0 -1.5 .5 6 .5 -16 0 1 .5 3.5 0 -10 0 12.5 .5 -2 0 -10.5 0 17 1.5 -5 0 1 0 -2 0 -9 .5 8.5 .5 -8 .5 19 0 -13.5 .5 4 .5 4.5 0 0 0 -3 .5 3 0 1 1 -15.5 .5 16.5 .5 -4.5 0 -2 .5 7.5 0 -2 .5 -21 0 13 0 -2.5 0 -11.5 .5 14 0 -14 .5 26 0 -16.5 0 6.5 0 5 .5 -7 0 -13 .5 6.5 .5 5 .5 -5.5 .5 10 0 -13.5 1 7.5 .5 -1.5 1.5 7.5 0 2.5 1.5 -9.5 .5 9 0 -10 0 -9 .5 15 .5 4.5 0 -8 .5 -1 .5 13.5 0 -19.5 .5 4.5 .5 14.5 1 -6 .5 -5.5 .5 -2 .5 -7 0 9.5 1 -2 .5 -3 .5 12 2 -10.5 0 -4.5 .5 11 .5 -3 0 .5 0 3.5 .5 -11.5 0 2.5 .5 6.5 0 2.5 0 -1 .5 -9.5 .5 -6 .5 9 1 -5.5 0 4 1.5 10.5 1 -8.5 .5 -5.5 0 1 .5 .5 .5 19.5 .5 -8.5 .5 -4.5 .5 10 0 -11 .5 13 .5 -4 1 -8 0 -6.5 1.5 -1.5 1 4 0 12.5 1 -10 0 3.5 0 8.5 .5 -5.5 0 7 .5 -16 .5 7.5 .5 -6.5 .5 -1 0 2 0 12 .5 -5 1.5 -9.5 0 10 .5 -3.5 0 -10.5 .5 -.5 1 11.5 0 -4.5 0 -2.5 0 5 1 -8 0 12 .5 -4.5 .5 -9.5 0 16.5 0 .5 .5 2 1 -8.5 0 3 0 -1 .5 3.5 .5 4 1 -19.5 0 16.5 0 -15 .5 7 .5 7 0 -8 .5 5 0 3 0 -5 0 2 0 -13.5 .5 1 0 8.5 .5 3 0 -3.5 .5 6 0 9 .5 -6 .5 -2 .5 -15 .5 13 .5 -8.5 0 -7 1 13 0 -5.5 .5 1 .5 7.5 .5 2.5 0 -15 0 1.5 0 6.5 .5 -4.5 .5 1 0 -3.5 0 5 .5 -.5 0 -4 .5 11 .5 5 0 -1 .5 -22 0 .5 .5 28 0 -23.5 .5 4.5 0 5.5 .5 -3 .5 0 0 -9.5 0 8 0 6.5 .5 -14 0 12 0 -7 0 7.5 0 3 0 -10 0 -.5 1 13.5 0 1.5 .5 -8 0 9 0 -10 .5 9 0 -22 0 6.5 .5 .5 1 -8 0 5 0 -7 0 17 0 -3.5 .5 -13.5 0 30.5 .5 -13.5 .5 -1.5 0 -9 .5 9.5 0 7 .5 -7 0 3 .5 -.5 .5 -5 0 -8.5 .5 18.5 .5 -7.5 .5 5 .5 -1.5 .5 -14 0 26.5 0 -26.5 .5 8 0 -2 .5 -2 .5 17 0 -11 1 -4 0 -1.5 0 -2 0 7 0 -1 0 0 .5 10.5 .5 1.5 .5 -8.5 0 -6.5 0 6 0 15.5 .5 -10.5 .5 -15 0 17 0 -.5 .5 -4.5 .5 6.5 0 -9 .5 8.5 0 -8 0 -8.5 .5 18.5 .5 -14 0 -8.5 0 19 .5 2 0 -15.5 0 11 0 -13 0 5.5 .5 -5.5 1 -3 1.5 .5 0 14.5 0 -1.5 .5 -.5 0 11.5 0 0 0 -16 0 3 .5 1 .5 -.5 0 -16 .5 22 .5 -5 .5 -16 1 10 0 4.5 0 14.5 1 -18 .5 7 1 -10 1 9 0 -10 .5 9.5 0 -10 0 1.5 .5 -.5 0 -1.5 1 -1 0 -.5 .5 15 0 -8.5 0 .5 0 -2.5 0 8.5 .5 -14 0 4.5 .5 3 0 9 0 -2 0 -8 0 9 .5 -1 .5 -1.5 0 -11 .5 16.5 0 -9.5 .5 1.5 0 -4.5 .5 15.5 .5 -20.5 0 8.5 .5 -9.5 0 14.5 .5 -13 .5 11.5 0 -7 .5 10 0 -12.5 .5 -6 0 .5 0 14.5 0 -10.5 0 -.5 .5 .5 .5 -3 .5 15 .5 -5 0 4 .5 2 0 -12.5 0 9.5 0 -18.5 0 16.5 0 9 .5 3 0 -1.5 .5 4 .5 -5.5 0 -8.5 0 -6.5 .5 13 0 7 0 -9.5 0 -13.5 0 17.5 1 -6.5 0 -8 .5 -9.5 0 15.5 0 1.5 .5 2.5 .5 3 0 -10.5 0 4 0 -9 0 5.5 .5 -5 0 12.5 0 -11 0 -.5 .5 11.5 0 -4 0 -17 1 21 0 -.5 .5 2.5 .5 -15 0 13.5 0 -4 .5 -6.5 0 -3 0 -5 .5 23 1 5 0 -17.5 0 7.5 0 -2.5 0 -10.5 0 13.5 0 -1 .5 -1 0 -6 .5 16 0 -10.5 .5 4 0 3 .5 7 0 -25.5 .5 -3.5 0 13.5 0 -7.5 .5 15.5 0 -15.5 .5 -2.5 0 12 .5 -8 .5 -2 0 3.5 0 2 .5 -9 .5 6 0 .5 .5 2.5 0 9 .5 8.5 0 -25.5 .5 5 0 -5 .5 -6 0 13 0 -1.5 1 12.5 .5 -2.5 .5 5 0 -25.5 1 19 1 2 0 1 .5 0 0 -4.5 .5 -15.5 .5 8.5 .5 7 .5 11 0 -23 0 8.5 0 -3 .5 -2 1.5 -4.5 0 6.5 0 1 1 4.5 0 6 .5 1.5 0 -10 0 3.5 1 -4 .5 2 0 7 0 -21.5 .5 23.5 0 2.5 .5 -17.5 0 10.5 0 -11 0 2.5 0 4.5 0 -5.5 .5 9 0 4.5 0 -6.5 0 -2 0 -2.5 0 9 .5 -4 0 -10.5 0 5 .5 8.5 0 -14 .5 9 0 -12 0 11 .5 14.5 0 -29.5 0 9.5 0 -1.5 0 -6.5 0 11.5 .5 -8 0 2.5 0 12.5 1.5 -3.5 0 -16 .5 13 0 -2.5 0 3 .5 1 .5 3.5 0 -4.5 0 16 .5 -5.5 0 -12.5 0 -3 0 2.5 .5 3 0 -1 .5 -1.5 0 8.5 0 -17.5 0 5 1 -.5 0 10 0 4 .5 1.5 0 5 1 -8 .5 -19.5 1 7 0 12.5 0 1 .5 -22.5 .5 19 0 -1.5 0 -2.5 .5 1 0 -.5 0 12.5 .5 -19 0 13.5 0 -14.5 0 1 .5 -2.5 0 24.5 0 -11.5 .5 -10 0 14.5 0 -7.5 .5 4.5 0 1.5 .5 -18.5 0 16 .5 -9 0 10 1 -.5 0 -8.5 0 9.5 .5 7.5 0 -12.5 0 13 0 -16 .5 12 0 -18.5 0 19 .5 -8.5 0 -4.5 .5 5 .5 -5.5 0 -3 .5 1.5 0 11 1 -8.5 0 -1 0 16 .5 -6.5 0 -10 0 -7.5 .5 2.5 0 20.5 0 -12.5 .5 -8.5 0 19.5 0 -5 0 2.5 0 -3.5 .5 -12 .5 13.5 0 -19 1 19 0 1 .5 -6 .5 -1 1 9 0 -11 .5 .5 0 -7 .5 13.5 0 -3 0 6.5 0 -6 1.5 2 .5 -7 0 8.5 .5 -2.5 0 9.5 1 -10.5 .5 -9.5 0 14.5 .5 -15 .5 10 0 5 .5 -4.5 1 -5.5 0 17.5 .5 -15 0 .5 0 8.5 .5 -14 0 -4 .5 23 0 -7.5 .5 -8 .5 -9.5 0 1.5 0 13.5 .5 6.5 .5 .5 0 -22 .5 4.5 .5 7 0 -1 0 .5 .5 1 .5 -1.5 .5 6.5 0 -16 .5 12 0 5 .5 3.5 0 -4.5 0 1 0 -17 .5 10 .5 3.5 .5 -.5 1 5.5 0 1 0 -19 0 19 .5 -13 .5 -5 .5 23.5 .5 -18 1 -6.5 0 8 0 .5 0 14.5 0 -11.5 .5 -17 0 21.5 0 -5.5 0 -8.5 .5 1.5 .5 5 .5 6 0 3.5 .5 -17 .5 8 0 5 .5 5.5 0 1 .5 3 0 -6.5 0 -2.5 .5 -8 0 5 .5 -11 0 25 0 -14 .5 3.5 1 -6 0 1 .5 -1 .5 -1.5 0 11 0 -6.5 1 7.5 0 -17 0 11 1 -3 1 -13 0 28.5 .5 -18 .5 6 0 -.5 .5 10 .5 -21 0 14.5 0 -11 0 -3.5 .5 4.5 0 9 .5 -22 .5 26 .5 -23.5 0 20 .5 3 0 -10.5 .5 9.5 .5 -2.5 1 -8 0 16.5 0 -20 0 7.5 .5 -3.5 0 -11 0 5.5 0 19 .5 -8 .5 -3.5 1 -6 .5 -5 .5 6 0 18.5 1 -15 1 -1.5 .5 6 1 -4 1 0 .5 -1 .5 16.5 0 -18.5 0 6 .5 -16.5 0 25.5 .5 -13.5 .5 10 .5 4.5 0 -1 0 -3 .5 -4 0 -.5 0 -2 1 1 0 7 .5 -19.5 0 17.5 0 -12.5 .5 16 0 -10 1.5 -2 0 -9 0 8 .5 1 0 3 .5 -4.5 0 -1 .5 .5 0 12.5 .5 -7.5 .5 6.5 .5 -10 0 5 0 2 .5 -12.5 .5 .5 1 15 .5 -9 .5 5 0 -2.5 .5 -15.5 0 6.5 .5 -1 .5 9.5 0 -1 0 2 1.5 -8 0 16 .5 -13.5 .5 14.5 .5 -15 0 -6 .5 6.5 0 -3 .5 11.5 0 -12 .5 -6 0 5.5 .5 -3 1.5 16.5 0 -8 .5 -3 1.5 13 .5 -10 2.5 -11.5 0 2.5 1 14 .5 .5 0 5.5 .5 -17 .5 11.5 .5 -2 .5 5.5 0 -14.5 1.5 10 0 -5 .5 -6.5 2 4 .5 -2.5 .5 .5 .5 14.5 .5 -18.5 1.5 11.5 1 -11 0 0 0 14 1 -5.5 .5 -4.5 2 -7 4.5 21.5 1 -20 6.5 -2.5 57 18 55.5 -8.5 20.5 -6.5" fill="none" stroke="none" marker-start="url(#pk)" marker-mid="url(#pk)" marker-end="url(#pk)"/>
<g filter="url(#bl)"><g transform="rotate(2.5 826.1 957.8)"><ellipse cx="826.1" cy="957.8" rx="76.0" ry="14.6"/><rect x="755.5" y="944.1" width="141.3" height="27.3" rx="13.7"/></g></g>
</g>
<g clip-path="url(#c10)">
<ellipse cx="1328.8" cy="927.9" rx="56.7" ry="16.4" fill="#b53cb8" fill-opacity="0.42" filter="url(#bl)"/>
<ellipse cx="1328.8" cy="978.9" rx="45.4" ry="11.9" fill="#4585c4" fill-opacity="0.38" filter="url(#bl)"/>
<path d="M1153.5 902.5l8.5 -18 4.5 -1 4 38 0 -27.5 2 21.5 0 -36 1 38.5 5 6.5 .5 -42.5 .5 24 2.5 -24.5 .5 14 1 14.5 1 -6.5 1 -4 1.5 19 2 -40 1.5 19.5 2.5 26 .5 1.5 .5 -4 .5 -10 0 -1.5 .5 -24.5 3 30.5 4.5 7 .5 -6 0 6.5 0 -24.5 1 25 0 -32.5 1 11.5 2 -63.5 0 74.5 .5 -4.5 .5 14.5 0 -21.5 .5 -2 0 -20 0 6 .5 31.5 0 -11 0 15.5 .5 -43 4 33.5 1 -7.5 1.5 -5.5 0 8.5 1 10.5 0 -3.5 2 -15 1.5 -7.5 8 -16 2.5 34 0 -11 2 -22 5 31.5 0 11.5 .5 -7 1.5 -38 0 43 .5 -17.5 .5 -55 .5 15 1.5 46.5 1.5 -.5 .5 -26 .5 21.5 0 -28 1.5 29.5 .5 5.5 .5 10 0 -6 0 11.5 1 -27.5 2.5 -8.5 2 4.5 4 9.5 .5 4 0 1 .5 -6 2 16.5 .5 -47 1 35 0 32 0 -46.5 1 49.5 .5 -19.5 2 17 .5 -39 1.5 -25 1 47 0 -3.5 0 8 2 -9 1 -6.5 3 28 2 -10 0 -18.5 0 -6 0 29.5 5 8.5 .5 -38 2.5 32 0 -65 0 60 1 10 .5 -2.5 0 -15.5 .5 10.5 1.5 -2 .5 -19.5 .5 17.5 1.5 6 0 -52 1 27.5 1 23.5 .5 -22 0 28 .5 -7.5 .5 -21 .5 -3.5 0 34.5 .5 -19.5 1 13 0 -17.5 0 -2 1 -66.5 .5 80 .5 -.5 .5 9.5 0 -9.5 .5 -21.5 1 19.5 .5 12 .5 -7 .5 -10.5 0 18 .5 -24.5 0 19.5 2 -16.5 0 -8.5 .5 21.5 0 6 .5 -.5 0 -4.5 0 -15.5 .5 23.5 0 -25.5 0 10.5 1 -13.5 1 -26.5 .5 44 0 -23 .5 24 .5 5 1.5 -49 .5 54 0 -15 .5 14 1 -6.5 .5 -21.5 .5 17 .5 12.5 1 -2.5 0 0 0 -2.5 .5 -42.5 .5 31.5 0 .5 .5 -11.5 0 15.5 .5 11 .5 -1.5 .5 -25.5 0 1.5 .5 21 .5 -24.5 0 -37.5 0 54.5 1 -11 0 -35 .5 29 0 15 0 -8 .5 -50 0 49 0 22.5 .5 -53 0 41.5 .5 -15.5 .5 21.5 0 -10 0 15.5 .5 -20 0 -7 0 1.5 1 27.5 1 -28 .5 26.5 0 -33.5 .5 14 0 10.5 0 -25.5 .5 3 0 -18.5 0 44.5 .5 -42.5 .5 -14.5 0 55 0 5.5 0 -59.5 0 43.5 0 13.5 .5 0 0 -21.5 0 4 .5 9.5 0 1 0 -8.5 0 12 0 -1 .5 -47.5 0 -23 .5 57.5 0 -4.5 .5 12.5 .5 14 .5 -6.5 1 -67.5 1 54.5 0 -55.5 .5 18.5 0 53 .5 3.5 1.5 -1.5 0 -56 .5 32 .5 26 .5 -15.5 0 6.5 .5 -17.5 0 -3 0 .5 .5 8.5 0 -49.5 0 69 1.5 -11.5 .5 14 .5 -39 0 30.5 .5 3.5 .5 -28.5 .5 26 .5 -34 0 17 0 7.5 0 -25 .5 30.5 0 12.5 0 -33 0 -12 .5 17 0 3 1 22 0 -24 0 21.5 0 -14.5 0 8 .5 -19.5 .5 10.5 .5 10 0 -7.5 .5 12.5 1 -8 0 -13 1 15 .5 2.5 .5 -16 .5 22.5 .5 -21 .5 7 0 -3.5 .5 -37.5 0 31.5 0 -3 1 4 .5 11.5 0 -24.5 0 30.5 0 -15.5 .5 16 0 -21.5 .5 22.5 .5 2 0 -30.5 .5 5.5 0 -55 0 61.5 0 13.5 .5 3.5 .5 -16 .5 14.5 0 -7.5 .5 -18.5 .5 25 0 -54.5 .5 62 0 -36 .5 4 .5 -32.5 .5 53 .5 -23.5 .5 5 .5 28 .5 -16.5 0 0 .5 15 .5 -.5 .5 -.5 .5 .5 2 -74.5 0 41.5 1 -47 .5 82 0 -5.5 1 4 .5 -11.5 .5 -51.5 .5 37.5 1 -16 1 29.5 .5 -10 .5 3.5 1 16 0 -2 0 5.5 .5 -27 1 -43 1 41 0 12.5 1.5 16 1.5 -14.5 0 -19.5 .5 5.5 1.5 17.5 1 -.5 1.5 -67 1 64 1.5 -38 1.5 54.5 .5 -34.5 .5 -13 0 25.5 1 -11.5 .5 18 1.5 -16.5 2 31.5 0 -10.5 0 7 1.5 -11.5 0 14.5 1 -20.5 .5 15 .5 -36.5 3.5 39.5 2 -19 0 -4 0 -5.5 .5 -8.5 1 9 .5 -51.5 1.5 12.5 16 38 6.5 -10 6 22 0 -7 .5 -10.5 6 28 1.5 -7 1.5 -9.5 1 8.5 1.5 12 3 -16.5 0 -20 2 16.5 2.5 20.5 2.5 -19 .5 19 62.5 -4 55.5 -14.5 20.5 7.5" fill="none" stroke="none" marker-start="url(#pm)" marker-mid="url(#pm)" marker-end="url(#pm)"/>
<path d="M1156.5 1021.5l5 -31.5 4.5 23 0 8 1.5 -11 1 -4 4 -20.5 0 30 4.5 -3 .5 -26 .5 29 1 -4.5 5 -7.5 0 -1.5 1.5 15 0 -2.5 .5 -24.5 .5 11 .5 -15.5 .5 37.5 0 -34.5 .5 19.5 1 -5.5 2.5 5.5 0 14.5 .5 -19 .5 15 .5 -29 .5 -5 2 28 1 -20 1.5 10 0 0 2.5 -17 .5 3.5 1.5 24 .5 -19 1.5 -8 1.5 36.5 0 -35.5 .5 16.5 .5 -7.5 3.5 22.5 1 -31 0 11.5 1 20.5 .5 -23 1 24 .5 -4 1.5 -31 1.5 34 1.5 -32 1.5 -1.5 1 29.5 .5 -27.5 1 7.5 .5 -5 0 12.5 0 5 1 13.5 1 -30 1.5 12.5 .5 2 .5 0 .5 -8 2.5 14 .5 -26.5 0 0 .5 32 0 -12 .5 8.5 1 -3 0 -22.5 0 -1 0 26 .5 -10 .5 5.5 1 -5 0 9.5 .5 -24.5 1.5 31.5 0 -9.5 0 -15.5 .5 -1.5 .5 26 .5 -17 0 10 1.5 -28.5 .5 26.5 4 -18.5 2 19.5 .5 -27 0 4 0 4 2 25.5 0 -2 1.5 -5.5 0 3 2 -6 1.5 -11.5 .5 -8 .5 15 2 15.5 0 -2 0 -3.5 .5 20.5 1 -31.5 .5 29 1.5 2.5 0 -17.5 1 23.5 0 -24 0 -5 0 3 .5 -.5 .5 -1.5 0 4 0 8 0 -7 .5 -19.5 .5 27 1 -14.5 1 24 .5 -31 1.5 -1 1.5 17 .5 -12.5 .5 23.5 1 -18.5 .5 21.5 1 -14 0 -16.5 1 2 0 21.5 2.5 -32.5 .5 -26.5 1 41.5 .5 -20.5 .5 2.5 0 12 1 -5 .5 -17 .5 4 .5 11 1 -4.5 .5 -2.5 0 -8 2.5 -10 .5 50 1 -30.5 .5 -1.5 0 -1 1 0 .5 34 1 -38 .5 19 .5 -28.5 .5 10 0 -10 .5 23 0 -18 .5 -12 2 6.5 0 8 .5 -14 0 13.5 0 2 1.5 6 1 -22 1 24 1.5 -1 .5 -17 .5 19.5 0 -7.5 .5 31 0 -36.5 0 -14 .5 11.5 0 -1 .5 10 .5 -9 1 -2.5 0 5.5 .5 -3.5 3 -9 1 3.5 0 21 0 -22 .5 6.5 0 10.5 .5 -18 0 30.5 .5 -31.5 .5 14.5 .5 -14 .5 2 .5 5 0 12 .5 -7.5 1.5 10.5 1 -10 .5 4 0 -11 .5 -7.5 1.5 1.5 0 -.5 .5 4 .5 -4.5 1 9.5 0 -1 0 18 .5 -23.5 1.5 14.5 .5 -11 0 -9 0 9.5 0 13 0 1 .5 -18 .5 23.5 .5 -19 0 4 0 4 .5 12 0 -10 .5 -17 0 23 .5 1 1 -2.5 0 -14 0 18.5 1.5 -5.5 0 -15 2 21 0 -1.5 0 -14.5 .5 -9 0 24.5 .5 -18.5 .5 16 0 -10 0 -11.5 0 22.5 1.5 -16.5 1 9 0 -17.5 0 5.5 0 2 .5 4 0 -9.5 .5 11 .5 5 .5 -18 0 6.5 0 21 0 -25 .5 13.5 0 6 .5 -18 0 4.5 .5 -7 0 20.5 0 -14 0 -1 0 17.5 .5 -21.5 0 19.5 .5 -3 .5 4.5 0 -1 0 -1 .5 -12.5 .5 -7.5 .5 13 0 7.5 .5 -17.5 .5 -1 .5 24.5 .5 -25.5 0 1 .5 19.5 .5 -.5 0 -4.5 .5 -3 0 -11.5 1 2 0 6 .5 -7.5 .5 16.5 0 -15 0 -5 0 9 0 0 .5 -6 0 23.5 .5 -26.5 0 2.5 .5 7 0 9.5 0 9 .5 -22 .5 -8 0 25 .5 -13 0 6.5 .5 -13 .5 1 .5 -1.5 0 4.5 0 4.5 .5 44 .5 -33 .5 -15.5 1 -6.5 0 6.5 0 14.5 .5 5 .5 -17 .5 17 .5 -3 .5 -7 0 -12.5 1.5 5 0 -10.5 0 29 .5 1.5 .5 -9 1 -16 0 19.5 0 -19 .5 22.5 1.5 0 0 2 .5 -27.5 .5 -1 0 9 2.5 -11.5 0 18.5 0 -9 .5 13 1 5.5 2 -24 0 -3 0 31 1 -13 0 -13 .5 20.5 .5 -24 .5 3 0 -1.5 .5 15 0 -18.5 0 19 1 -10.5 .5 -.5 .5 0 1 8.5 1 -8 0 11.5 0 -14 .5 12.5 2 -16.5 4 13.5 1.5 1.5 .5 -8 .5 14 3 -2.5 1 -10 1.5 13 1.5 -20.5 1 26 2.5 -28.5 4 10.5 7 23 2 5 0 -13 0 -1 1.5 9 1.5 -23 10.5 19.5 1.5 1.5 4 -17 0 5.5 1.5 -16.5 0 36 0 -33.5 0 16.5 3.5 7.5 1.5 -22 1.5 30.5 .5 -22.5 .5 -7.5 .5 5.5 1 -10.5 0 -1 1.5 -.5 1 37.5 .5 -32.5 0 -3 4.5 30.5 .5 -20 4.5 7.5 2 15 1 -26.5 1 9.5 0 -11.5 1.5 2.5 4.5 -5.5 2 14 1 -3 4 -10.5 5 2 8 19" fill="none" stroke="none" marker-start="url(#pb)" marker-mid="url(#pb)" marker-end="url(#pb)"/>
<path d="M1149.5 955l7 0 .5 -5.5 .5 16 0 -5 1.5 -2 0 2.5 0 -7.5 .5 3.5 0 -11.5 .5 5 0 -1 .5 .5 0 6.5 0 -2 0 -1 1.5 15.5 .5 -10 0 .5 .5 -8.5 .5 1 1.5 6 .5 -16.5 .5 12 0 -4 0 18 0 -19.5 1 1.5 .5 3.5 0 12 2 -19 .5 6 0 -3 .5 4 0 0 0 0 0 -5.5 .5 11.5 0 -4 0 -6.5 .5 0 1 1.5 0 -1.5 .5 12 0 -6.5 1 -5 0 2.5 0 -11.5 .5 15.5 .5 -3 0 1.5 .5 -3.5 1.5 8.5 .5 -8.5 1 13.5 .5 -5.5 .5 -11 0 10.5 .5 -5.5 0 -5.5 .5 -1.5 .5 8.5 0 -4.5 2 7 0 -10 0 6.5 0 -8 .5 18 .5 -9 0 4.5 1 -7.5 0 1.5 1.5 -14 0 5 1 5 .5 3.5 0 3.5 .5 4.5 0 -16 0 12.5 0 -2.5 .5 -.5 0 5 .5 8 0 -26.5 0 13 .5 .5 .5 -2.5 1 -1.5 0 10.5 0 -6 1 14 0 -12.5 1 -3 .5 5 0 -8 .5 2 .5 2 .5 -5 0 -.5 0 5.5 .5 -13.5 0 13.5 0 7 .5 -6.5 .5 3 0 -8 0 15.5 .5 -2 .5 -17 .5 15 0 -5 .5 -6.5 .5 12 .5 -13 .5 10.5 0 -3.5 .5 0 0 1.5 .5 -3.5 0 -5 .5 20 1 -15 .5 7.5 0 -5 0 3 .5 3 .5 -4 .5 -11.5 .5 9 .5 -3 .5 -8 .5 5 .5 3.5 1 -6 0 12 .5 -7 0 -10.5 1 15 0 9.5 .5 -4 .5 -13 .5 -2.5 .5 15.5 0 -6 .5 -2 0 3 .5 -6.5 0 -6 0 1 .5 20.5 .5 -24 0 7.5 .5 17 1 -5 0 -7.5 0 -.5 .5 12.5 .5 -17.5 .5 19 0 -22.5 .5 9.5 1 7 0 3.5 .5 -9.5 .5 8 1.5 -2.5 0 -14.5 2 10.5 .5 -4.5 .5 6.5 .5 -18.5 .5 14.5 .5 10 1 -13 0 5.5 0 -9 .5 4.5 0 4 0 -7.5 0 9 0 3.5 .5 -17 0 22 1.5 -9.5 .5 .5 0 1.5 1 -13.5 .5 7.5 0 -8 .5 8 .5 -10.5 2 4.5 .5 -2 0 15.5 .5 -10 .5 1.5 1 13 .5 -6.5 0 1 .5 9.5 0 -28 0 19.5 .5 -11 0 -4 0 12 .5 8 0 -13 .5 12 0 -17.5 1 3.5 .5 3.5 1.5 1 .5 -12.5 1 9.5 1 -8 0 16 1.5 -20 0 8 0 10 0 -4.5 .5 -7.5 0 3.5 0 -6.5 0 7.5 .5 14.5 0 -16.5 .5 -2 0 5.5 0 10 .5 -3 0 .5 0 -2 .5 5.5 0 .5 1 -14 0 .5 0 7 0 .5 1 12.5 0 -8 0 -10 0 -3.5 0 -7 0 21.5 0 -23 .5 15 0 8.5 .5 -12 0 11.5 .5 -14 0 12.5 0 -4.5 0 -4.5 0 -7 0 12.5 1 -11 .5 6.5 0 -9 0 10.5 0 1.5 0 -13.5 0 22 0 -18.5 .5 .5 0 -8 0 6 0 6.5 0 16 .5 -15.5 0 0 .5 4 0 14 0 -9.5 0 -9.5 0 19 0 -6 1 -8 .5 -1.5 0 8 .5 -15 0 17.5 .5 -10.5 .5 1.5 0 11.5 0 -8 .5 -14.5 0 9 0 -2 .5 6 .5 7 0 -12.5 0 -1.5 0 -6 0 12 .5 -3.5 0 2 .5 3 0 -6 0 -2.5 .5 5 0 7 .5 -10 0 8.5 .5 -5.5 0 -1.5 .5 -13.5 0 25.5 0 -13 0 -.5 .5 5 0 2.5 0 -3.5 .5 -6 .5 2.5 0 11.5 0 -11.5 0 -.5 .5 4 0 .5 .5 -14 0 1 0 8.5 .5 11 0 -10 0 13 0 -16.5 .5 -5.5 0 11.5 .5 -10 0 1 .5 16.5 0 -4.5 .5 -18 0 14 0 1.5 .5 1.5 0 7 0 -10.5 0 -6 0 5 .5 1.5 0 12 0 -5 0 -12.5 1 3 2 16 0 -10 .5 -15 .5 12 0 5.5 .5 -3 0 3 .5 0 0 -3 .5 -5.5 0 -8 0 8.5 0 8 1.5 -9.5 .5 7 .5 -1 0 -12 0 16.5 .5 -15.5 0 -3 .5 10.5 0 17 .5 -6 0 -16 0 7 .5 10.5 .5 .5 0 -5.5 0 -5.5 0 2.5 0 -6 .5 8 0 -2 0 -13.5 .5 12.5 0 -4 0 -2 0 -6 0 16.5 0 1.5 .5 -8 1 -8 .5 3 0 5.5 .5 -14 0 16 .5 9 0 -15.5 0 4.5 1 1.5 .5 9 0 -12 0 -8.5 0 -.5 .5 13.5 .5 .5 0 -9.5 0 14.5 0 -18.5 0 11 .5 5.5 0 -2.5 .5 7.5 .5 -12 0 -8 0 12.5 0 -11.5 .5 9.5 .5 -7 0 11 0 -9.5 .5 1.5 0 -6 .5 0 0 7.5 0 -6 .5 11 1 -2.5 0 -1.5 .5 -6.5 .5 2 0 .5 0 5 0 -11.5 .5 9 0 15 0 -4.5 1 -22.5 1 12.5 0 -2.5 0 13.5 1 -14.5 .5 3 0 8 .5 -8 0 8.5 .5 -4 .5 -19.5 .5 20.5 0 -16 .5 13 0 3 0 -1.5 0 -10.5 .5 -3 .5 20 0 -17.5 .5 9 .5 7.5 0 -13 0 1.5 .5 5 0 -5.5 0 11.5 .5 -18 0 7.5 0 10.5 0 -6 .5 0 0 -2 0 -4 .5 7.5 0 -7 0 -6 .5 -6 0 5.5 .5 3 0 14.5 0 -11 0 -11 .5 22 .5 -10 0 -2.5 0 -3 .5 2 0 12.5 .5 -19.5 0 10 0 0 .5 -4.5 0 4.5 .5 7.5 0 -3.5 0 4 .5 -18.5 0 -.5 0 21 0 -20 .5 -1.5 0 22 .5 -2.5 0 -12.5 .5 8 0 2.5 0 3.5 .5 8.5 .5 -15.5 0 -1.5 .5 14 .5 -4 0 -1 1.5 -5.5 0 -5 2 -13 0 25 .5 -12.5 .5 11 0 -11.5 0 12 0 -12 1.5 1.5 0 13 .5 -8.5 0 -2 .5 -4 0 -9.5 0 22 0 -13.5 0 -5.5 1 -6 1 22 0 -3 .5 9 .5 -19.5 0 22.5 .5 -21 .5 20 0 -15.5 0 -4 .5 1.5 0 9.5 0 -1.5 0 .5 .5 -11 0 21.5 0 -12.5 .5 -9 0 4 0 16.5 0 -6.5 .5 3.5 0 -16.5 .5 7.5 0 -14 .5 9 .5 3 0 1.5 0 -6 0 7 .5 -8 .5 -1 .5 13 .5 .5 0 -8.5 0 -2 .5 10 0 -4.5 0 8 .5 -6 0 -9 1 9 0 0 .5 -5.5 .5 -10 0 19.5 .5 -3.5 0 7 0 -12 .5 7 .5 -8 .5 14.5 0 -4 0 -9.5 .5 .5 0 4 0 -2 0 -4 .5 -3.5 0 1 0 16.5 0 -17 .5 4 0 4.5 0 -13 .5 12.5 0 -3 .5 -9 0 4 .5 9.5 1 -3.5 .5 10 .5 -8 0 2 0 -1 .5 -10 .5 12.5 .5 -5.5 0 8 0 -2.5 .5 6.5 1 -11 0 -2 .5 -4 0 10 1 -2 0 1 .5 -4 0 12.5 0 -11.5 .5 -11 .5 12 .5 -6.5 0 14.5 0 -8 .5 -12.5 .5 2 .5 11 0 -2 0 -6 0 -3.5 0 17.5 .5 -.5 .5 .5 0 -7.5 0 3 .5 -3 0 -3.5 .5 2 0 0 0 -9 0 10 1 -10.5 1 10.5 .5 3.5 .5 -5 0 -11.5 .5 24 0 -12 1 -3.5 0 9 2 -3 1 -13 .5 8.5 0 2.5 .5 -8 0 13 .5 -12 0 -2 .5 7.5 0 13.5 .5 -23 .5 11.5 0 -15 1 17.5 .5 -9 .5 -3.5 0 2 .5 -7.5 .5 25.5 .5 -8 .5 -13 0 11 .5 2 0 6.5 .5 .5 0 -19.5 0 16.5 0 -4.5 0 5.5 0 -15 0 8 .5 -2.5 .5 2 .5 13 .5 2 .5 -21 0 -1 .5 20.5 .5 -16 0 1.5 0 7 0 -1 .5 6.5 .5 -4 0 -6.5 .5 5 .5 -5 .5 14 0 -11 0 -2.5 .5 -14.5 0 19 .5 -2.5 .5 .5 .5 -2.5 1 1 .5 5.5 0 -17.5 .5 7.5 .5 1.5 0 11 .5 -8.5 0 3.5 0 -6.5 0 -9 .5 10 0 3 0 -9 .5 7.5 0 -15.5 0 7.5 .5 0 .5 -1 1 17.5 0 -4.5 .5 -17.5 1 20 .5 -13.5 0 -3.5 .5 7.5 .5 6 0 4.5 0 -18.5 0 3.5 .5 4.5 .5 -.5 0 1 0 4.5 .5 -9 0 10.5 1 -6.5 0 -12 0 4 0 10.5 .5 -.5 0 -9.5 0 -3.5 .5 27 .5 -19 0 3.5 0 -1 .5 0 .5 8 .5 -8.5 .5 9 0 -1 0 3.5 .5 -24 .5 8.5 0 6 .5 2 .5 12 0 -16 .5 7 0 3.5 .5 -2.5 0 -4 0 -11.5 .5 26 .5 -11 .5 -4 0 -4.5 0 1 .5 -8 0 22 1 -17 .5 7 0 -8 .5 11.5 0 -13.5 0 6.5 0 5 .5 -8.5 .5 -2 0 7.5 0 2.5 .5 -14.5 0 8.5 0 9.5 .5 -8.5 .5 4.5 0 -5 0 4 0 -3 0 -3.5 .5 -10 0 24.5 .5 -10 0 13.5 .5 -24.5 0 8 0 3 0 0 1.5 -4.5 .5 10 .5 7 0 -22 0 13.5 .5 -13 0 2 0 6 .5 6.5 .5 -10.5 .5 1.5 0 3 0 8 .5 8.5 0 -14 .5 -12.5 0 21 0 -14 0 6.5 0 2 0 0 .5 -9.5 0 16 0 -12 1 -1.5 0 2 .5 12 1 -15 0 1 .5 -4 0 5 1 -4.5 1 10.5 0 -12 .5 17.5 0 -7.5 .5 3.5 0 5 0 -14.5 .5 15.5 1 -13.5 .5 -3.5 .5 7 .5 2 0 2.5 .5 6.5 .5 -15 0 2.5 1 -4 0 -3.5 .5 6.5 1 -4.5 0 12 0 -4.5 .5 -9.5 .5 1 .5 10.5 .5 -11 0 8.5 2 -5.5 0 2.5 1 2 0 0 1 6 .5 4.5 .5 -5 .5 -11.5 0 9 1.5 5.5 .5 -14 0 0 1 -5 0 5 .5 7 0 -8.5 0 5.5 .5 6.5 .5 2.5 0 -21.5 .5 15.5 1.5 3 .5 -15.5 0 11 0 -.5 0 -16 1.5 17.5 0 -12.5 .5 22.5 .5 -20.5 0 -1 .5 9 0 -3 .5 10 .5 -20 .5 14 0 5 .5 -9.5 1 16.5 .5 -9.5 0 -.5 .5 11.5 0 -25.5 .5 14.5 .5 -.5 .5 -3.5 .5 -6.5 .5 -.5 0 -4 1 2 2 0 1 20.5 1.5 -13.5 .5 9 0 14 0 -13.5 2 -1.5 2 -10.5 .5 .5 1.5 10 12 -1.5" fill="none" stroke="none" marker-start="url(#pk)" marker-mid="url(#pk)" marker-end="url(#pk)"/>
<g filter="url(#bl)"><g><ellipse cx="1324.3" cy="955.0" rx="61.2" ry="14.4"/><rect x="1267.3" y="941.5" width="113.9" height="26.9" rx="13.5"/></g></g>
</g>
<g clip-path="url(#c11)">
<ellipse cx="1799.4" cy="907.5" rx="39.7" ry="23.8" fill="#b53cb8" fill-opacity="0.29" filter="url(#bl)"/>
<path d="M1662.5 902l1.5 -19 2 -34 1 4 .5 3 3.5 46 0 -41 1 1.5 3 7.5 1 28.5 2 -12 1 -36.5 0 51 2 -32 .5 19.5 .5 -20.5 1.5 29.5 0 -50 1 57.5 1 -48.5 1.5 18 1.5 -24 2.5 62.5 .5 -47.5 1 27 .5 1 .5 -39 1.5 14 2 14.5 1 12.5 .5 8 2 -94 0 84.5 0 12 .5 -5 1 -40.5 2 8.5 .5 10 2 -37 0 34 2 34 .5 -12 1 -28.5 .5 34.5 .5 -.5 .5 -19.5 1 .5 1.5 11.5 0 -29.5 1 16 1.5 -13.5 .5 -7.5 2.5 48.5 .5 -8.5 1 -40 2.5 46 1 -35.5 2 34.5 .5 -70.5 2.5 55 .5 -19.5 2 -6 11 24 0 32.5 1.5 -91 2.5 57.5 .5 0 3 21.5 3 -13 .5 -16 0 35 1.5 -32.5 0 11 1 19.5 1.5 -24.5 1.5 -13 .5 44 .5 -5 .5 -30 .5 13 1 -8.5 1 -3 0 31 1 -16 .5 -7.5 4 2 0 17.5 1 -20.5 .5 14 .5 -6 1.5 0 0 7 0 -36.5 .5 46.5 1 -67 2 47 .5 -26.5 1 30 0 -19 1 16.5 .5 -13 0 30.5 .5 -26 1 31.5 0 -51.5 1.5 52 .5 -9.5 2 4 0 0 0 -37 1.5 19 .5 2 .5 -3 0 16 1 -17 0 -18 .5 -8.5 .5 14 1 11.5 1 27 0 -21 0 -9.5 .5 -19 0 39.5 .5 -17 0 -3.5 0 43.5 0 -63.5 1 50.5 1 -3 .5 -42.5 0 25.5 .5 -7.5 0 41 .5 -46.5 0 29.5 0 -3 .5 16.5 .5 -20 1 -21 .5 14.5 .5 -24.5 0 34 .5 1.5 .5 -8 .5 -18 0 26.5 1 4 1 -7.5 0 21.5 .5 -42 0 18 .5 19.5 .5 -55.5 .5 48.5 .5 -49.5 0 38 0 -4 .5 3.5 0 -26 0 13 1 -25.5 0 1.5 .5 -25 0 26 1 11 0 51.5 1 -25 0 -8.5 .5 -18.5 0 18 .5 -17 .5 38.5 .5 -6.5 .5 -45 0 42.5 0 -8.5 .5 30 0 -55 .5 -2 .5 48.5 .5 -44 0 31 0 9 1.5 -55 0 39 0 -31 .5 26 0 32.5 0 -21 1 -16 0 5.5 0 19.5 0 -23 .5 10 .5 18 .5 -17 0 -5.5 .5 27 .5 -47.5 1 20.5 .5 24.5 0 -9.5 .5 2.5 0 -13 .5 20.5 .5 -4.5 .5 5 0 -8.5 0 -4 0 10.5 1 2.5 .5 -7.5 .5 -7.5 0 4 0 10.5 .5 -11.5 .5 -2.5 1 16 .5 -39 0 10 .5 25 .5 -2 .5 -9.5 0 15 .5 -26 0 -27 0 53.5 .5 -18 .5 -1.5 0 -4 0 11.5 .5 2 .5 0 .5 -12 0 16 0 -50 0 26.5 0 31 .5 -.5 0 1 0 -3 .5 0 .5 -14 0 -.5 .5 -46 0 58 1 -47 1 49.5 0 2.5 0 -9.5 0 5.5 .5 -21 .5 22.5 0 -62 0 55 .5 -16.5 .5 -3 0 -32.5 .5 12 1 48 .5 -31.5 2.5 5.5 .5 7.5 1 -11.5 0 24 1 -14 0 5 0 -8 .5 21 .5 -20.5 .5 23.5 0 -21.5 1 -2 .5 -3.5 1 23 1 3.5 .5 -1.5 0 -2 0 4 1 -2.5 0 -4.5 .5 -7.5 0 8.5 .5 -12.5 0 8 0 3 2 -22 0 15.5 0 -21 .5 26 0 -10.5 .5 -20 .5 -7 0 6 1 24.5 1.5 10 .5 -42.5 0 13.5 3 -2 1 2 .5 10 0 22 0 0 4 -5.5 2.5 -11.5 2.5 7.5 1 7.5 1.5 -30 .5 2 .5 -14 .5 21.5 8 -19" fill="none" stroke="none" marker-start="url(#pm)" marker-mid="url(#pm)" marker-end="url(#pm)"/>
<path d="M1674 1017l13.5 30.5 2 -44 11.5 -3 2 11.5 3.5 5.5 8 9 11.5 10 1 -36 8 13.5 4.5 9 5 6.5 15.5 -25 1 6.5 42 -20.5 0 77.5 9 -58 15.5 8.5 1.5 -30 1 -.5 8 -10 4.5 15 .5 2 2.5 -21.5 1.5 19 1.5 -21.5 1 13.5 2 -10 0 17 1 -17.5 1.5 18.5 0 -14.5 0 0 .5 -10 0 5.5 3.5 60.5 .5 -69 2.5 4.5 1 -2.5 1 19 3 -11 0 -5 .5 14 .5 -17.5 1.5 5.5 2.5 -1 .5 -5 0 -1 2 1.5 .5 2 .5 3 .5 1 1 7.5 2.5 -15.5 2 1.5 0 .5 .5 .5 3.5 2.5 0 31.5 1 -31.5 0 41 1 -45 1 19 10 -16.5 3.5 21.5 7.5 32.5 5 -45 43.5 -2.5" fill="none" stroke="none" marker-start="url(#pb)" marker-mid="url(#pb)" marker-end="url(#pb)"/>
<path d="M1650.5 950.5l4 1 .5 -.5 1 -15.5 .5 14 2 0 0 -3 0 2 .5 0 1 3.5 .5 -10.5 1.5 16 .5 -15.5 .5 3 0 9.5 .5 -2 .5 -6 0 .5 1 5 1 7 0 -9 0 1.5 1 -11 0 6 1 8.5 .5 1 0 4 0 -2 .5 2.5 0 -21 .5 15.5 .5 5.5 .5 -14 0 5.5 1 -14 1 -.5 .5 12.5 .5 -2 .5 -.5 0 .5 .5 3 0 9.5 .5 -9.5 .5 0 0 -9 0 9 .5 11.5 0 -21 1 11 1 5.5 0 -8 0 -13.5 .5 13.5 0 -13.5 .5 16.5 0 -2 0 -6.5 1 11 .5 -3.5 1 -3 0 -.5 .5 7.5 .5 -16 0 0 .5 14.5 .5 -3 0 2.5 1 -2 .5 11 0 -20 .5 -4.5 0 19.5 .5 -6.5 0 -5.5 1 15 0 -18 0 7.5 1 3 .5 1.5 1 3.5 0 4.5 .5 -8.5 0 -6 0 9 1 -13 0 -3 1 19.5 1 -6.5 1 -11 .5 9.5 1 -7 .5 -6.5 .5 -.5 .5 14.5 .5 -1 1 -2 .5 1.5 1.5 6.5 1 -9 0 -2 .5 -2 1 .5 0 -2 0 -3.5 .5 22.5 .5 -16 .5 3 .5 -11 .5 0 0 14 1 11 0 -24 .5 4.5 0 7 1 8 0 -8.5 1.5 -7 0 0 .5 14 .5 -17 .5 0 .5 16.5 0 -10 0 12.5 .5 -5.5 0 1.5 .5 3 .5 -15 .5 1 0 11 0 -14 .5 11.5 .5 -5 0 10 .5 -10.5 1 7.5 0 4.5 0 -14 .5 11.5 0 -13 .5 6.5 .5 -7.5 .5 13 0 -6.5 0 4 .5 -15.5 0 12 0 -5.5 .5 7.5 .5 -14 0 13.5 0 3.5 1 -.5 .5 -13 .5 9.5 2 2 0 -7.5 .5 15 0 1.5 0 1.5 1 -22.5 1.5 13 .5 9.5 0 -15 0 6 .5 -14.5 .5 0 .5 10.5 0 -1 .5 3 .5 -2.5 0 -6 .5 2 1 2 0 2 .5 3.5 .5 -.5 0 3.5 .5 -1.5 0 1.5 0 -21.5 .5 12 0 -.5 1 6.5 .5 -7 0 2 0 -2 0 3 .5 -5 0 1.5 0 6.5 .5 2.5 0 -9 0 7.5 .5 -12 0 3 .5 9.5 0 2 0 -3 .5 -4 0 2.5 0 1 .5 -6.5 0 -4 0 -3.5 0 13 .5 4.5 0 -7 0 6.5 0 7 0 -12 0 -.5 .5 -6.5 0 13 0 5.5 .5 .5 0 5.5 0 -12 0 -14 0 8.5 .5 -14.5 .5 16.5 0 0 .5 -8 0 3 0 -2 0 .5 .5 22 .5 -9 0 0 .5 -12.5 0 16 0 -15.5 0 -7.5 0 20.5 0 -5.5 0 9.5 .5 -7 0 -3 1 -5 0 6 0 -12.5 0 8.5 0 6 0 -6 0 -3 .5 -2.5 0 4 .5 13 0 -19 0 22 .5 -18.5 0 2 1 5 .5 -12 0 7.5 0 7.5 .5 -21.5 0 3 0 22 .5 2 .5 -13 0 10 .5 -6.5 0 7.5 .5 -13 0 -.5 0 3.5 .5 2.5 0 -3.5 .5 -9.5 0 7.5 .5 3.5 .5 2.5 0 -9 0 6 0 -5 .5 17.5 .5 -6.5 1 9 0 -14.5 0 -2 .5 6 .5 1 .5 7 0 4.5 0 -29 .5 17.5 0 6 1 -7.5 0 .5 1 6 0 -8.5 .5 6.5 0 -11.5 0 3.5 0 6.5 .5 -13 .5 10 0 -15 .5 6 0 1 .5 7.5 .5 7.5 0 -27.5 .5 20.5 .5 11 .5 -12 0 6.5 0 -15 .5 -5 0 9 0 -3 0 13.5 .5 -10 0 10.5 0 2 .5 -15.5 .5 -10 .5 24 0 -10.5 0 -4.5 .5 2.5 0 8.5 0 -8 .5 1 0 6.5 0 -5.5 0 -8.5 0 8.5 1 -3 .5 5.5 0 14.5 1 -24 1 11 0 -10 0 22.5 0 -18.5 .5 1 .5 19.5 0 -23 .5 -7.5 .5 19.5 .5 -16 0 7 0 2.5 .5 -5 0 11 0 9.5 0 -20.5 0 1.5 0 -1.5 0 -10.5 0 27.5 1 -5.5 0 -15.5 .5 5 0 8.5 0 -7.5 1.5 12.5 .5 -14.5 0 -6.5 0 19 1.5 -11.5 0 16.5 1.5 -12.5 0 1 .5 0 0 -12 .5 13 0 -6.5 1 -7.5 .5 7.5 .5 19 0 -13 0 -11 .5 -5 0 22 0 -7 .5 -5.5 0 -3.5 .5 -1.5 0 12 .5 -7 0 16.5 .5 -26.5 0 19.5 .5 -6.5 0 -6.5 .5 10.5 .5 7 .5 -17 0 -2.5 0 2.5 0 7 0 -4 .5 -2.5 0 16.5 .5 -7.5 0 -2 0 2.5 .5 -12.5 0 2 0 9 1 -12 0 10 1 -9 0 6 .5 .5 0 .5 .5 -2 .5 6 0 9.5 0 -.5 .5 -17 0 19 0 -14 .5 15.5 1 -3 1 -21.5 0 11.5 0 -2 .5 -1.5 0 5.5 0 1.5 0 -5 .5 11 0 -4.5 0 -1.5 .5 3.5 0 -3.5 0 -7 .5 -10.5 0 -1 0 11.5 .5 -1.5 .5 6.5 0 7.5 0 -12 0 1 0 -4 0 15.5 .5 -12 0 5.5 .5 -2.5 0 14.5 0 -14 .5 1.5 0 5 .5 8.5 0 -17 0 -9.5 .5 10 0 5 0 -20.5 1 4.5 .5 6.5 0 5 .5 11.5 0 -10 0 8 .5 -4 0 -7 .5 0 .5 8 .5 -5.5 .5 -7 0 -6.5 .5 14 0 11 1 -.5 .5 -23.5 .5 12 0 5.5 0 8.5 0 -12 0 3 0 -22 .5 20.5 0 12 0 -14 0 -8.5 .5 8.5 .5 -4.5 0 -2.5 0 6 .5 0 0 -3 .5 15.5 1 -5.5 .5 -4.5 .5 12 0 -33 0 19 0 9.5 1 -6.5 0 6 .5 -14 0 5.5 .5 4.5 .5 3.5 0 -8 0 4.5 0 -1 0 -1 .5 -13.5 0 8.5 .5 -1 0 -2 .5 4 0 -7.5 .5 -8.5 .5 2 1 17 1.5 -9 .5 14.5 0 -9 1 11.5 0 -7.5 0 -20.5 .5 12 .5 -5 0 15 0 1.5 1 -12.5 0 10 0 -8 0 8 0 4 .5 -16 0 2 0 6.5 .5 .5 1 -13 0 8 .5 9 .5 4 0 6.5 0 -1 .5 -14.5 0 -12.5 .5 -.5 1 7.5 0 -11.5 0 16.5 0 -8.5 0 .5 .5 14 0 -1.5 0 -8.5 .5 8.5 0 -5.5 1 1 0 -1 .5 7.5 1 -8 0 17.5 .5 -18.5 .5 17.5 0 -12.5 0 3 .5 -8 .5 4 0 8 .5 -5.5 0 6 .5 -18.5 0 6.5 .5 -15 0 20 .5 4.5 0 -11 .5 7 0 -1 0 3.5 1 -20 .5 13.5 .5 13 .5 -9.5 0 -1.5 0 -.5 0 -17 .5 3.5 0 17.5 0 -20 .5 4.5 0 2.5 0 8.5 0 4 0 7 .5 -12 1 -8 .5 23 .5 -16.5 0 3.5 0 8.5 .5 -3.5 1 -17 0 26 .5 -11 .5 -6.5 1 -11 .5 10 .5 -.5 .5 17 0 -12 0 1 0 -11.5 0 10.5 1 -7 0 11.5 0 -6 0 15 .5 -7.5 .5 -6 0 -5 .5 17 0 -1.5 0 -14.5 0 -7 0 -3 0 22 0 -2.5 .5 -16.5 0 -2.5 0 10 .5 2.5 .5 -12.5 0 11.5 .5 -5 0 -6 0 3 .5 12 .5 6 0 -19.5 .5 13 0 5.5 1 -19 .5 1 0 18 0 -.5 .5 -3.5 0 -4 .5 5 0 -22.5 0 7.5 1 10.5 0 11 0 -18 0 21.5 1 .5 1 -21 0 -11 .5 5 .5 12 0 -9 0 7 .5 -9.5 0 5.5 0 14.5 .5 -6.5 0 -2.5 .5 5 0 -22.5 0 7.5 .5 -1 .5 6.5 1 4 0 -3 1 6 0 -5 .5 -5.5 .5 9 0 0 .5 9.5 0 -13.5 .5 -1 .5 -4 .5 14.5 .5 2.5 0 -14 0 -10.5 .5 21.5 .5 -8 0 4.5 .5 -11.5 .5 -1 0 .5 0 3.5 .5 6 0 12.5 .5 -25 0 9.5 .5 -5 0 0 .5 8 0 4.5 .5 -7.5 1 -.5 0 13 .5 -12 0 10.5 0 -7 .5 -8 0 13.5 0 -9.5 .5 2 0 8.5 .5 -16.5 0 9 0 -1.5 .5 -10 .5 19 0 -12.5 1 14.5 .5 0 0 -6 0 -6 .5 1 .5 9 0 -9 .5 -9 0 3 1 -2.5 0 4.5 1 -2 0 6 0 -4.5 .5 6.5 0 -15.5 .5 1.5 0 10.5 0 -4.5 0 -9 0 27 1 -14 0 6 0 -13 .5 6.5 0 20 0 -9 0 -1 .5 -14.5 .5 11 1 -10 0 10 0 8 .5 -1.5 .5 -21 1 11.5 0 4 1.5 -16 0 6 0 10.5 .5 10 0 -22 0 19 0 -7.5 .5 -11 0 17.5 .5 -8 0 -8 .5 6.5 0 -8 .5 17 .5 -11 0 12 0 -8.5 1 -7.5 0 -1 0 17 1 -18 0 11.5 0 -11.5 .5 -4.5 0 11 0 -11.5 .5 4.5 0 22.5 .5 -21.5 0 8.5 0 -12 .5 -4 0 23 0 -22.5 .5 11.5 0 13 0 -19 .5 0 .5 7.5 0 -3.5 0 12.5 0 -18.5 0 -4.5 .5 8 0 12 .5 -16.5 0 .5 .5 15 0 -1 .5 10 0 -5.5 0 -24 .5 4 0 16.5 .5 -11 0 12 .5 -5 .5 8 0 2 1 -18 0 2 0 6 .5 14.5 1.5 -26.5 .5 3 0 0 .5 8.5 0 -14 0 8.5 .5 11.5 0 -1.5 .5 -6.5 1.5 -3 .5 -7 0 13.5 1 7 .5 -.5 .5 -5 .5 -8 0 -12 0 19.5 .5 -11 0 11.5 0 -8.5 .5 12.5 .5 -22.5 1.5 10 0 5 0 -9.5 .5 11.5 .5 7.5 .5 -18 .5 6.5 0 -2 0 9.5 1.5 -19.5 0 25 .5 -13 .5 .5 .5 -8 1.5 4 2 8 0 -5 0 -2.5 .5 10 1.5 3.5 1 -9 1 -9 0 21 .5 -11.5 .5 -1.5 .5 -7 1 13.5 0 -7.5 .5 0 .5 5.5 .5 -2 0 2 0 -6 .5 8 .5 -2.5 0 -6.5 1 4 .5 5 1 0 0 1.5 .5 -8 .5 -4 .5 13 .5 -10 .5 0 0 -2.5 1 2 0 -7.5 1 14 3.5 -6.5 .5 -12.5 .5 7 0 5.5 0 3.5 .5 -14 .5 13.5 .5 -8 .5 7.5 1 6 .5 7 1.5 -20.5 1 15.5 0 -11.5 0 6 2 -14 0 14 .5 3 .5 -7 2.5 9 2.5 -5 6 -3.5 8 13 49 -15.5 55.5 -7 20.5 2.5" fill="none" stroke="none" marker-start="url(#pk)" marker-mid="url(#pk)" marker-end="url(#pk)"/>
<g filter="url(#bl)"><g><ellipse cx="1816.5" cy="951.3" rx="74.9" ry="15.9"/><rect x="1746.8" y="936.5" width="139.2" height="29.7" rx="14.8"/></g></g>
</g>
<g clip-path="url(#c12)">
<ellipse cx="353.9" cy="1316.1" rx="34.0" ry="14.2" fill="#b53cb8" fill-opacity="0.38" filter="url(#bl)"/>
<ellipse cx="358.5" cy="1370.6" rx="45.4" ry="13.0" fill="#4585c4" fill-opacity="0.34" filter="url(#bl)"/>
<path d="M170.5 1273l4.5 25.5 5.5 -15 5.5 -7 0 -3.5 4 -1 8.5 1.5 2.5 20.5 3.5 -14.5 2 -15.5 0 31.5 10 -47 7 2.5 .5 37 .5 -7 2.5 3 .5 17 0 -14 1 -7.5 .5 19 1 -16 12 -3.5 1.5 13 5 0 1 5 1.5 -49.5 2 55 2 -2.5 2 -16.5 3 -26.5 0 21.5 3 -9.5 3 28 2.5 -35 4 23 .5 -5 1 22 4.5 12 1.5 -13 1 9.5 1 -24 .5 42 1.5 -17.5 .5 -2 0 1 .5 -12 0 25 .5 -15.5 0 -34 3 2 .5 31 1.5 -2.5 0 -34.5 .5 47 1 10 .5 -32.5 .5 5.5 .5 8 2 21 .5 .5 0 -2 0 -14.5 .5 -48 .5 8 0 56 .5 -34.5 1 9.5 .5 24 1.5 -57.5 2.5 31.5 .5 21.5 0 2.5 .5 -7.5 0 -6.5 0 -11.5 .5 -10 0 -10 1 34 1 2.5 0 7.5 0 -16 .5 -21.5 1.5 23.5 0 -22 .5 19.5 .5 -38.5 .5 60 0 -1 1 -19.5 4.5 15 0 -39.5 .5 14.5 1.5 2.5 0 26 .5 -67 .5 66 0 -22.5 0 -7.5 .5 35 0 -3 .5 -13.5 .5 11 .5 -16 .5 -28.5 .5 26 0 -55.5 0 14.5 1 49.5 .5 3.5 0 -54.5 1 28 0 36.5 .5 -9.5 0 -65.5 0 75.5 .5 -66 .5 38 0 -10 1 16 .5 -24 .5 19 0 15 0 6.5 .5 -20.5 .5 -2.5 0 27.5 .5 -30 0 21.5 .5 6 .5 -10 .5 -3.5 0 2 .5 -12.5 .5 8.5 .5 14 0 -56 0 62.5 .5 -14.5 0 -16.5 0 24 .5 -55.5 .5 21.5 .5 -6.5 0 0 0 43.5 1.5 -40.5 0 31.5 0 -3 0 8 1 -22.5 0 2 1 -7 0 30 0 -8.5 .5 10.5 1 -13 0 -19 .5 14 0 -2 0 5.5 .5 15 .5 -18.5 .5 8.5 0 -12.5 .5 6.5 .5 16 0 -25 0 0 .5 20 0 -.5 1 -73.5 0 52.5 .5 26 .5 -27 .5 26 1 -1 0 -28 .5 25 .5 2 .5 -18 0 -33.5 .5 55.5 0 -21.5 .5 -2.5 .5 12 0 -1 .5 6.5 .5 -5.5 .5 -3 0 -17 0 13.5 .5 -32.5 0 51 0 -78.5 0 72.5 .5 .5 .5 -24 .5 -8 0 37 1.5 -13.5 1 10 0 3 0 -17 0 -1.5 .5 9.5 1 10 1 -5.5 0 -30.5 0 -39.5 .5 23.5 0 48.5 0 -22 .5 7 0 2.5 .5 6 1 -5 .5 13.5 1 -20 0 3 .5 14 0 -9.5 0 4 1 -10.5 0 2.5 0 -38.5 1 36 .5 19 0 -27.5 0 12 1.5 3.5 0 5.5 1 6 .5 1 0 -56 .5 -12.5 1 41.5 .5 23 0 -21.5 1.5 19.5 1.5 -52.5 1.5 52.5 1.5 -58.5 0 63.5 0 -17.5 1.5 -8.5 0 14 0 -8.5 1.5 3.5 .5 9 .5 0 0 -17.5 .5 17 .5 -18.5 1.5 1 .5 21 .5 3.5 .5 -5 .5 -66 0 58 2 17.5 .5 -24 1 4 0 16.5 0 -25 0 -16 .5 30 .5 -9.5 0 -54 .5 75.5 1 -41.5 1 21.5 0 21.5 1.5 -51 0 51 .5 -53.5 .5 -52 .5 95 2 -12.5 4 -27 .5 49 0 -4.5 0 -30.5 .5 35.5 2 -28.5 .5 -2 1 10.5 .5 -10.5 0 21 7 3 1 -38 2.5 -16.5 5.5 53.5 .5 -42 .5 41.5 4 -55 9.5 -49.5 .5 106.5 16.5 .5 1.5 -92 12 75.5 60.5 -2 55.5 -9.5 20.5 9.5" fill="none" stroke="none" marker-start="url(#pm)" marker-mid="url(#pm)" marker-end="url(#pm)"/>
<path d="M170.5 1382.5l33.5 28 8.5 -20 .5 16.5 2.5 8.5 .5 -25 2 23 1 -24.5 0 12 2.5 4 3 13 1 -14.5 1.5 -14.5 .5 15 1 -18 2.5 29 1 -4 .5 10.5 .5 -11 0 -11.5 3 14.5 0 2 0 -29.5 1 25 1 -17.5 0 3 2 -9 0 26.5 0 -14.5 3 9 0 -8.5 .5 13.5 0 -12 2 -14 0 25 .5 -25 1 16.5 0 -5.5 0 -12.5 .5 17.5 0 7.5 .5 34.5 .5 -48.5 0 -3 1.5 24 1 -26.5 .5 18.5 1 -3.5 .5 2.5 2 -21 1 64.5 .5 -79 1 18 0 23.5 3 -24.5 0 -3.5 0 3.5 1.5 -18 0 22.5 .5 -23 0 17 1.5 -1 2 8 .5 25.5 0 -48 .5 45.5 1.5 -32.5 1 -11.5 0 0 1.5 18.5 .5 -19.5 1 -.5 0 23 .5 -9 .5 9.5 0 -5.5 .5 -1 0 9.5 0 -25 3 .5 .5 24.5 .5 -26.5 1 21 .5 .5 .5 -10 0 .5 .5 7 .5 -15 0 -5 .5 12.5 0 -10.5 1 59 1.5 -35.5 0 -12 .5 -6.5 1 -2 1 14.5 1 -15 0 -.5 .5 22 1.5 -23 .5 14.5 2.5 -1.5 .5 -16 2.5 3.5 1 5.5 0 -2.5 0 9 0 -16 1 6.5 1 13 .5 -14 1 -1 0 5 .5 20 0 -6 0 -24 .5 -.5 0 16.5 0 -4 0 -9.5 .5 -1 0 12 .5 -11.5 1.5 .5 1 0 2.5 11 0 3 .5 -4.5 .5 -5 0 23 .5 26.5 1 -56 2 -2.5 .5 23 0 -13 0 15 .5 -17.5 .5 0 0 8 .5 14 .5 -11.5 0 -13.5 1.5 16 0 6 .5 -6.5 .5 -15 0 -15 1.5 5 1 29.5 0 -37.5 2 2 .5 20.5 0 3 0 3 .5 -20.5 0 8 .5 5.5 .5 -16 0 15.5 0 .5 1 -20.5 .5 15.5 .5 -14.5 0 17.5 0 22.5 .5 -36.5 0 16.5 .5 -11 0 20 .5 -17 0 -7.5 .5 27 .5 -16.5 0 8.5 1.5 -10.5 1.5 -2 0 16.5 .5 -17 0 -12 .5 4.5 .5 14 0 -6 .5 14.5 .5 -13 1.5 -10 0 8.5 .5 -12 0 -4.5 1 2.5 0 1 .5 9.5 .5 8 2 -13 1 23.5 0 -5.5 1 -14 .5 4 0 1 0 6.5 .5 -19 0 16.5 1 -11.5 0 19 0 .5 0 -27 0 7 0 -.5 1 -.5 .5 -4 0 19 0 -15.5 .5 6.5 0 10.5 0 .5 .5 -19 .5 -.5 0 -.5 1 1.5 0 3 1.5 7.5 0 13 .5 -4.5 0 -10.5 .5 -4.5 0 -1.5 .5 6 0 -5.5 .5 18 .5 .5 1 6 0 -18 2.5 -9 .5 2 0 14 0 4.5 .5 -20 0 11.5 .5 -6 0 15.5 0 -23.5 .5 29 1.5 -17 .5 16 0 -2.5 .5 -4.5 0 -9.5 0 7.5 3 -19.5 .5 7 0 -.5 0 8.5 .5 14 .5 -12.5 1 -16 0 1 .5 10 1 18 0 -25.5 .5 25 0 -8.5 1 -20.5 0 26 .5 -13 0 7 .5 3 .5 -21.5 1 16 .5 -15.5 .5 2 0 -4.5 0 24 2 -17.5 0 -3 0 13 .5 -14.5 0 .5 2 15 0 -17 1.5 19.5 .5 -7.5 1 -4.5 0 20.5 0 -18.5 .5 7 .5 4.5 .5 2 0 -13 0 -2.5 0 -6.5 0 -4 1.5 5 .5 4 0 11.5 0 -16.5 .5 -.5 0 12.5 1 10 .5 -8.5 1 -4.5 0 -5 1.5 7.5 .5 6.5 1 1.5 .5 -8.5 .5 -3.5 0 22 1.5 -17 1 -9.5 0 11.5 7 -15.5 1 .5 .5 4 1.5 7 0 3.5 0 6.5 1.5 -22 1 24 0 -1.5 1 -23 .5 15.5 1 -9 1.5 18 1 -17 1 5 1 7 8.5 -5 32.5 20.5" fill="none" stroke="none" marker-start="url(#pb)" marker-mid="url(#pb)" marker-end="url(#pb)"/>
<path d="M160 1332l1.5 3.5 .5 12.5 0 -11 2 4 0 -1.5 .5 -7 .5 4 1.5 2 .5 3.5 .5 1 .5 5 .5 -11 0 14.5 0 -7 0 12.5 .5 -12 0 -10 .5 5.5 0 3.5 .5 -1.5 0 -2 .5 .5 .5 -14 .5 21.5 .5 -7.5 .5 -1 .5 -.5 0 2.5 .5 14.5 0 -2.5 1 -11.5 0 5.5 .5 -10.5 .5 15.5 0 -26.5 .5 24.5 .5 -10.5 .5 4.5 1 -.5 1 0 .5 -9.5 0 .5 0 -2 .5 9 1 5.5 .5 -6 0 1 .5 -9.5 .5 6.5 0 3.5 1 -.5 .5 -8.5 0 8.5 .5 10 .5 -2 .5 -10 0 2 .5 -1.5 1 -1 1 -5 .5 14.5 .5 -4 0 -.5 .5 9 .5 -13 .5 -8.5 .5 15.5 0 -15.5 0 6.5 .5 6.5 0 -4 0 2.5 0 -7 .5 -10 0 22.5 0 -8.5 .5 -12.5 0 12.5 .5 -1.5 .5 8.5 0 3 .5 -6 .5 -6 0 -8.5 .5 15 0 11.5 .5 -19 0 2.5 0 -5.5 0 -2 .5 9.5 0 3.5 .5 -11 0 -3.5 .5 5.5 1.5 14.5 0 -19.5 .5 1.5 0 7.5 .5 -9 0 10.5 1.5 -2.5 .5 -2.5 0 -1 .5 7.5 .5 9 1 -18.5 0 6 0 8.5 1 -9.5 .5 7.5 .5 1 0 -8 1.5 8.5 0 -14.5 0 12.5 0 -14 1.5 8 0 8 1 -10.5 .5 11 0 -13 1 12.5 .5 -17.5 0 13.5 .5 -15.5 .5 15.5 .5 -6.5 0 -10.5 .5 22 .5 -21.5 0 18.5 .5 -4.5 .5 -1.5 .5 -3 .5 11 .5 -7.5 .5 -4 0 -7.5 .5 5.5 1 11.5 .5 -10.5 1 0 0 11 1 -1.5 0 6 .5 -19.5 0 8.5 1.5 -.5 .5 7.5 0 -10 1 -8.5 .5 9.5 2 2 0 -4 0 -2 1 2 0 -3.5 .5 18.5 .5 -8.5 0 -1.5 0 -7 .5 11.5 .5 -1 1 -12 0 2.5 .5 2 0 2.5 1 -1.5 .5 7 0 1.5 .5 -5 0 -1.5 0 1 .5 11.5 .5 -7 0 4.5 0 -2.5 2 -3.5 1 -2.5 .5 -5 0 -4 0 12.5 .5 0 0 6 1 -7.5 0 -9 .5 16 .5 -14 0 4.5 .5 6.5 .5 5 0 -18 .5 2.5 1 19 .5 -9.5 0 -6.5 0 3 0 11 .5 -18.5 0 11 .5 -15.5 0 .5 1 17 1 .5 .5 3 0 -13.5 .5 -7.5 .5 18.5 0 -3.5 0 9.5 .5 -15 .5 -.5 0 8.5 .5 -9.5 0 -6.5 .5 8.5 0 -15 0 3 .5 14 .5 -11.5 0 -4 1 6 0 20.5 0 -10.5 .5 -.5 .5 -11.5 0 -3.5 .5 11 0 3.5 1 -4.5 0 7 .5 0 0 -.5 0 9 .5 -11 0 2.5 0 -18 0 22.5 0 -4.5 .5 -2 0 2.5 1 -6.5 0 16 0 -23.5 .5 18 0 1.5 .5 -3.5 0 -5 0 6 0 -9.5 .5 3.5 .5 3 0 2.5 .5 -18 0 16.5 0 -8.5 0 6.5 0 -3 .5 6 0 -13 0 1.5 0 -6 .5 11 .5 6 1 -6.5 0 13.5 0 -.5 0 -24.5 0 17 .5 -5 0 -.5 0 1 0 3 .5 -11 0 3.5 0 -1.5 .5 5.5 0 8.5 0 -9 0 -10.5 0 6.5 0 9.5 .5 9.5 0 -21 0 -1.5 0 15 0 1 .5 -7.5 0 14.5 0 -15 0 -9 0 16.5 .5 -8 0 11 0 -15 .5 -5 0 7 0 -1.5 0 .5 .5 -3 0 10 0 -4 0 -15 0 5.5 .5 5.5 0 11.5 0 8 .5 -9 0 3 0 -23 0 15.5 0 3 0 -4 .5 3 0 -1 .5 1 0 -9 0 -1.5 0 10.5 .5 -18 0 22.5 0 -8.5 .5 -3 0 12 0 -1.5 0 -24 0 12.5 0 1.5 0 -9.5 .5 17.5 0 -8 0 -2 .5 9.5 0 -7 .5 6 .5 -10.5 1.5 1 0 9.5 0 -3 0 -1 .5 2 0 3.5 0 -7.5 .5 -7 0 5.5 0 1.5 .5 -7 .5 17 0 1 .5 -4.5 0 4.5 2 -3 1 -17 0 21 0 -5 .5 -6.5 .5 -9 0 12 .5 -4.5 0 8 0 -5 0 8.5 .5 -11 .5 -11.5 0 17.5 .5 -2 .5 0 .5 0 0 9.5 0 -7 0 11.5 0 -26 .5 3.5 .5 7.5 0 .5 0 -3 .5 -1.5 .5 0 0 -8 .5 2 0 15 0 -4 0 0 .5 -7.5 .5 13.5 .5 -4 0 9 0 -11.5 .5 0 .5 0 0 0 .5 -1.5 0 6.5 .5 -13.5 .5 6 0 -12 .5 12.5 0 .5 0 4.5 .5 -8 1 6 0 3.5 0 -7.5 .5 -11 0 26 0 -9.5 .5 -7 0 2 0 -13.5 0 4.5 .5 15.5 0 -2 .5 9 0 -10.5 1 5.5 0 -1 0 -17.5 0 25.5 0 -4.5 .5 2 0 -9.5 .5 4 1 -4 .5 -18.5 .5 8.5 0 15.5 0 -5 .5 1.5 .5 -13 0 -2.5 .5 7 0 5 1 -12.5 .5 9 0 3 0 -6 0 6.5 0 -5.5 0 10 0 -4.5 0 7.5 .5 -15.5 .5 15.5 0 -3.5 0 -1 .5 3.5 0 -10.5 0 7.5 0 -8.5 .5 19 0 -15 .5 -4.5 .5 6 1 2.5 .5 2 0 -7.5 .5 -.5 0 -5.5 0 14.5 .5 -19.5 .5 11 0 -4 0 10 .5 -8 0 .5 0 -2 1 -3.5 0 14.5 .5 3 0 -14.5 1 4 0 -3 .5 -4 0 8.5 .5 10 0 -6.5 0 -8.5 0 14.5 0 -11 .5 1.5 0 -8 0 24 .5 -25 0 2.5 .5 -.5 0 5 .5 4.5 0 -1 .5 7 0 -14 0 15 0 -8.5 .5 -15 .5 16 0 1.5 .5 -5.5 0 14.5 0 -10 0 -7 .5 9.5 0 5.5 0 -4.5 .5 9 0 -7.5 0 -3.5 .5 -5.5 0 9 0 1 .5 -7 0 0 0 -5.5 1 0 0 -5 .5 15.5 0 -7.5 0 10.5 0 4 .5 2.5 0 -20 0 8.5 .5 6.5 0 2 .5 -8.5 .5 -4 1 3.5 .5 11.5 .5 -31 0 16.5 0 -.5 0 9 .5 -3.5 .5 -5 0 -2 .5 10.5 0 -20 0 6.5 0 0 .5 8 .5 -17.5 .5 18 0 -.5 0 8 0 -12.5 0 1 1.5 5 0 .5 0 -2 .5 -2.5 0 -2.5 .5 -11 0 17.5 0 -3.5 0 11 .5 -13 0 -4 .5 -10.5 0 7.5 .5 -2.5 0 8.5 0 -4 .5 .5 0 7 0 -1.5 .5 -2.5 0 -3.5 0 4.5 0 14 0 -17 0 3 .5 4.5 0 -15 0 11 0 -9 .5 14 0 -10 .5 -1 0 -.5 .5 2 0 2.5 0 5.5 0 -2 .5 -5 .5 6 1 -8.5 .5 -2.5 1 .5 .5 10 .5 -6 .5 8 0 -3.5 .5 4 1 -5.5 0 6 0 2.5 .5 -15.5 0 3 0 1.5 .5 -1.5 0 13 0 -9.5 .5 2.5 0 1 .5 13.5 0 -18.5 0 9.5 0 -1.5 1 -1 .5 -4 0 6 0 -9 .5 -5 0 10 0 -8 .5 14 0 -2 .5 4.5 0 -2 .5 -7 0 -1 0 6 0 -6.5 .5 -11.5 1 1 0 8 0 9 0 -14.5 0 1 .5 18 0 2 .5 -22 1 15.5 0 1.5 1 -11.5 0 -1 0 15 .5 -8.5 0 11 .5 -17 0 -11 .5 20.5 0 -1.5 1 -9.5 0 9.5 .5 -5.5 1 8 0 -8.5 1 -9.5 .5 9.5 0 5.5 .5 9 0 -15 .5 0 0 -8.5 .5 2 .5 15.5 0 -7 .5 -8.5 0 8 .5 17 .5 -5 0 -11.5 .5 7.5 0 -2.5 .5 -3.5 0 9 0 -5.5 .5 -2 0 1 .5 3.5 0 -15.5 0 -3.5 0 7 0 -7 .5 26.5 .5 -8.5 0 -7 0 7.5 .5 -2 .5 -1 0 -7.5 .5 3.5 .5 5 0 -9.5 0 6.5 0 13 0 -12.5 .5 -12 .5 5.5 0 5.5 .5 5.5 0 -4.5 0 -9 0 6 .5 2 .5 -7.5 .5 3 0 3 .5 3.5 .5 .5 0 5 1 -18 0 13.5 .5 5 .5 -4.5 1 6.5 0 -13 .5 12 1 -17 0 -.5 0 17 .5 -2 0 -9.5 .5 13.5 0 -6.5 .5 -4.5 0 -4 .5 8 .5 -11 0 4.5 0 -5 0 -4 0 9 .5 18.5 0 -7.5 0 -6.5 .5 6.5 0 -5.5 0 -1.5 1 8.5 0 0 .5 -2.5 .5 5 0 -29 0 2 .5 26.5 .5 -7 0 -8 .5 16 .5 -23.5 .5 7.5 .5 14.5 0 -15.5 0 10.5 1 -2 .5 12 .5 -5.5 0 -4 .5 -6 0 14 .5 -22 0 9 .5 4 .5 -2.5 0 7 0 -10.5 0 -6 1 -6.5 0 10.5 .5 -1.5 .5 11.5 0 -9 0 -8.5 .5 18.5 0 -16.5 .5 3.5 0 14 0 -8.5 0 3 0 -10 .5 7 .5 -8.5 0 9.5 .5 -5 0 16.5 1 -18 0 -3.5 0 15.5 1 -14.5 .5 20 0 -13.5 .5 8 0 -19 0 4 0 19.5 .5 -9 0 4 1 -3 0 -4 0 5.5 0 -12 .5 16.5 0 -3.5 .5 6.5 0 -5 0 -4.5 0 8 0 -26 .5 19 .5 -3.5 .5 0 0 -10.5 0 13.5 1.5 6 1 -13.5 .5 -2.5 .5 6.5 0 -4 0 3.5 .5 -1.5 0 -6 .5 7 .5 8.5 0 -4.5 .5 5 0 -17.5 .5 14 0 1 .5 -11 0 12.5 0 -7 0 -10.5 .5 4 1 5.5 0 -8 .5 11 0 -15.5 .5 16.5 0 -12 0 10 1 1.5 1 -6 0 9.5 .5 -6.5 0 0 0 -2.5 .5 -.5 .5 0 0 1.5 .5 12.5 1 -5.5 0 -8 .5 4 0 5.5 0 -12 1.5 14 .5 -17.5 0 -.5 0 8 .5 4 .5 -10.5 .5 18 .5 -17.5 0 1.5 0 16 .5 -16.5 0 -2.5 .5 -3.5 .5 14.5 .5 8.5 .5 -17.5 0 12.5 .5 -5 0 6 .5 -15.5 0 7.5 .5 -10.5 .5 8 0 2 .5 9.5 .5 -1.5 .5 3.5 .5 -10.5 0 -6 1 15.5 0 -13.5 .5 8.5 0 -1.5 0 -1.5 1.5 3 1 -17.5 2 5.5 1 0 1 13.5 0 -9 2 11.5 1.5 -10 .5 -5.5 .5 -.5 0 15 0 -3.5 .5 -16 0 19 .5 5 0 -14.5 0 5 0 -11 .5 16.5 0 -15 .5 0 1 6.5 1 -7 0 10 .5 -17.5 1 17 .5 -5.5 1.5 11.5 1 -7 0 -1 .5 -4.5 0 -6.5 .5 20 0 0 .5 -15 0 -2.5 .5 -.5 .5 14 0 5.5 0 -7.5 0 -9.5 0 0 1.5 0 0 12 0 -5.5 .5 -2.5 1.5 -.5 0 -7 0 18 1.5 -1 .5 -5.5 .5 -7.5 1.5 8.5 0 5.5 0 -14 1 2.5 .5 -9 18 4.5 9 17" fill="none" stroke="none" marker-start="url(#pk)" marker-mid="url(#pk)" marker-end="url(#pk)"/>
<g filter="url(#bl)"><g transform="rotate(-2.5 333.5 1342.1)"><ellipse cx="333.5" cy="1342.1" rx="59.0" ry="14.6"/><rect x="278.7" y="1328.4" width="109.7" height="27.3" rx="13.7"/></g></g>
</g>
<g clip-path="url(#c13)">
<ellipse cx="854.5" cy="1318.3" rx="34.0" ry="10.8" fill="#b53cb8" fill-opacity="0.25" filter="url(#bl)"/>
<ellipse cx="835.2" cy="1367.0" rx="19.3" ry="7.4" fill="#4585c4" fill-opacity="0.25" filter="url(#bl)"/>
<path d="M700 1292l64 -44.5 5.5 15 13.5 -19 1 49 12 -11 3 15 1 -13 .5 -34 4 49.5 .5 -10 2 -17.5 .5 54.5 7.5 -4 2 -15.5 3.5 -12 0 29.5 0 -22 .5 26.5 2 -28.5 .5 11.5 0 10.5 .5 -75.5 .5 51.5 0 27.5 1 -61.5 2 -17.5 0 30.5 0 31.5 .5 -8.5 .5 10 1 -12.5 .5 21 0 -4.5 0 -7 1 20 .5 -2.5 1 -5.5 0 -62 .5 67.5 0 -35.5 .5 2.5 .5 34 0 -14 1 -11 0 22.5 .5 -31 .5 9 1 24 .5 -32.5 .5 7.5 .5 -.5 0 25 .5 -78.5 1.5 55.5 1 22.5 0 -7.5 .5 -48.5 2 59.5 1 -8.5 0 -67 1.5 42 0 30 .5 -16 .5 -9 0 13 1 -2.5 .5 -43.5 0 56.5 .5 -21.5 .5 12.5 0 -25.5 0 19 1 11.5 0 5 1 -19 0 16 .5 -73 .5 51 2 5 0 -35 .5 22 0 26.5 .5 -37 2 5.5 0 22 0 5.5 1.5 3 .5 11.5 0 -4.5 .5 -4.5 .5 -20.5 0 -40 1 47.5 .5 -.5 .5 -2.5 1 27.5 1 -12 .5 -2 0 4.5 0 -18 .5 23.5 0 -14.5 0 -15 .5 -14 0 36 1 8 .5 -15.5 0 8.5 1 7.5 0 -45 .5 32 0 -19 .5 -25.5 0 15.5 .5 -18.5 0 51 .5 6 0 -12.5 .5 12 0 -22.5 1 4.5 1.5 -8.5 0 6 1.5 -6.5 1 .5 1 23 1 -4 .5 7 .5 -7.5 .5 -18 0 13.5 2 6 2 -38.5 .5 24 .5 12 1.5 -24 .5 29 2 -41.5 .5 20 .5 5 2 3 .5 22 0 -1 2 -51.5 0 -2.5 .5 53 1.5 -19.5 .5 -.5 0 -2.5 1 3.5 .5 -34 .5 50.5 1 -68.5 1 -1.5 .5 47 1.5 -5.5 3 30.5 1.5 2.5 4.5 -66 2 54.5 1.5 -55 6.5 33 0 -5.5 .5 -31.5 1 10.5 3 -8.5 25 23" fill="none" stroke="none" marker-start="url(#pm)" marker-mid="url(#pm)" marker-end="url(#pm)"/>
<path d="M679 1429.5l4.5 -36 1.5 16 3 -8.5 1 -4.5 2.5 4 3 15.5 1.5 -2.5 7 0 .5 17 2 -28 2.5 -6 3.5 0 2 15.5 4.5 -12.5 2.5 17 6 -.5 .5 -16.5 1 1 .5 24.5 2 -27.5 0 21.5 1 3.5 .5 -23 .5 11 0 12.5 1.5 4 1.5 -29.5 1 14.5 .5 10.5 1.5 -7 1.5 8.5 0 -19 .5 10.5 1 -1 2 -7 2.5 7 .5 -3.5 0 -12.5 4 16.5 3 7.5 2 -8.5 .5 19 5 -43.5 2 15.5 2 -17 0 29 1 -10 .5 -7.5 1 -24.5 0 22 0 4.5 2.5 6.5 1 9 .5 11.5 .5 -14 1 -2.5 0 1.5 3.5 -41.5 0 57.5 5.5 0 0 -58.5 1.5 58 0 -51.5 1 2 .5 37.5 .5 -18.5 0 -24.5 .5 20 .5 5.5 1.5 -4 1.5 -4 .5 -19 1 13.5 5 2 1 -6.5 3 -3.5 0 -17 2.5 -2.5 .5 20.5 .5 3.5 2.5 -19 .5 30 1.5 -32 0 14.5 .5 -16.5 2.5 19 0 -20.5 .5 14.5 1 3 2.5 3.5 0 -12 0 8.5 .5 8 0 -18 .5 -8 1 15 .5 -2.5 .5 2 1 19 .5 -13.5 .5 1.5 0 -10 0 10 .5 -5 .5 -4 1 22 .5 -15.5 1 -2 0 -12 .5 5.5 0 4 0 -10.5 .5 7 .5 5.5 .5 -6 .5 -2 .5 11 0 -1 3 -2 .5 0 0 -6.5 .5 13 1.5 -5 1 0 0 -1 1 -11.5 1.5 37.5 .5 -32 0 -8.5 0 1.5 1 7.5 0 4.5 .5 -8 .5 13 .5 2.5 1 12 1 -20 0 -.5 3.5 -10 0 -4.5 0 39 0 -35.5 .5 14.5 1 -10.5 4 -6.5 .5 16 1.5 -14 1.5 12.5 0 4 .5 -16.5 4 9 2 3 .5 -13.5 .5 34.5 0 0 1 -28.5 .5 19 1 -12 .5 .5 1 5 .5 -10.5 2.5 12.5 1 4 1 13 1 -32.5 1 37.5 4.5 -33.5 2 31.5 6.5 -32 4.5 -8 3 24.5 4 -16.5 1.5 -3 1.5 -6 1 .5 1.5 2 0 3 1.5 19 12 -7.5" fill="none" stroke="none" marker-start="url(#pb)" marker-mid="url(#pb)" marker-end="url(#pb)"/>
<path d="M653.5 1354l4 -7 .5 -5 1.5 -4 .5 6.5 1.5 -13 0 -3 .5 9 0 7 .5 11.5 .5 -19.5 0 18 .5 .5 0 .5 0 -8 .5 8 0 -2 .5 1 0 -7 .5 8 .5 -23 .5 23 .5 -22.5 2 12.5 0 4.5 .5 -9 0 14.5 1.5 1 0 -22.5 0 10.5 .5 -4 0 16.5 1 -11.5 0 8.5 0 -11.5 .5 -7.5 0 7.5 0 -2 .5 -6 0 5 0 15.5 0 -3.5 .5 -10.5 0 -2.5 .5 9.5 .5 -2 .5 9 0 -19 .5 3.5 0 14.5 .5 -1.5 .5 -13.5 .5 10 1 6.5 0 -.5 .5 -23.5 0 22.5 1 .5 0 -8 1 8 0 1 .5 -13 0 13 .5 -12 0 -5 .5 12.5 0 -12.5 .5 .5 1 2.5 .5 -1.5 0 1.5 .5 -7 .5 20.5 0 -17 1 2.5 .5 15 1.5 -11.5 .5 -4.5 .5 4.5 1 -8 .5 .5 .5 6.5 .5 -1 .5 4.5 .5 1 1.5 -15.5 1 3 .5 11.5 0 -11 .5 7.5 0 -2 .5 -2 0 -4 0 3.5 1 -2.5 .5 4.5 .5 7 1.5 -7 0 -5 .5 5.5 .5 5 2 -7.5 .5 8 .5 -13 0 21 0 -9 .5 3.5 .5 -7.5 .5 -1 0 .5 1 -6.5 0 7.5 .5 2.5 .5 -8.5 .5 4 .5 -8 .5 5 0 2 1 -10.5 1 3 .5 5.5 .5 1.5 0 -.5 .5 -.5 .5 -5 1 13 0 -6 0 -7 1 13 .5 7.5 0 -12.5 .5 6 .5 -2.5 0 1 0 0 0 4.5 .5 -2 1 -3.5 .5 5 0 1 .5 -9.5 .5 5 0 -2 .5 -7.5 .5 16 0 -11 1.5 5 1 -3 .5 -12 1.5 10.5 .5 -7 0 4 1 4.5 .5 -4 0 3 .5 -2.5 0 -8.5 1.5 9.5 .5 3.5 .5 10.5 1 -9 0 -13 1 14.5 0 -4 1 -7.5 .5 11 0 3 .5 -8.5 0 4.5 .5 -11.5 0 11.5 .5 -2.5 .5 8 0 -22 .5 11.5 0 1.5 0 9.5 .5 -9 0 11 .5 -23.5 0 7.5 0 -5 .5 3.5 0 12 .5 -10 1 12 .5 -8.5 .5 -3 0 -3.5 .5 8 0 -7.5 .5 -6 .5 24 0 -18.5 0 10 .5 10 .5 -6 0 2.5 0 -5 0 8.5 0 -10.5 1 -12 0 1 0 8.5 .5 6 0 8 0 -17.5 .5 3.5 0 4.5 .5 -16 0 10 1 12 0 -25.5 0 18 0 6 0 -4 0 -7 .5 -4 0 3.5 .5 -8 .5 4.5 0 4 0 -3 .5 10 0 -9.5 .5 8.5 1 -11 0 16.5 0 -5.5 0 -5.5 0 16.5 .5 -15 0 -5 .5 4 0 -.5 0 3 0 5.5 0 -12 0 13 0 -4 .5 -18 0 20.5 0 -9.5 0 9 0 1 0 3 0 -4.5 .5 -2 .5 9.5 0 -19.5 0 22.5 0 -11.5 0 -6.5 .5 7.5 0 -2 .5 -5 0 5 0 2.5 0 .5 0 -10 .5 1.5 0 -11 0 10.5 .5 4 .5 -7.5 0 -1.5 0 2 0 -3.5 .5 21.5 0 -19 .5 12.5 0 -9.5 0 7 .5 -.5 .5 4.5 0 -6 .5 4 0 -9 .5 -7.5 0 14.5 .5 -1.5 0 3.5 0 -18 0 23.5 0 -10 1.5 11.5 .5 -26 .5 16 0 -10.5 .5 14.5 0 -7 0 11.5 1 -16.5 .5 -4 0 12.5 0 -9 .5 14 .5 1.5 0 -7.5 0 5 .5 4 0 -11.5 0 2 0 -5 .5 4.5 .5 -15.5 0 2 1 9 .5 9.5 0 -7.5 .5 8.5 .5 -11.5 0 12.5 .5 -21 0 19.5 .5 -5.5 0 -10 0 21 .5 -6 0 -14 0 -9 0 20.5 .5 -17.5 0 14.5 0 0 .5 -1.5 .5 2 .5 4 .5 5.5 0 -12 0 -6.5 1 3 .5 1 0 1 0 6 .5 12 0 -27.5 .5 4 .5 0 0 4 .5 -1.5 .5 9 0 -8 .5 11 0 -21 .5 20 .5 -1.5 .5 -11.5 .5 16.5 1 -19 0 8 0 16 0 -11 0 -7 0 15.5 .5 -22 0 1.5 .5 16.5 0 -21.5 0 16 0 9 0 -24.5 0 -2 .5 23 0 -2 0 7 0 -11 .5 11 .5 -21.5 0 1 0 5.5 .5 18 .5 -12 0 -4.5 0 -.5 0 -13 0 6.5 .5 -1.5 .5 14 0 6 1 -20.5 0 1.5 1 15.5 0 -12.5 .5 12.5 .5 2.5 0 -15.5 0 -1 .5 11 0 -15 .5 27 0 -28 .5 8.5 0 -5.5 0 0 .5 13 0 -3 0 8 0 -6 .5 -4.5 0 2.5 .5 -4 0 2.5 1.5 -7 0 6.5 0 5 .5 -6 0 -4 .5 9 .5 -4.5 0 8 0 -9 1.5 -2 0 6 1 -12.5 0 .5 .5 17.5 0 -7.5 0 -2.5 1 1.5 .5 -5 0 13.5 0 -5 .5 -.5 0 -3 0 -13.5 .5 26 0 -11 0 1 0 -7.5 .5 14.5 0 -22.5 0 8 0 -1.5 .5 18 0 -1.5 .5 -7.5 1 0 0 -3.5 .5 -5 .5 6 0 -4.5 0 -.5 .5 12 0 -15.5 .5 10 0 9.5 .5 -24.5 0 12.5 .5 6.5 0 8.5 0 -11.5 .5 7.5 0 -10.5 0 9 0 -8.5 .5 -3.5 0 8.5 0 -14.5 .5 15.5 0 2 0 -4.5 0 -8 .5 7 0 15.5 0 -17 .5 -8 0 9.5 0 -4 0 -14 .5 13.5 .5 2 1 16 .5 -7.5 0 -8 .5 -6.5 .5 -8 .5 12.5 0 4 0 10 2 -3.5 0 -3.5 .5 -16 0 9.5 0 4.5 1 6 0 1 1 -24 .5 17.5 .5 -14.5 0 15 .5 13.5 .5 -20 0 1.5 0 14 0 -8 0 -9 .5 13 1.5 -.5 0 8.5 .5 -13.5 .5 -4 0 -1.5 0 1.5 .5 -4 0 4 0 -11.5 .5 9.5 .5 0 0 12 0 -6 1 -4.5 0 -.5 .5 12.5 .5 -14 0 6.5 0 -3.5 .5 -2.5 .5 9 0 5 0 -19.5 .5 5.5 0 -14 .5 26 .5 -1 .5 -15 0 18 0 -.5 .5 -13.5 .5 10.5 0 1.5 .5 -9 0 -1.5 .5 6 .5 -.5 1 -18 .5 15 2 6 .5 3.5 0 -2.5 .5 6 .5 -20.5 .5 2 .5 6.5 0 -5.5 0 1.5 .5 7.5 .5 2 0 -14 0 -5 0 22.5 .5 -17 .5 9 .5 -5 0 1.5 .5 -13.5 0 5 .5 26 0 -16 0 10 0 -23 .5 22.5 0 -15 0 7.5 0 -14 0 21 .5 7 .5 -15 .5 -9.5 .5 -9 .5 25 0 .5 1 -12 0 8 .5 -8 0 5 .5 6 .5 -14 1 5.5 0 0 1 5 0 -12 0 11 .5 -7 0 9 0 -12.5 2 7.5 0 -10 .5 14 0 -17.5 0 13 0 1 .5 2 .5 -1.5 .5 14 .5 -8 1 -11 .5 15.5 .5 4.5 0 -10 0 3 .5 3 .5 -22 .5 12.5 0 .5 .5 8.5 0 -4 .5 -11.5 0 8 0 -11.5 .5 7 .5 8.5 0 -6 .5 -15.5 0 17 .5 -13 0 20 .5 -15 0 -3 1 5.5 .5 17.5 .5 -14.5 0 -5 .5 3 0 13.5 0 -15.5 0 -.5 .5 4.5 0 -17.5 .5 15 .5 9.5 0 -16 0 11 0 2 .5 7 .5 -18 .5 24.5 0 -23 .5 -3 .5 20.5 0 -2.5 0 7.5 1 -23.5 0 8 .5 -5.5 0 5 0 15.5 .5 -12 0 -9.5 1 9 0 -10 .5 14.5 0 -18.5 .5 26 .5 -3.5 0 1 0 -28 .5 23.5 .5 -8.5 0 7.5 .5 -2 1 -22.5 0 13 .5 2 0 -.5 0 -13.5 .5 13 0 -13 1 5 0 9.5 0 3 0 3 0 -1 .5 5.5 0 -8.5 0 -2 0 -5 0 1.5 .5 2 0 1.5 0 -5.5 .5 13 0 -14.5 0 -2.5 0 21.5 .5 2 0 -11.5 0 -15 .5 15.5 0 -9 0 -1 0 17 0 7 .5 -31.5 0 15.5 .5 -4.5 .5 .5 0 -8.5 0 4.5 .5 9.5 0 -2.5 .5 10.5 .5 -11 0 .5 0 8 .5 8.5 0 -22 .5 -1.5 0 .5 0 9 .5 8 0 -24 .5 22.5 0 -6 1 -2 .5 2.5 .5 -15.5 .5 17.5 0 -14.5 0 10.5 0 6.5 1 -8.5 0 -5 .5 9 0 -12.5 0 7.5 .5 4 0 -8.5 0 16.5 .5 -19 .5 23 0 -2 1 -10.5 0 -.5 0 -4 0 14.5 .5 -8.5 0 -14 0 14.5 0 -13 0 5 .5 7 1 7 0 -5.5 .5 -4.5 .5 -5.5 .5 -11.5 .5 6 .5 21.5 0 -3.5 0 -16.5 0 11 .5 -.5 0 14.5 0 -14.5 0 -4 .5 15.5 .5 -12.5 0 1.5 0 -4.5 0 8.5 0 -20 1 16.5 0 -1.5 0 6 0 -17.5 0 -.5 0 7.5 1 14 0 -13 0 15 0 -16.5 .5 3 0 9 0 1.5 0 -1.5 0 -12 0 4.5 0 4.5 0 -8 0 -10.5 0 15.5 .5 -1.5 0 -5 .5 3.5 0 9 0 -22 0 22 .5 -6 0 -6 0 5 .5 -10.5 0 13.5 .5 -14 0 23.5 0 -22 0 10.5 0 10 .5 -27.5 0 17.5 0 .5 1 -1 0 -4.5 1 -2 1 -6 0 19 0 -6.5 0 -.5 0 0 1 -14.5 0 6.5 0 10.5 .5 -2 .5 10.5 0 -2.5 .5 -11.5 0 8.5 0 -3.5 0 -13 0 13.5 .5 -16.5 0 8.5 .5 18.5 1 -19.5 0 .5 0 12 .5 -14 0 -1 0 10.5 .5 2.5 .5 -10 0 13 .5 -19.5 0 10.5 0 -5 1 13 0 0 .5 -14 0 14.5 .5 -2.5 0 -7.5 0 8.5 .5 -3 0 -1.5 0 -16.5 .5 10 .5 17.5 1 -22.5 0 15 0 -9 .5 3.5 0 7 0 1.5 1 -17 .5 23.5 0 4.5 0 -8 0 1 0 5.5 .5 -9 1 -4 0 -11.5 0 -2.5 .5 0 0 16 0 2.5 .5 -.5 1 1.5 .5 -2 .5 -15 .5 17.5 0 -9 1 7.5 .5 -.5 .5 -8.5 1.5 12 3.5 -23 .5 12.5 .5 5.5 .5 -6.5 .5 1 0 -3 .5 14 2 -22 .5 14 .5 -5.5 1 10 0 -8.5 .5 -6.5 1.5 -4 2 11.5 0 6 1 -4 2 6 .5 -7 1.5 2 .5 5 1 -.5 1.5 7 0 -16 2.5 -3.5 .5 6.5 1 -7 0 -4 .5 13 0 0 1.5 -1.5 0 7.5 0 -5 0 -7.5 0 5 .5 3 0 .5 .5 3.5 .5 -8 1 .5 1 -8 0 8.5 3 -12.5 .5 13.5 1 4 .5 -7 .5 -1 .5 -10.5 .5 -.5 1 25 0 -2.5 2.5 -17 .5 10 .5 7 0 .5 2 -13 2.5 7 1.5 7 51 -10 55.5 4.5 20.5 -6" fill="none" stroke="none" marker-start="url(#pk)" marker-mid="url(#pk)" marker-end="url(#pk)"/>
<g filter="url(#bl)"><g><ellipse cx="830.7" cy="1342.6" rx="71.4" ry="15.9"/><rect x="764.2" y="1327.8" width="132.9" height="29.7" rx="14.8"/></g></g>
</g></g>
<rect x="143.6" y="45.1" width="477.1" height="311.1" fill="none" stroke="#000" stroke-width="4.2"/>
<rect x="640.4" y="45.1" width="477.5" height="311.2" fill="none" stroke="#000" stroke-width="4.2"/>
<rect x="1144.9" y="44.9" width="477.2" height="311" fill="none" stroke="#000" stroke-width="4.2"/>
<rect x="1641.8" y="44.9" width="477.8" height="311.3" fill="none" stroke="#000" stroke-width="4.2"/>
<rect x="143.4" y="424.4" width="477.1" height="310.9" fill="none" stroke="#000" stroke-width="4.2"/>
<rect x="645.6" y="424.4" width="476.8" height="310.7" fill="none" stroke="#000" stroke-width="4.2"/>
<rect x="1147.5" y="424.4" width="469.9" height="310.4" fill="none" stroke="#000" stroke-width="4.2"/>
<rect x="1642.1" y="426.9" width="477.4" height="310.3" fill="none" stroke="#000" stroke-width="4.2"/>
<rect x="149.9" y="801.3" width="477.2" height="310" fill="none" stroke="#000" stroke-width="4.2"/>
<rect x="641.1" y="801.4" width="476.9" height="309.9" fill="none" stroke="#000" stroke-width="4.2"/>
<rect x="1138.4" y="799.9" width="476.9" height="310.1" fill="none" stroke="#000" stroke-width="4.2"/>
<rect x="1636.7" y="794.7" width="477.4" height="311" fill="none" stroke="#000" stroke-width="4.2"/>
<rect x="144.7" y="1186.1" width="477.1" height="310.4" fill="none" stroke="#000" stroke-width="4.2"/>
<rect x="641.4" y="1186.7" width="476.9" height="309.8" fill="none" stroke="#000" stroke-width="4.2"/>
<rect x="450.5" y="4.5" width="157" height="60" fill="#fff" stroke="#000" stroke-width="4.2"/>
<text x="528.5" y="43.6" text-anchor="middle" font-weight="bold" font-size="31.5" xml:space="preserve" transform="translate(528.5 0) scale(0.96 1) translate(-528.5 0)"><tspan fill="#000">s</tspan><tspan font-size="17.5" dy="9.8" fill="#000">vs</tspan><tspan fill="#e3203f" dy="-9.8">S</tspan><tspan fill="#000"> (</tspan><tspan fill="#e3203f">NO</tspan><tspan fill="#000">)</tspan></text>
<text x="605.4" y="306.7" text-anchor="end" font-size="26.5">232</text>
<text x="548.5" y="306.7" text-anchor="end" font-size="26.5">+</text>
<text x="605.8" y="337.2" text-anchor="end" font-size="26.5">188</text>
<text x="548.9" y="337.2" text-anchor="end" font-size="26.5">-</text>
<rect x="946.1" y="4.7" width="157" height="59.7" fill="#fff" stroke="#000" stroke-width="4.2"/>
<text x="1023.9" y="43.5" text-anchor="middle" font-weight="bold" font-size="31.5" xml:space="preserve" transform="translate(1023.9 0) scale(0.96 1) translate(-1023.9 0)"><tspan fill="#000">s</tspan><tspan font-size="17.5" dy="9.8" fill="#000">vs</tspan><tspan fill="#e3203f" dy="-9.8">S</tspan><tspan fill="#000"> (</tspan><tspan fill="#000">n</tspan><tspan fill="#e3203f">O</tspan><tspan fill="#000">)</tspan></text>
<text x="1107.3" y="316.7" text-anchor="end" font-size="26.5">419</text>
<text x="1050.3" y="316.7" text-anchor="end" font-size="26.5">+</text>
<text x="1107.5" y="347.5" text-anchor="end" font-size="26.5">246</text>
<text x="1050.7" y="347.5" text-anchor="end" font-size="26.5">-</text>
<rect x="1442.5" y="4.3" width="156.6" height="59.6" fill="#fff" stroke="#000" stroke-width="4.2"/>
<text x="1520.7" y="44" text-anchor="middle" font-weight="bold" font-size="31.5" xml:space="preserve" transform="translate(1520.7 0) scale(0.96 1) translate(-1520.7 0)"><tspan fill="#e3203f">H</tspan><tspan font-size="17.5" dy="9.8" fill="#000">vs</tspan><tspan fill="#e3203f" dy="-9.8">S</tspan><tspan fill="#000"> (</tspan><tspan fill="#e3203f">NO</tspan><tspan fill="#000">)</tspan></text>
<text x="1606.5" y="317.6" text-anchor="end" font-size="26.5">359</text>
<text x="1549.4" y="317.6" text-anchor="end" font-size="26.5">+</text>
<text x="1606.7" y="348.3" text-anchor="end" font-size="26.5">449</text>
<text x="1550.2" y="348.3" text-anchor="end" font-size="26.5">-</text>
<rect x="1940.9" y="5.1" width="156.7" height="59.7" fill="#fff" stroke="#000" stroke-width="4.2"/>
<text x="2018.5" y="43.5" text-anchor="middle" font-weight="bold" font-size="31.5" xml:space="preserve" transform="translate(2018.5 0) scale(0.96 1) translate(-2018.5 0)"><tspan fill="#e3203f">H</tspan><tspan font-size="17.5" dy="9.8" fill="#000">vs</tspan><tspan fill="#e3203f" dy="-9.8">S</tspan><tspan fill="#000"> (</tspan><tspan fill="#000">n</tspan><tspan fill="#e3203f">O</tspan><tspan fill="#000">)</tspan></text>
<text x="2108.2" y="317.8" text-anchor="end" font-size="26.5">438</text>
<text x="2051.3" y="317.8" text-anchor="end" font-size="26.5">+</text>
<text x="2105.9" y="348.4" text-anchor="end" font-size="26.5">401</text>
<text x="2052.2" y="348.4" text-anchor="end" font-size="26.5">-</text>
<rect x="450.6" y="387.1" width="156.7" height="59.2" fill="#fff" stroke="#000" stroke-width="4.2"/>
<text x="528.7" y="425.8" text-anchor="middle" font-weight="bold" font-size="31.5" xml:space="preserve" transform="translate(528.7 0) scale(0.96 1) translate(-528.7 0)"><tspan fill="#e3203f">H</tspan><tspan font-size="17.5" dy="9.8" fill="#000">vs</tspan><tspan fill="#e3203f" dy="-9.8">s</tspan><tspan fill="#000"> (</tspan><tspan fill="#e3203f">NO</tspan><tspan fill="#000">)</tspan></text>
<text x="609.6" y="697.3" text-anchor="end" font-size="26.5">109</text>
<text x="553.4" y="697.3" text-anchor="end" font-size="26.5">+</text>
<text x="609.8" y="727.8" text-anchor="end" font-size="26.5">150</text>
<text x="553.6" y="727.8" text-anchor="end" font-size="26.5">-</text>
<rect x="946.4" y="385.4" width="156.5" height="59.7" fill="#fff" stroke="#000" stroke-width="4.2"/>
<text x="1023" y="425.3" text-anchor="middle" font-weight="bold" font-size="31.5" xml:space="preserve" transform="translate(1023 0) scale(0.96 1) translate(-1023 0)"><tspan fill="#e3203f">H</tspan><tspan font-size="17.5" dy="9.8" fill="#000">vs</tspan><tspan fill="#000" dy="-9.8">s</tspan><tspan fill="#000"> (</tspan><tspan fill="#000">n</tspan><tspan fill="#e3203f">O</tspan><tspan fill="#000">)</tspan></text>
<text x="1111.3" y="695.9" text-anchor="end" font-size="26.5">82</text>
<text x="1055.1" y="695.9" text-anchor="end" font-size="26.5">+</text>
<text x="1108.4" y="726.9" text-anchor="end" font-size="26.5">321</text>
<text x="1055.2" y="726.9" text-anchor="end" font-size="26.5">-</text>
<rect x="1442.7" y="387.6" width="156.3" height="58.5" fill="#fff" stroke="#000" stroke-width="4.2"/>
<text x="1521.7" y="424.8" text-anchor="middle" font-weight="bold" font-size="31.5" xml:space="preserve" transform="translate(1521.7 0) scale(0.96 1) translate(-1521.7 0)"><tspan fill="#000">w</tspan><tspan font-size="17.5" dy="9.8" fill="#000">vs</tspan><tspan fill="#e3203f" dy="-9.8">S</tspan><tspan fill="#000"> (</tspan><tspan fill="#000">n</tspan><tspan fill="#e3203f">O</tspan><tspan fill="#000">)</tspan></text>
<text x="1598" y="698.4" text-anchor="end" font-size="26.5">308</text>
<text x="1541.3" y="698.4" text-anchor="end" font-size="26.5">+</text>
<text x="1598.1" y="728.6" text-anchor="end" font-size="26.5">265</text>
<text x="1541.8" y="728.6" text-anchor="end" font-size="26.5">-</text>
<rect x="1940.8" y="387.1" width="156.9" height="59.8" fill="#fff" stroke="#000" stroke-width="4.2"/>
<text x="2022" y="425.1" text-anchor="middle" font-weight="bold" font-size="31.5" xml:space="preserve" transform="translate(2022 0) scale(0.96 1) translate(-2022 0)"><tspan fill="#000">w</tspan><tspan font-size="17.5" dy="9.8" fill="#000">vs</tspan><tspan fill="#000" dy="-9.8">s</tspan><tspan fill="#000"> (</tspan><tspan fill="#000">n</tspan><tspan fill="#e3203f">O</tspan><tspan fill="#000">)</tspan></text>
<text x="2082.5" y="698.1" text-anchor="end" font-size="26.5">192</text>
<text x="2009.6" y="698.1" font-size="26.5">+</text>
<text x="2082.8" y="728.9" text-anchor="end" font-size="26.5">179</text>
<text x="2009.7" y="728.9" font-size="26.5">-</text>
<rect x="450.8" y="759.5" width="156.4" height="59.1" fill="#fff" stroke="#000" stroke-width="4.2"/>
<text x="529.5" y="795.4" text-anchor="middle" font-weight="bold" font-size="31.5" xml:space="preserve" transform="translate(529.5 0) scale(0.96 1) translate(-529.5 0)"><tspan fill="#000">w</tspan><tspan font-size="17.5" dy="9.8" fill="#000">vs</tspan><tspan fill="#e3203f" dy="-9.8">H</tspan><tspan fill="#000">(</tspan><tspan fill="#000">n</tspan><tspan fill="#e3203f">O</tspan><tspan fill="#000">)</tspan></text>
<text x="605" y="1068.6" text-anchor="end" font-size="26.5">245</text>
<text x="548.5" y="1068.6" text-anchor="end" font-size="26.5">+</text>
<text x="605.8" y="1098.8" text-anchor="end" font-size="26.5">132</text>
<text x="549" y="1098.8" text-anchor="end" font-size="26.5">-</text>
<rect x="946.9" y="759.5" width="155.7" height="59.1" fill="#fff" stroke="#000" stroke-width="4.2"/>
<text x="1027.5" y="796.5" text-anchor="middle" font-weight="bold" font-size="31.5" xml:space="preserve" transform="translate(1027.5 0) scale(0.96 1) translate(-1027.5 0)"><tspan fill="#000">n</tspan><tspan font-size="17.5" dy="9.8" fill="#000">vs</tspan><tspan fill="#e3203f" dy="-9.8">N</tspan><tspan fill="#000"> (</tspan><tspan fill="#e3203f">HO</tspan><tspan fill="#000">)</tspan></text>
<text x="1108.3" y="1072.6" text-anchor="end" font-size="26.5">104</text>
<text x="1052.3" y="1072.6" text-anchor="end" font-size="26.5">+</text>
<text x="1109.6" y="1103" text-anchor="end" font-size="26.5">132</text>
<text x="1052.2" y="1103" text-anchor="end" font-size="26.5">-</text>
<rect x="1442.6" y="759.5" width="156.3" height="59.1" fill="#fff" stroke="#000" stroke-width="4.2"/>
<text x="1523.8" y="797" text-anchor="middle" font-weight="bold" font-size="31.5" xml:space="preserve" transform="translate(1523.8 0) scale(0.96 1) translate(-1523.8 0)"><tspan fill="#000">n</tspan><tspan font-size="17.5" dy="9.8" fill="#000">vs</tspan><tspan fill="#e3203f" dy="-9.8">N</tspan><tspan fill="#000"> (</tspan><tspan fill="#e3203f">SO</tspan><tspan fill="#000">)</tspan></text>
<text x="1604.4" y="1070.6" text-anchor="end" font-size="26.5">365</text>
<text x="1548.3" y="1070.6" text-anchor="end" font-size="26.5">+</text>
<text x="1604.6" y="1101.2" text-anchor="end" font-size="26.5">477</text>
<text x="1548.2" y="1101.2" text-anchor="end" font-size="26.5">-</text>
<rect x="1941.2" y="759.7" width="155.8" height="58.8" fill="#fff" stroke="#000" stroke-width="4.2"/>
<text x="2020.9" y="797" text-anchor="middle" font-weight="bold" font-size="31.5" xml:space="preserve" transform="translate(2020.9 0) scale(0.96 1) translate(-2020.9 0)"><tspan fill="#000">n</tspan><tspan font-size="17.5" dy="9.8" fill="#000">vs</tspan><tspan fill="#e3203f" dy="-9.8">N</tspan><tspan fill="#000"> (</tspan><tspan fill="#000">s</tspan><tspan fill="#e3203f">O</tspan><tspan fill="#000">)</tspan></text>
<text x="2084.2" y="1068.4" text-anchor="end" font-size="26.5">264</text>
<text x="2019.7" y="1068.4" font-size="26.5">+</text>
<text x="2085.9" y="1099" text-anchor="end" font-size="26.5">57</text>
<text x="2019.8" y="1099" font-size="26.5">-</text>
<rect x="450.8" y="1143.3" width="156.4" height="59.4" fill="#fff" stroke="#000" stroke-width="4.2"/>
<text x="528.6" y="1180.8" text-anchor="middle" font-weight="bold" font-size="31.5" xml:space="preserve" transform="translate(528.6 0) scale(0.96 1) translate(-528.6 0)"><tspan fill="#000">o</tspan><tspan font-size="17.5" dy="9.8" fill="#000">vs</tspan><tspan fill="#e3203f" dy="-9.8">O</tspan><tspan fill="#000"> (</tspan><tspan fill="#e3203f">SN</tspan><tspan fill="#000">)</tspan></text>
<text x="614" y="1455" text-anchor="end" font-size="26.5">290</text>
<text x="548.4" y="1455" font-size="26.5">+</text>
<text x="610.6" y="1485.5" text-anchor="end" font-size="26.5">331</text>
<text x="548.2" y="1485.5" font-size="26.5">-</text>
<rect x="946.9" y="1143.9" width="155.7" height="58.8" fill="#fff" stroke="#000" stroke-width="4.2"/>
<text x="1028" y="1180.5" text-anchor="middle" font-weight="bold" font-size="31.5" xml:space="preserve" transform="translate(1028 0) scale(0.96 1) translate(-1028 0)"><tspan fill="#000">o</tspan><tspan font-size="17.5" dy="9.8" fill="#000">vs</tspan><tspan fill="#e3203f" dy="-9.8">O</tspan><tspan fill="#000"> (</tspan><tspan fill="#e3203f">H</tspan><tspan fill="#000">n</tspan><tspan fill="#000">)</tspan></text>
<text x="1105.3" y="1457" text-anchor="end" font-size="26.5">133</text>
<text x="1049.2" y="1457" text-anchor="end" font-size="26.5">+</text>
<text x="1104.6" y="1487.5" text-anchor="end" font-size="26.5">119</text>
<text x="1049.7" y="1487.5" text-anchor="end" font-size="26.5">-</text>
<rect x="133.7" y="55.2" width="7.6" height="3.8" fill="#2b2f2f"/>
<text x="127.6" y="72" text-anchor="end" font-size="41">10</text>
<rect x="133.7" y="127" width="7.6" height="3.8" fill="#2b2f2f"/>
<text x="127.6" y="143.8" text-anchor="end" font-size="41">5</text>
<rect x="133.7" y="198.8" width="7.6" height="3.8" fill="#2b2f2f"/>
<text x="127.6" y="215.6" text-anchor="end" font-size="41">0</text>
<rect x="133.7" y="270.7" width="7.6" height="3.8" fill="#2b2f2f"/>
<text x="127.6" y="287.5" text-anchor="end" font-size="41">−5</text>
<rect x="133.7" y="342.5" width="7.6" height="3.8" fill="#2b2f2f"/>
<text x="127.6" y="359.3" text-anchor="end" font-size="41">−10</text>
<rect x="133.7" y="434.6" width="7.6" height="3.8" fill="#2b2f2f"/>
<text x="127.6" y="451.4" text-anchor="end" font-size="41">10</text>
<rect x="133.7" y="506.4" width="7.6" height="3.8" fill="#2b2f2f"/>
<text x="127.6" y="523.2" text-anchor="end" font-size="41">5</text>
<rect x="133.7" y="578.2" width="7.6" height="3.8" fill="#2b2f2f"/>
<text x="127.6" y="595" text-anchor="end" font-size="41">0</text>
<rect x="133.7" y="650" width="7.6" height="3.8" fill="#2b2f2f"/>
<text x="127.6" y="666.8" text-anchor="end" font-size="41">−5</text>
<rect x="133.7" y="721.8" width="7.6" height="3.8" fill="#2b2f2f"/>
<text x="127.6" y="738.6" text-anchor="end" font-size="41">−10</text>
<rect x="133.7" y="813.5" width="7.6" height="3.8" fill="#2b2f2f"/>
<text x="127.6" y="830.3" text-anchor="end" font-size="41">10</text>
<rect x="133.7" y="885.3" width="7.6" height="3.8" fill="#2b2f2f"/>
<text x="127.6" y="902.1" text-anchor="end" font-size="41">5</text>
<rect x="133.7" y="957.1" width="7.6" height="3.8" fill="#2b2f2f"/>
<text x="127.6" y="973.9" text-anchor="end" font-size="41">0</text>
<rect x="133.7" y="1028.9" width="7.6" height="3.8" fill="#2b2f2f"/>
<text x="127.6" y="1045.7" text-anchor="end" font-size="41">−5</text>
<rect x="133.7" y="1100.7" width="7.6" height="3.8" fill="#2b2f2f"/>
<text x="127.6" y="1117.5" text-anchor="end" font-size="41">−10</text>
<rect x="133.7" y="1193.5" width="7.6" height="3.8" fill="#2b2f2f"/>
<text x="127.6" y="1210.3" text-anchor="end" font-size="41">10</text>
<rect x="133.7" y="1265.2" width="7.6" height="3.8" fill="#2b2f2f"/>
<text x="127.6" y="1282" text-anchor="end" font-size="41">5</text>
<rect x="133.7" y="1336.9" width="7.6" height="3.8" fill="#2b2f2f"/>
<text x="127.6" y="1353.7" text-anchor="end" font-size="41">0</text>
<rect x="133.7" y="1408.6" width="7.6" height="3.8" fill="#2b2f2f"/>
<text x="127.6" y="1425.4" text-anchor="end" font-size="41">−5</text>
<rect x="133.7" y="1480.3" width="7.6" height="3.8" fill="#2b2f2f"/>
<text x="127.6" y="1497.1" text-anchor="end" font-size="41">−10</text>
<rect x="202.5" y="1497.6" width="3.8" height="7" fill="#2b2f2f"/>
<text transform="translate(233.4 1532.2) rotate(-90)" text-anchor="middle" font-size="41">0</text>
<rect x="312" y="1497.6" width="3.8" height="7" fill="#2b2f2f"/>
<text transform="translate(342.9 1532.2) rotate(-90)" text-anchor="middle" font-size="41">5</text>
<rect x="421.5" y="1497.6" width="3.8" height="7" fill="#2b2f2f"/>
<text transform="translate(452.4 1532.2) rotate(-90)" text-anchor="middle" font-size="41">10</text>
<rect x="531" y="1497.6" width="3.8" height="7" fill="#2b2f2f"/>
<text transform="translate(561.9 1532.2) rotate(-90)" text-anchor="middle" font-size="41">15</text>
<rect x="699.6" y="1497.6" width="3.8" height="7" fill="#2b2f2f"/>
<text transform="translate(730.5 1532.2) rotate(-90)" text-anchor="middle" font-size="41">0</text>
<rect x="809.1" y="1497.6" width="3.8" height="7" fill="#2b2f2f"/>
<text transform="translate(840 1532.2) rotate(-90)" text-anchor="middle" font-size="41">5</text>
<rect x="918.6" y="1497.6" width="3.8" height="7" fill="#2b2f2f"/>
<text transform="translate(949.5 1532.2) rotate(-90)" text-anchor="middle" font-size="41">10</text>
<rect x="1028.1" y="1497.6" width="3.8" height="7" fill="#2b2f2f"/>
<text transform="translate(1059 1532.2) rotate(-90)" text-anchor="middle" font-size="41">15</text>
<rect x="1196.4" y="1111.1" width="3.8" height="7" fill="#2b2f2f"/>
<text transform="translate(1227.3 1149.5) rotate(-90)" text-anchor="middle" font-size="41">0</text>
<rect x="1305.9" y="1111.1" width="3.8" height="7" fill="#2b2f2f"/>
<text transform="translate(1336.8 1149.5) rotate(-90)" text-anchor="middle" font-size="41">5</text>
<rect x="1415.4" y="1111.1" width="3.8" height="7" fill="#2b2f2f"/>
<text transform="translate(1446.3 1149.5) rotate(-90)" text-anchor="middle" font-size="41">10</text>
<rect x="1524.9" y="1111.1" width="3.8" height="7" fill="#2b2f2f"/>
<text transform="translate(1555.8 1149.5) rotate(-90)" text-anchor="middle" font-size="41">15</text>
<rect x="1694.4" y="1106.8" width="3.8" height="7" fill="#2b2f2f"/>
<text transform="translate(1725.3 1142.3) rotate(-90)" text-anchor="middle" font-size="41">0</text>
<rect x="1803.9" y="1106.8" width="3.8" height="7" fill="#2b2f2f"/>
<text transform="translate(1834.8 1142.3) rotate(-90)" text-anchor="middle" font-size="41">5</text>
<rect x="1913.4" y="1106.8" width="3.8" height="7" fill="#2b2f2f"/>
<text transform="translate(1944.3 1142.3) rotate(-90)" text-anchor="middle" font-size="41">10</text>
<rect x="2022.9" y="1106.8" width="3.8" height="7" fill="#2b2f2f"/>
<text transform="translate(2053.8 1142.3) rotate(-90)" text-anchor="middle" font-size="41">15</text>
<text x="1082.6" y="1604.7" text-anchor="middle" font-weight="bold" font-size="29.7">average log CPM</text>
<text transform="translate(26.6 745.6) rotate(-90) scale(0.98 1)" text-anchor="middle" font-weight="bold" font-size="33">log<tspan font-size="19" dy="10.6">2</tspan><tspan dy="-10.6"> fold change</tspan></text>
</svg>
</body></html>
